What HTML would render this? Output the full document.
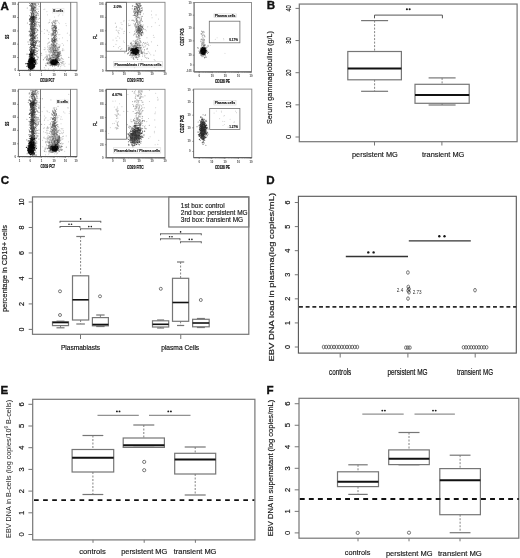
<!DOCTYPE html><html><head><meta charset="utf-8"><title>Figure</title><style>html,body{margin:0;padding:0;background:#fff;width:520px;height:558px;overflow:hidden}svg{display:block;will-change:transform}</style></head><body><svg width="520" height="558" viewBox="0 0 520 558"><defs><filter id="bl" x="0" y="0" width="1" height="1"><feGaussianBlur stdDeviation="0.35"/></filter></defs><rect width="520" height="558" fill="#fff"/><g filter="url(#bl)"><path d="M30.46 35.13h.01M33.99 49.55h.01M32.38 43.11h.01M36.9 13.94h.01M32.6 17.91h.01M36.1 48.3h.01M33.78 45.53h.01M33.04 44.24h.01M35.1 26.8h.01M34.59 18.06h.01M32.02 16.76h.01M35.8 15.51h.01M39.84 25.59h.01M33.93 28.74h.01M34.07 31.34h.01M31.88 54.76h.01M35.43 44.01h.01M31.36 34.98h.01M31.72 54.41h.01M37.93 13.41h.01M32.25 10.49h.01M37.41 34.46h.01M38.56 4.33h.01M35.27 3.89h.01M36.04 29.29h.01M39.68 26.71h.01M34.09 50.61h.01M33.06 35.35h.01M31.08 29.25h.01M34.71 28.33h.01M38.45 15.12h.01M32.15 12.2h.01M32.38 38.68h.01M33.29 12.63h.01M35.36 21.59h.01M35.16 45.99h.01M35.37 10.19h.01M33.82 16.18h.01M34.5 48.66h.01M35.14 29.02h.01M34.38 46.9h.01M35.91 35.91h.01M39.46 41.31h.01M36.14 6.85h.01M34.75 30.68h.01M30.22 28.91h.01M35.61 48.18h.01M29.54 21.15h.01M30.94 33.7h.01M36.82 5.14h.01M36.44 22.54h.01M34.21 19.12h.01M30.15 9.96h.01M33.63 45.27h.01M32.84 22.11h.01M36.26 53.87h.01M40.47 33.27h.01M35.16 34.07h.01M32.57 35.81h.01M31.56 37.85h.01M34.45 9.99h.01M34.14 25.34h.01M31.61 14.7h.01M34.9 23.33h.01M31.61 7.13h.01M37.49 53.29h.01M37.36 13.4h.01M37.42 37.6h.01M33.37 17.92h.01M35.94 48.33h.01M34.26 37.1h.01M33.59 8.98h.01M33.72 46.79h.01M31.22 52.08h.01M30.85 49.91h.01M36.67 32.2h.01M34.1 9.71h.01M35.16 12.2h.01M37.2 51.18h.01M30.09 31.27h.01M32.56 11.57h.01M35.06 48.86h.01M35.62 36h.01M33.62 32.19h.01M37.28 21.94h.01M35.15 23.78h.01M31.45 14.69h.01M32.18 4.02h.01M36.69 48.44h.01M35.81 26.79h.01M29.66 31.02h.01M38.1 19.07h.01M36.15 41.82h.01M38.09 3.34h.01M33.6 21.73h.01M33.83 3.61h.01M31.67 8.51h.01M41.2 53.26h.01M34.14 36.86h.01M38.73 24.7h.01M32.92 29.76h.01M35.03 48.26h.01M30.25 20.24h.01M33.6 33.29h.01M37.16 38.24h.01M31.35 20.84h.01M37.39 29.51h.01M35.48 42.56h.01M31.89 50.19h.01M33.3 10.01h.01M33.41 51.47h.01M33.21 41.91h.01M32.45 44.96h.01M33.81 9.25h.01M31.93 24.2h.01M31.25 45.21h.01M36.9 35.31h.01M30.62 44.03h.01M34.61 29.19h.01M32.91 40.47h.01M32.06 14h.01M36.82 12.52h.01M33.25 21.25h.01M38.5 11.51h.01M32.57 20.34h.01M35.6 52.25h.01M34.01 32.39h.01M32.64 20.02h.01M36.13 16.39h.01M34.2 52.46h.01M36.17 25.56h.01M34.48 53.96h.01M31.78 29.32h.01M34.33 29.62h.01M34.74 49.52h.01M37.09 41.37h.01M32.24 32.77h.01M34.5 24.61h.01M30.12 48.54h.01M36.29 23.82h.01M31.79 50.91h.01M29.9 5.64h.01M34.45 24.79h.01M37.47 29.53h.01M30.64 52.4h.01M31.77 15.3h.01M32.67 44.72h.01M31.66 37.85h.01M35.59 40.01h.01M32.5 35.37h.01M32.72 53.49h.01M36.12 19.63h.01M32.64 23.11h.01M35.73 12.75h.01M32.07 4.69h.01M31.45 13.28h.01M29.83 50.52h.01M39.44 46.53h.01M33.77 7.96h.01M35.23 34h.01M34.52 27.4h.01M35.02 33.52h.01M34.73 36.94h.01M39.56 18.25h.01M31.9 52.95h.01M30.55 26.69h.01M31.97 35.29h.01M31.13 35.67h.01M36.54 11.75h.01M36.73 5.28h.01M32.1 23.81h.01M30.98 42.49h.01M33.68 45.21h.01M38.22 40.69h.01M27.27 8h.01M35.97 50.41h.01M31.8 44.51h.01M37.3 48.52h.01M31.8 29.74h.01M33.86 50.53h.01M30.68 4.47h.01M32.06 3.61h.01M38.2 3.07h.01M36.73 15.4h.01M33.56 15.17h.01M32.34 11.94h.01M29.68 32.05h.01M33.58 4.07h.01M34.52 33.29h.01M34.38 10.8h.01M34.36 37.93h.01M31.68 3.12h.01M34.43 18.46h.01M34.5 51.73h.01M37.96 30.54h.01M39.45 45.01h.01M34.24 36.88h.01M32.61 34.37h.01M34.43 12.14h.01M33.02 32.44h.01M32.67 4.1h.01M34.45 44.49h.01M31.89 52.88h.01M36.18 47.26h.01M34.33 4.69h.01M35.25 19.95h.01M34.12 18.85h.01M32.71 7.97h.01M32.14 35.21h.01M33.98 44.27h.01M33.17 18.63h.01M35.21 47.73h.01M34.59 44.25h.01M31.06 8.84h.01M34.77 42.64h.01M31.11 48.78h.01M33 12.46h.01M33.83 32.4h.01M29.2 35.85h.01M34.84 34.29h.01M34.99 7.1h.01M34.19 37.04h.01M33.5 35.49h.01M33.63 45.67h.01M32.06 44.59h.01M33.9 19.34h.01M33.16 40.27h.01M34.84 47.97h.01M31.47 49.33h.01M35.21 10.56h.01M34.97 3.42h.01M34.23 36.49h.01M33.46 13.38h.01M36.04 31.88h.01M30.27 52.07h.01M35.8 22.1h.01M35.23 15.4h.01M35.34 26.2h.01M35.6 36.83h.01M32.9 7.36h.01M33.93 22.17h.01M36.26 9.09h.01M35.72 37.11h.01M35.14 46.02h.01M30.66 21.97h.01M36 21.7h.01M37.64 30.59h.01M37.23 13.4h.01M35.21 15.11h.01M30.55 19.48h.01M37.05 26.24h.01M34.22 6.32h.01M28.02 41.89h.01M35.58 32.69h.01M30.72 17.88h.01M31.23 6.11h.01M32.95 42.45h.01M37.91 8.95h.01M33.64 9.06h.01M35.3 8.93h.01M39.14 6.31h.01M38.74 50.04h.01M34.33 16.27h.01M33.97 18.24h.01M31.32 46.14h.01M32.79 34.86h.01M35.71 11.92h.01M35.63 25.05h.01M34.89 48.85h.01M37.19 21.89h.01M32.59 39.68h.01M34.45 7.13h.01M36.5 40.55h.01M36.12 43.15h.01M37.38 45.77h.01M35.63 37.73h.01M33.8 21.65h.01M35.54 5.4h.01M31.99 29.5h.01M30.34 42.15h.01M36.11 12.11h.01M34.46 16.11h.01M35.4 30.41h.01M30.19 41.66h.01M33.65 49.52h.01M33.04 8.66h.01M32.35 11.77h.01M28.74 44.38h.01M33.73 36.16h.01M36.93 40.21h.01M35.59 54.83h.01M33.04 51.78h.01M34.56 46.68h.01M36.57 43.19h.01M27.42 22.94h.01M34.28 35.99h.01M36.01 11.78h.01M36.37 42.25h.01M39.02 42.16h.01M37.55 40.23h.01M35.41 25.57h.01M35.39 22.04h.01M36.65 24.25h.01M33.2 3.77h.01M34.5 46.75h.01M36.96 30.75h.01M39.69 22.54h.01M34.19 31.05h.01M34.47 40.25h.01M35.12 22.22h.01M38.09 46.02h.01M34.52 50.73h.01M38.42 22.53h.01M32.09 9.3h.01M34.12 42.3h.01" stroke="#000" stroke-opacity="0.38" stroke-width="1.12" stroke-linecap="round"/><path d="M32.27 17.03h.01M30.88 53.55h.01M32.75 43.83h.01M35.65 23.98h.01M34.03 44.5h.01M31.21 26.87h.01M31.51 34.3h.01M32.09 49.54h.01M33.86 33.47h.01M31.57 27.23h.01M31.74 27.91h.01M33.71 19h.01M33.68 24.56h.01M32.13 26.57h.01M31.2 22.75h.01M30.66 18.46h.01M31.73 34.17h.01M29.81 24.36h.01M33.54 44.81h.01M31.81 51.98h.01M33.2 26.65h.01M34.94 38.32h.01M34.07 35.76h.01M31.16 18.93h.01M33.69 20.87h.01M34.05 50.51h.01M31.67 34.49h.01M31.41 47.38h.01M32.46 18.6h.01M30.6 39.2h.01M34.44 49.75h.01M29.59 49.82h.01M31.22 16.22h.01M32.26 36.35h.01M32.32 30.39h.01M32.81 45.64h.01M32.94 18.86h.01M32.33 26.33h.01M34.02 47.69h.01M29.93 34.31h.01M32.6 33.67h.01M31.71 53.77h.01M32.77 28.48h.01M32.88 17.63h.01M31.46 31.3h.01M31.8 21.98h.01M33.59 19.19h.01M33.04 38.15h.01M31.75 53.19h.01M35.15 38.6h.01M35.49 41.24h.01M30.77 28.62h.01M32.98 38.27h.01M35.74 45.34h.01M33.58 38.98h.01M32.88 47.31h.01M32.34 37.47h.01M31.92 23.73h.01M32.33 38.73h.01M31.91 35.15h.01M33.53 22.47h.01M32.1 40.15h.01M32.05 47.86h.01M31.1 21.27h.01M32.54 37.25h.01M31.48 44.61h.01M32.37 31.72h.01M33.9 26.53h.01M33.06 30.52h.01M33.23 37.13h.01M33.05 42.78h.01M32.67 37.81h.01M32.44 20.17h.01M32.22 47.9h.01M33.55 52.03h.01M31.24 19.95h.01M34.28 25.73h.01M32.64 22.77h.01M31.66 49.12h.01M31.99 51.5h.01M31.75 17.73h.01M32.8 28.96h.01M31.7 23.51h.01M34.03 34.31h.01M31.62 51.94h.01M29.76 18.74h.01M31.69 22.68h.01M30.09 34.99h.01M32.55 36.44h.01M33.92 45.07h.01M33.41 33.07h.01M30.93 21.5h.01M31.65 29.79h.01M34.82 54.3h.01M33 45.28h.01M32.61 20.54h.01M33.92 47.52h.01M35.67 28.13h.01M34.22 46.47h.01M32.77 16.5h.01M33.04 49.98h.01M33.37 22.33h.01M31.83 33.77h.01M31.28 41.81h.01M32.67 35.81h.01M31.42 22.45h.01M32.52 21.43h.01M32.72 27.1h.01M35.53 18.04h.01M31.54 24.45h.01M32.45 21.07h.01M32.39 34.13h.01M33.15 29.9h.01M33.91 38.89h.01M31.99 26.95h.01M31.57 17.32h.01M30.55 28.91h.01M31.44 45.45h.01M33.27 25.98h.01M32.66 31.78h.01M31.33 45.44h.01M32.13 31.86h.01M32.64 50.6h.01M33.23 51.8h.01M31.86 28.11h.01M32.29 44.7h.01M30.33 25.87h.01M31.16 21.44h.01M34.62 33.08h.01M29.86 39.5h.01M32.18 52.49h.01M32.87 21.69h.01M32.13 43.78h.01M31.59 34.54h.01M32.52 21.14h.01M32.59 53.93h.01M32.5 43.13h.01M30.25 21.03h.01M32.42 51.32h.01M31.53 20.02h.01M31.92 19.61h.01M32.88 28.93h.01M33.4 52.58h.01M33.72 17.29h.01M31.98 51.81h.01M33.76 39.85h.01M34.07 18.62h.01M34.02 38.18h.01M34.34 33.89h.01M32.42 38h.01M32.38 44.75h.01M33.63 42.47h.01M30.89 54.89h.01M32.86 22.11h.01M31.94 47.7h.01M32.14 32.03h.01M30.42 46.55h.01M31.49 50.78h.01M32.57 54.69h.01M33.71 26.38h.01M33.84 33.66h.01M32.5 52.77h.01M32.36 52.88h.01M31.56 30.54h.01M33.1 52.67h.01M32.29 31.83h.01M33.36 30.62h.01M34.79 45.51h.01M32.56 34.38h.01M30.73 33.48h.01M31.52 31.06h.01M30.78 32.88h.01M31.1 21.45h.01M34.23 18.38h.01M32.88 45.41h.01M30.7 38.02h.01M33.42 42.2h.01M34.18 47.29h.01M32.15 24.97h.01M31.76 25.12h.01M32.18 26.84h.01M32.96 27.85h.01M33.4 45.67h.01M34.08 30.59h.01M34.12 28.6h.01M34.08 40.82h.01M34.3 23.28h.01M33.43 20.15h.01M30.69 43.19h.01M32.44 45.5h.01M32.99 27.56h.01M32.12 40.81h.01M33.74 17.33h.01M32.15 31.77h.01M31.44 38.54h.01M34.41 25.88h.01M33.43 29.58h.01M32.87 39.77h.01M33.76 39.01h.01M33.93 22.01h.01M33.03 43.56h.01M29.53 19.12h.01M31.76 53.82h.01M32.03 23.89h.01M31.37 25.89h.01M32.85 23.81h.01M34.09 54.67h.01M31.99 27.18h.01M31.18 39.61h.01M35.14 54.63h.01M32.04 53.05h.01M31.06 17.65h.01M32.9 36.33h.01M33.13 39.45h.01M31.72 43.39h.01M33.59 29.1h.01M31.99 28.79h.01M31.45 16.17h.01M32.82 17.37h.01M33.56 37.45h.01M31.81 18.96h.01M33.01 23.9h.01M32.48 29h.01M36.13 18.75h.01M31.71 17.2h.01M34.33 52.15h.01M32.53 32.97h.01M32.44 23.99h.01M33.5 43.63h.01M33.72 16.37h.01M34.18 25.56h.01M33.01 53.47h.01M31.85 51.01h.01M31.93 40.8h.01M33.24 19.63h.01M33.33 28.4h.01M34.35 17.09h.01M33.12 24.55h.01M33.93 16.99h.01M34.5 20.92h.01M32.81 40.7h.01M30.74 19.92h.01M31.13 22.07h.01M30.8 51.21h.01M34.59 29.08h.01M31.54 28.99h.01M34.14 19.38h.01M33.33 47.04h.01M34.74 42.38h.01M33.85 37.34h.01M32.47 40.1h.01M32.35 19.91h.01M32.71 26.15h.01M32.82 38.76h.01M31.94 53.14h.01M32.56 47.87h.01M34.61 40.99h.01M30.47 36.23h.01M32.92 16.59h.01M31.47 50.74h.01M32.83 18.61h.01M33.65 21.03h.01M32.53 43.03h.01M33.57 47.67h.01M30.61 46.68h.01M33.98 33.64h.01M31.85 22.91h.01M33.38 17.38h.01M32.83 49.2h.01M29.37 54.13h.01M31.65 25.52h.01M32.88 49.78h.01M34.54 31.7h.01M32.96 28.14h.01M32.92 35.7h.01M30.83 16.32h.01M34.39 33.27h.01M34.86 23.78h.01M32.64 43.79h.01M32.33 35.6h.01M30.58 49.89h.01M33.7 50.97h.01M35.98 28.35h.01M33.5 26.93h.01M34.18 52.63h.01M33.28 35.66h.01M31.37 19.76h.01M34.27 17.79h.01M31.06 54.63h.01M32.34 38.59h.01M32.95 18.13h.01M33.7 35.94h.01M33.12 35.66h.01M33.08 32.98h.01M31.65 53.1h.01M30.99 53h.01M32.68 20.87h.01M31.71 21.92h.01M30.97 31.89h.01M31.02 48.53h.01M31.99 40.33h.01M30.28 44.46h.01M30.92 38.47h.01M30.56 24.19h.01M32.83 47.89h.01M33.11 16.55h.01M35.11 43.24h.01M30.73 23.58h.01M31.75 34.37h.01M33.74 54.03h.01M32.33 37.02h.01M32.19 18.22h.01M34.74 32.72h.01M32.18 41.75h.01M31.15 18.21h.01M30.95 25.85h.01M33.02 16.72h.01M32.98 37.06h.01M30.89 30.88h.01M31.37 35.64h.01M33.27 27.54h.01M33.32 41.62h.01M31.8 22.75h.01M33.38 51.36h.01M33.31 53.44h.01M30.37 35.23h.01M32.21 34.15h.01M33.12 49.53h.01M31.88 27.3h.01M29.93 47.32h.01M32.25 27.2h.01M33.54 44.08h.01M34.58 29.03h.01M29.86 39.5h.01M35.87 52.11h.01M31.19 18.12h.01M33.8 47.48h.01M34.14 37.13h.01M33.83 30.78h.01M32.79 29.66h.01M31.15 18.71h.01M33.38 26.08h.01M31.71 40.3h.01M29.45 19.81h.01M36.14 42.11h.01M33.49 53.53h.01M34.87 54.25h.01M31.46 50.68h.01M34.43 47.46h.01M34.59 22.94h.01M34.54 53.84h.01M32.57 23.91h.01M31.1 49.89h.01M32.38 50.24h.01M29.85 40.25h.01M30.47 36.33h.01M32.71 23.82h.01M31.36 36.26h.01M32.39 27.33h.01M32.46 20.91h.01M35.01 21h.01M34.22 47.25h.01M32.54 51.97h.01M34.11 21.53h.01M31.63 16.52h.01M32.18 26.28h.01M33.74 21.24h.01M31.05 23.36h.01M32.25 38.75h.01M30.95 32.47h.01M32.75 32.74h.01M34.64 24.02h.01M31.66 41.92h.01M32.88 27.29h.01M31.48 31.57h.01M31.16 34.07h.01M31.06 51.27h.01M34.42 25.61h.01M35.55 44.03h.01M33.2 28.07h.01M31.7 50.88h.01M33.48 31.37h.01M32.18 35.7h.01M33.6 50.21h.01M32.96 42.24h.01M32.95 19.68h.01M33.36 21.34h.01M31.88 54.64h.01M32.09 17.14h.01M30.45 27.73h.01M32.05 53.4h.01M30.82 16.59h.01M32.42 22.29h.01M31.4 24.32h.01M32.73 19.37h.01M33.17 34.41h.01M30.82 39.11h.01M31.58 28.41h.01M31.42 20.24h.01M33.53 47.63h.01M34.73 47.37h.01M33.66 37.92h.01M32.16 21.37h.01M34.43 37.13h.01M30.71 40.55h.01M34.47 32.7h.01M31.78 49.69h.01M29.12 31.21h.01M35.91 35.92h.01M34.57 20.45h.01M31.31 37.98h.01M32.81 45.89h.01M32.33 44.52h.01M32.73 26.02h.01M30.75 54.68h.01M31.75 44.08h.01M33.18 32.53h.01M32.88 32.18h.01M34.1 46.39h.01M32.7 22.85h.01" stroke="#000" stroke-opacity="0.67" stroke-width="1.12" stroke-linecap="round"/><path d="M35.2 10.62h.01M34.27 14.17h.01M33.23 13.63h.01M36.7 15.05h.01M34.3 3.89h.01M32.62 5.25h.01M34.4 7.56h.01M33.87 7.07h.01M31.79 15.6h.01M33.32 19.88h.01M32.93 14.3h.01M32.92 7.36h.01M32.73 16.45h.01M32.48 18.64h.01M30.49 12.71h.01M32.62 8.28h.01M33.13 8.39h.01M33.37 13.4h.01M31.33 17.56h.01M34.24 8.13h.01M31.2 5.43h.01M35.35 4.47h.01M32.06 17.32h.01M32.36 13.24h.01M34.97 19.83h.01M32.57 3.25h.01M32.71 8.59h.01M33.56 16.32h.01M34.93 13.9h.01M29.58 3.2h.01M31.84 9.23h.01M31.54 13.48h.01M31.42 14.38h.01M31.8 10.13h.01M31.82 5.39h.01M33.69 19.39h.01M31.74 10.4h.01M33.4 14.91h.01M33.86 11.63h.01M32 3.45h.01M33.41 6.26h.01M35.88 3.13h.01M33.73 5.43h.01M32.16 5.6h.01M33.09 9.47h.01M31.7 7.79h.01M33.64 8.53h.01M34.61 16.7h.01M32.86 3.86h.01M35.02 16.54h.01M32.39 11.61h.01M33.51 9.9h.01M31.53 6.81h.01M31.86 11.76h.01M32.36 5.99h.01M36.68 17.45h.01M32.55 16.83h.01M32.35 7.79h.01M32.94 17.98h.01M34.25 7.38h.01M33.5 13.82h.01M36.49 17.45h.01M33.54 16.37h.01M35.52 17.53h.01M33.64 10.8h.01M34.17 17.16h.01M30.89 10.3h.01M33 6.75h.01M33.09 10.66h.01M32.81 8.04h.01M29.76 15.81h.01M34.61 16.97h.01M32.58 4.54h.01M32.5 4.96h.01M32.79 8.91h.01M32.84 10.34h.01M33.85 19.21h.01M31.17 18.95h.01M31.71 19.41h.01M33.67 15.14h.01M33.43 14.19h.01M32.6 6.87h.01M32.28 8.71h.01M33.11 16.99h.01M35.09 6.97h.01M31.51 3.43h.01M35.64 7.68h.01M34.55 7.82h.01M32.48 15.03h.01M30.85 6.14h.01M30.43 18.14h.01M31.14 17.39h.01M32.54 13.32h.01M32.68 12.06h.01M32.38 6.01h.01M33.36 17.75h.01M29.78 15.69h.01M33.99 11.23h.01M30.93 4.9h.01M32.14 5.89h.01M32.54 8.83h.01M31.35 7.96h.01M31.01 3.1h.01M31.59 9.31h.01M33.18 10.08h.01M34.14 7.17h.01M34.1 8.92h.01M31.61 7.98h.01M31.93 8.78h.01M31.73 13.14h.01M33.92 10.95h.01M29.94 5.56h.01M35.18 16.31h.01M32.42 11.24h.01" stroke="#000" stroke-opacity="0.51" stroke-width="1.12" stroke-linecap="round"/><path d="M30.22 64.35h.01M32.95 64.36h.01M32.98 63.78h.01M33.24 66.89h.01M31.25 67.43h.01M31.65 63.64h.01M30.02 62.59h.01M32.57 59.72h.01M32.37 64.38h.01M31.82 57.22h.01M31.25 65.22h.01M30.26 63.65h.01M27.83 65.28h.01M30.41 65.84h.01M28.64 65.34h.01M31.04 65.66h.01M30.01 61.67h.01M34.76 61.08h.01M30.34 62.63h.01M29.87 66.73h.01M33.99 61.43h.01M28.81 66.68h.01M33.06 65.7h.01M33.13 60.97h.01M31.15 59.52h.01M29.27 66.15h.01M30.39 69.78h.01M31.51 61.61h.01M32.6 68.44h.01M32.13 59.99h.01M31.96 67.25h.01M30.66 61.23h.01M32.92 63.79h.01M29.75 62.34h.01M30.27 64.23h.01M31.56 66.62h.01M32.46 59.02h.01M32.01 65.91h.01M32.08 66.28h.01M30.58 60.74h.01M32.8 60.42h.01M28.16 66.27h.01M30.31 62.54h.01M29.3 59.69h.01M29.67 62.39h.01M31.95 56.97h.01M32.53 60.09h.01M29.8 65.3h.01M31.29 59.1h.01M34.17 60.99h.01M31.77 63.96h.01M33.52 62.12h.01M32.91 61.32h.01M33.08 61.26h.01M30.86 68.71h.01M31.88 63.71h.01M34.76 64.41h.01M30.18 65.46h.01M29.63 66.56h.01M33.21 61.8h.01M30.46 63.89h.01M31.42 60.66h.01M32.25 57.68h.01M30.75 62.27h.01M30.99 64.26h.01M29.56 65.05h.01M31.13 61.58h.01M29.35 60.09h.01M31.94 60.7h.01M31.5 66.37h.01M32.95 67.77h.01M30.96 60.36h.01M32.93 64.27h.01M33.09 63.43h.01M33.19 65.77h.01M32.47 64.81h.01M32 64.05h.01M31.74 66.17h.01M30.63 68.26h.01M31.24 66.16h.01M31.26 62.71h.01M34.45 62.53h.01M29.48 61.4h.01M30.92 69.43h.01M31.71 66.02h.01M29.9 64.39h.01M32.41 68.44h.01M30.36 65.09h.01M31.85 60.54h.01M31.37 62.66h.01M27.91 65.08h.01M32.21 62.17h.01M29.39 67.54h.01M31.8 66.25h.01M33.52 61.94h.01M32.62 62.72h.01M31.31 63.16h.01M31.4 66.52h.01M31.59 62.97h.01M30.99 64.36h.01M30.06 61.99h.01M31.32 61.82h.01M31.22 61.69h.01M34.41 67.12h.01M32.07 63.25h.01M34.69 64.3h.01M31.27 64.25h.01M31.86 67.35h.01M31.37 69.28h.01M30.08 65.34h.01M29.9 68.49h.01M30.9 63.24h.01M32.79 66.91h.01M29.73 62.43h.01M29.31 63.78h.01M31.25 62.42h.01M30.37 62.32h.01M30.28 64.88h.01M33.67 57.99h.01M31.23 62.23h.01M32.14 60.74h.01M31.18 60.49h.01M32.45 63.68h.01M31.16 64.44h.01M31.03 59.05h.01M32.29 64.21h.01M31.17 66.16h.01M33.23 60.34h.01M30.23 67.73h.01M33.53 61.33h.01M29.63 61.61h.01M30.65 58.96h.01M31.45 59.82h.01M29.58 65.97h.01M30.38 63.2h.01M32.34 65.68h.01M30.89 63.52h.01M30.16 68.29h.01M32.37 60.31h.01M31.41 65.4h.01M32.12 68.52h.01M33.46 61.89h.01M31.27 59.81h.01M31.77 63.82h.01M35.46 63.67h.01M28.26 61.52h.01M31.57 59.88h.01M30.1 62.38h.01M31.91 62.94h.01M30.07 65.61h.01M30.59 62h.01M29.33 61.2h.01M32.38 58.87h.01M31.29 65.41h.01M30.83 64.07h.01M29.72 67.07h.01M33.05 64.06h.01M28.77 60.47h.01M32.87 68.2h.01M31.84 66.89h.01M30.49 62.87h.01M31.4 64.58h.01M29.11 66.03h.01M33.38 60.18h.01M29.37 64.38h.01M30.42 56.76h.01M32.61 63.84h.01M30.69 69.32h.01M31.61 61.29h.01M31.55 60.49h.01M30.26 64.48h.01M30.57 62.14h.01M33.9 65.81h.01M32.6 64.88h.01M32.13 67.48h.01M31.37 68.6h.01M29.97 62.69h.01M29.33 62.44h.01M32.18 67.46h.01M30.41 63.41h.01M30.86 61.33h.01M29.62 63.57h.01M28.8 63.71h.01M31.43 61.56h.01M29.88 59.52h.01M34.21 59.64h.01M33.74 65.08h.01M30.85 60.16h.01M32.96 68.24h.01M30 62.56h.01M32.98 64.34h.01M34.4 61.8h.01M32.21 59.9h.01M34.54 61.36h.01M28.09 63.05h.01M31.19 68.76h.01M30.89 63.36h.01M32.29 67.84h.01M31.31 66.31h.01M32.18 62.57h.01M31.52 63.48h.01M30.03 66.8h.01M29.32 66.68h.01M32.83 63.14h.01M30.25 62.77h.01M32.11 65.48h.01M31.83 66.18h.01M30.56 64.06h.01M29.05 65.54h.01M31.63 62.24h.01M33.14 65.34h.01M27.18 63.51h.01M29.22 66.39h.01M35.13 61.95h.01M31.51 62.7h.01M31.93 65.2h.01M33.33 60.64h.01M33.76 60.79h.01M31.82 66.64h.01M32.47 60.77h.01M30.35 62.11h.01M31.32 66.61h.01M29.46 64.71h.01M32.31 64.96h.01M32.1 67.65h.01M32.13 65.8h.01M32.25 68.42h.01M28.55 66.99h.01M31.01 62.61h.01M29.95 58.17h.01M30.83 61.48h.01M32.14 59.28h.01M33.55 64.16h.01M31.03 61.41h.01M30.22 60.24h.01M30.58 63.42h.01M31.13 59.44h.01M31 60.9h.01M31.64 68.62h.01M32.34 62.52h.01M28.96 59.44h.01M28.87 65.43h.01M30.25 63.58h.01M30.47 63.66h.01M33.5 61.48h.01M30.89 61.14h.01M32.71 60.53h.01M29.7 59.51h.01M29.29 64.72h.01M35.25 60.61h.01M32.83 64.1h.01M29.75 62.63h.01M31.05 61.47h.01M34.3 58.06h.01M31.97 64.33h.01M30.53 63.82h.01M32.72 63.83h.01M32.03 65.34h.01M28.35 67.54h.01M34.82 66.15h.01M32.92 59.46h.01M31.22 61.13h.01M30.52 66.11h.01M30.19 63.04h.01M28.54 62.96h.01M31.54 61.43h.01M30.32 68.68h.01M29.59 60.46h.01M30.19 66.76h.01M34.55 64.33h.01M30.32 62.2h.01M33 60.85h.01M33.58 67.37h.01M31.51 65.21h.01M32.52 67.75h.01M29.82 66.71h.01M30.84 61.25h.01M31.55 62.8h.01M29.92 58.93h.01M29.99 67.47h.01M34.34 65.22h.01M33.18 61.95h.01M31.28 64.19h.01M29.78 60.63h.01M31.55 62.5h.01M29.8 64.48h.01M31.01 66.26h.01M31.39 62.56h.01M31.59 62.92h.01M30.4 62.27h.01M32.52 65.21h.01M33.33 58.66h.01M30.81 62.24h.01M31.66 62.13h.01M30.63 65.59h.01M31.67 60.13h.01M33.4 66.19h.01M30.54 65.73h.01M30.3 66.55h.01M31.07 61.15h.01M30.84 61.26h.01M31.69 63.89h.01M31.45 61.84h.01M25.91 63.66h.01M28.56 64.08h.01M33.1 64.17h.01M30.82 62.9h.01M31.2 61.86h.01M30.52 60.81h.01M33.18 63.36h.01M32.83 62.7h.01M31.51 62.92h.01M32.09 65.71h.01M31.76 61.51h.01M30.23 68.05h.01M30.98 62.58h.01M33.6 66.45h.01M32.2 62.28h.01M34.93 64.5h.01M32.22 62.92h.01M29.28 59.66h.01M32.01 64.5h.01M31.04 60.12h.01M29.24 62.48h.01M29.22 65.92h.01M32.72 61.74h.01M30.09 53.74h.01M30.51 62.9h.01M32.85 65.11h.01M32.28 64h.01M32.39 67.45h.01M29.8 62.12h.01M29.32 67.93h.01M33.35 65.51h.01M29.6 63.88h.01M31.05 63.63h.01M31.12 64.86h.01M30.81 65.79h.01M31.76 62.58h.01M31.23 62.17h.01M32.62 62.64h.01M31.84 62.3h.01M29.17 65.94h.01M29.81 65.3h.01M32.03 58.76h.01M29.98 61.96h.01M30.17 60.09h.01M32.51 62.73h.01M31.98 62.19h.01M31.86 61.3h.01M31.36 65.03h.01M31.47 62.12h.01M29.77 63.87h.01M31.92 62.68h.01M30.25 64.92h.01M35.12 62.55h.01M31.91 64.46h.01M27.55 63.75h.01M30.34 67.28h.01M31.02 61.22h.01M31.07 63.87h.01M30.56 63.25h.01M29.37 62.77h.01M32.56 68.91h.01M32.46 64.16h.01M33.18 66.25h.01M33.9 66.43h.01M31.22 64.12h.01M31.67 64.25h.01M31.7 61.21h.01M28.24 61.52h.01M28.36 63.59h.01M31.41 58.71h.01M32.43 65.83h.01M31.54 68.07h.01M34.21 60.02h.01M32.96 64.63h.01M32.03 66.02h.01M30.32 61.74h.01M30.16 61.29h.01M31.25 59.33h.01M29.83 65.02h.01M31.29 64.47h.01M28.57 61.21h.01M30.57 63.49h.01M30.52 66.01h.01M31.31 63.45h.01M31.42 65.38h.01M30.69 66.54h.01M32.09 63.83h.01M31.46 64.86h.01M32.92 66.05h.01M31.96 65.85h.01M31.58 66.91h.01M31.36 57.59h.01M33.41 63.7h.01M29.64 62.84h.01M30.07 69.28h.01M32.15 59.01h.01M32.22 62.28h.01M34.28 60.45h.01M28.03 63.58h.01M30.88 62.23h.01M28.19 64.6h.01M33.91 58.05h.01M33.16 61.81h.01M34.92 64.62h.01M31.12 66.5h.01M32.19 61.74h.01M32.47 61.97h.01M28.72 69.09h.01M30.88 61.69h.01M31.91 59.03h.01M29.37 62h.01M30.62 63.6h.01M33.08 62.07h.01M32.14 65.08h.01M29.77 64.04h.01M29.99 66.38h.01M32.08 63.45h.01M29.39 63.72h.01M30.25 65.38h.01M31.22 61.13h.01M32.79 65.42h.01M30.51 66.65h.01M30.95 62.53h.01M31.59 61.29h.01M30.74 62.95h.01M33.7 67.6h.01M31.01 67.91h.01M31.34 64.47h.01M32.73 64.22h.01M35.02 64.08h.01M29.6 67.06h.01M30.78 62.55h.01M26.91 66.2h.01M32.63 65.64h.01M32.87 68.13h.01M31.33 66.03h.01M30.28 62.41h.01M32.99 64.5h.01M29.4 64.41h.01M31.13 61.11h.01M32.05 62.27h.01M29.04 60.29h.01M34.05 59.16h.01M31.73 65.11h.01M32.36 59.97h.01M30.92 63.79h.01" stroke="#000" stroke-opacity="0.95" stroke-width="1.12" stroke-linecap="round"/><path d="M32.86 56.32h.01M30.5 60.61h.01M33.23 58.96h.01M31.17 59.06h.01M32.03 60.18h.01M30.4 58.3h.01M31.71 55.11h.01M32.16 58.09h.01M31.41 59.03h.01M30.2 57.86h.01M32.42 58.74h.01M33.19 54.88h.01M30.09 58.62h.01M32.45 63.51h.01M32.64 55.73h.01M32.87 55.8h.01M30.12 64.78h.01M32.29 59.86h.01M32.58 62.71h.01M32.24 61.17h.01M30.67 54.38h.01M33.61 61.83h.01M32.51 58.59h.01M32.1 56.21h.01M33.75 59.71h.01M32.51 58.98h.01M33.16 59.31h.01M32.79 54.96h.01M32.51 63.69h.01M31.28 57.67h.01M32.97 60.49h.01M32.65 53.79h.01M32.5 54.92h.01M30.91 59.42h.01M31.55 60.11h.01M35.68 60.02h.01M32.77 55.67h.01M31.13 55.23h.01M31.26 55.16h.01M31.11 57.46h.01M30.7 54.31h.01M30.27 59.18h.01M31.97 60.67h.01M33.15 57.11h.01M32.7 54.25h.01M34.64 61.11h.01M31.64 54.98h.01M32.36 53.14h.01M30.96 59.95h.01M31.99 56.72h.01M33.04 55.3h.01M32.24 56.71h.01M30.88 59.2h.01M30.71 62.95h.01M31.2 63.17h.01M30.59 59.58h.01M30.46 54.51h.01M32.09 59.76h.01M30.37 61.08h.01M30.94 58.34h.01M32.36 59.55h.01M29.74 62.21h.01M32.57 56.89h.01M30.67 53.6h.01M30.27 59.42h.01M31.49 55.06h.01M31.27 62.07h.01M31.5 56.48h.01M33.52 59.2h.01M31.95 56.42h.01M30.04 54.96h.01M31.32 57.43h.01M32.33 59.43h.01M32.17 58.57h.01M30.69 52.4h.01M31.27 55.52h.01M31.12 57.29h.01M30.41 55.11h.01M31.78 58.3h.01M31.11 59.3h.01M31.64 55.35h.01M31.95 62.89h.01M31.09 61.03h.01M33.55 61.9h.01M30.91 63.24h.01M32.04 57.34h.01M31.62 59.56h.01M31.96 57.54h.01M33.44 56.12h.01M30.65 60.06h.01M32.74 60.84h.01M30.61 60.81h.01M32.48 62.58h.01M30.4 58.57h.01M31.57 53.87h.01M31.04 60.93h.01M31.34 56.12h.01M32.94 60.57h.01M33.08 55.95h.01M31.83 60.68h.01M31.11 56.05h.01M32.89 62.06h.01M30.52 51.25h.01M30.16 55.37h.01M31.73 59.6h.01M31.72 56.18h.01M32.08 55.5h.01M31.84 56.33h.01M35.12 60.12h.01M30.9 55.41h.01M31.37 53.72h.01M31.02 56.08h.01M32.96 56.89h.01M30.95 54.51h.01M30.49 57.83h.01M31.64 60.95h.01M31.15 60.75h.01M32.21 57.99h.01M29.49 54.65h.01M32.79 61.63h.01M32.15 59.98h.01M31.41 57.03h.01M31.1 60.53h.01M32.31 57.39h.01M31.51 59.45h.01M32.29 55.84h.01M33.96 58.67h.01M31.91 61.84h.01M33.13 57.77h.01M32.54 55.22h.01M31.13 52.12h.01M33.36 53.06h.01M32.72 55.84h.01M30.73 57.49h.01M32.22 59.59h.01M34.03 58.93h.01M32.96 56.44h.01M32.76 58.4h.01M31.34 57.75h.01M31.83 58.5h.01M32.38 56.68h.01M31.01 59.94h.01M29.86 56.39h.01M33.76 50.96h.01M31.07 59.79h.01M29.92 64.76h.01M28.79 61.74h.01M33.77 60.38h.01M31.63 58.93h.01M30.82 60.1h.01M30.56 57.29h.01M33.1 55.1h.01M31.46 58.43h.01M30.29 61.03h.01M32.31 54.06h.01M31.84 55.98h.01M31.11 58.2h.01M31.05 60.51h.01M31.05 60.55h.01M31.85 60.22h.01" stroke="#000" stroke-opacity="0.8" stroke-width="1.12" stroke-linecap="round"/><path d="M31.05 58.83h.01M29.65 63.49h.01M35.27 62.07h.01M31.81 62.67h.01M32.24 67.29h.01M34.47 57.4h.01M30.72 66.88h.01M33.01 60h.01M35.03 59.33h.01M31.66 59.02h.01M27.79 64.72h.01M29.52 58.55h.01M30.59 64.13h.01M32.14 61.07h.01M28.44 60.62h.01M28.9 62.32h.01M33.14 60.93h.01M37 63.27h.01M33.67 61.61h.01M31.86 65.15h.01M34.83 55.41h.01M34.73 63.21h.01M34.51 63h.01M29.44 55.96h.01M36.5 62.09h.01M29.04 62.5h.01M31.47 53.07h.01M27.03 54.11h.01M32.93 60.79h.01M31.73 62.22h.01M33.68 51.96h.01M31.61 57.44h.01M29.46 58.65h.01M32.02 59.85h.01M28.95 58.92h.01M36.94 56.47h.01M28.42 62.18h.01M33.67 63h.01M29.72 65.29h.01M30.49 56.12h.01M30.9 60.53h.01M33.94 63.68h.01M32.25 65.01h.01M32.49 64.85h.01M29.07 54.23h.01M34.08 55.02h.01M31.61 60.58h.01M31.18 59.05h.01M35.5 50.12h.01M32.35 60.92h.01M33.97 68.86h.01M29.57 61.38h.01M31.87 63.41h.01M32.67 63.84h.01M31.33 61.21h.01M30.76 58.14h.01M31.97 60.39h.01M29.6 67.75h.01M31.99 55.05h.01M34.83 57.78h.01M33.47 60.93h.01M32.88 61.74h.01M30.98 61.18h.01M36.98 51.38h.01M32.45 62.87h.01M29.88 55.11h.01M37.27 59.4h.01M37.08 63.3h.01M32.48 63.05h.01M33.76 66.07h.01M33.3 61.62h.01M32.71 66.81h.01M34.18 56.69h.01M30.84 62.42h.01M30.87 59.38h.01M30.1 59.87h.01M33.27 65.28h.01M34.6 63.14h.01M31.15 48.85h.01M31.94 61.77h.01M36.72 55.07h.01M36.68 59.92h.01M33.97 50.08h.01M32.62 59.52h.01M33.87 61.39h.01M29.67 65.07h.01M33.9 63.57h.01M34.62 65.73h.01M32.25 55.16h.01M29.11 66.8h.01M33.93 61.44h.01M31.3 61.14h.01M32.36 59.55h.01M32.83 58.4h.01M29.31 57.88h.01M33.96 64.26h.01M31.8 61.22h.01M31.6 56.24h.01M35.29 62.6h.01M38 57.75h.01M31.98 64.8h.01M31.74 55.03h.01M30.12 61.43h.01M33.09 60.59h.01M34.61 65.27h.01M33.04 61.12h.01M31.72 63.37h.01M34.42 61.26h.01M33.33 59.61h.01M29.05 56.7h.01M34.06 62.92h.01M35.96 61.24h.01M34.29 66.69h.01M34.59 58.38h.01M31.88 61.56h.01M30.03 63.04h.01M34.66 58.93h.01M36.84 59.75h.01M31.83 59.98h.01M30.67 62.8h.01M32.35 68.14h.01M33.7 63.31h.01M31.79 54.92h.01M32.09 57.34h.01M34.49 60.87h.01M36.13 64.16h.01M34.22 61.99h.01M32.78 63.81h.01M34.42 57.94h.01M32.09 59.9h.01M30.71 54.77h.01M35.03 61.26h.01M32.99 68.93h.01M38.07 57.18h.01" stroke="#000" stroke-opacity="0.48" stroke-width="1.12" stroke-linecap="round"/><path d="M55.67 63.02h.01M54.82 62.88h.01M54.27 63.99h.01M55.1 62.75h.01M55.92 63.3h.01M54.9 62.73h.01M56.59 62.91h.01M54.19 61.55h.01M53.86 61.35h.01M54.44 62.66h.01M51.64 62.42h.01M55.15 62.57h.01M53.06 63.67h.01M53.4 61.17h.01M52.9 62.39h.01M55.58 63.57h.01M54.58 61.21h.01M53.45 61.5h.01M54.07 60.63h.01M54.45 63.05h.01M54.11 62.86h.01M53.08 60.95h.01M53.47 63.56h.01M55.64 61.94h.01M55.87 62.08h.01M56.27 62.88h.01M53.71 63.2h.01M53.29 61.46h.01M52.41 62.66h.01M54.23 62.32h.01M53.77 63.84h.01M53.75 61.68h.01M55.92 63.82h.01M54.74 60.66h.01M53.52 63.01h.01M54.32 63.95h.01M52.52 63.08h.01M53.48 63.72h.01M54.2 63.43h.01M53.46 60.99h.01M52.86 61.79h.01M52.97 63.6h.01M56.04 62.67h.01M52.96 62.28h.01M53.41 63.85h.01M54.71 62.89h.01M53.78 60.39h.01M53.3 61.28h.01M54.78 62.5h.01M53.26 62.01h.01M56.34 61.44h.01M53.11 62.17h.01M53.39 61.97h.01M54.99 64.13h.01M51.99 62.38h.01M54.35 62.32h.01M54.06 62.06h.01M55.61 61.93h.01M54.13 62.4h.01M54.44 62.23h.01M55.6 62.39h.01M54.53 62.35h.01M53 61.57h.01M52.93 62.59h.01M53.37 61.34h.01M54.61 62.93h.01M52.01 64.09h.01M54.34 62.29h.01M55.69 62.47h.01M53.51 64.59h.01M52.9 62.3h.01M55.4 61.33h.01M54.17 62.79h.01M57.42 61.51h.01M54.24 63.06h.01M54.41 61.2h.01M54.83 62.51h.01M54.88 63.53h.01M55.62 62.81h.01M54.7 61.3h.01M54.13 62.62h.01M53.78 62.5h.01M53.23 63.93h.01M57.1 62.01h.01M54.82 62.17h.01M55.94 62.83h.01M54.4 62.18h.01M54.46 61.4h.01M55.18 61.69h.01M55 62.53h.01M55.72 62.38h.01M55.63 61.48h.01M55.09 62.18h.01M54.55 62.47h.01M55.52 60.38h.01M54.72 60.91h.01M55.87 60.43h.01M53 60.73h.01M56.43 61.11h.01M54.45 61.86h.01M51.96 62.06h.01M55.16 62.22h.01M55.52 62.04h.01M54.31 62.02h.01M54.75 64.3h.01M54.77 62.59h.01M53.5 61.64h.01M56.2 61.29h.01M53.11 62.3h.01M53.75 64.36h.01M51.22 62.76h.01M55.23 61.28h.01M53.46 62.83h.01M56.42 61.48h.01M52.25 63.37h.01M56.28 62.06h.01M51.42 63.85h.01M54.04 63.52h.01M54.24 62.02h.01M53.71 63.87h.01M56.16 60.26h.01M53.08 64.18h.01M53.82 61.04h.01M54.31 62.29h.01M54.17 61.92h.01M53.9 61.94h.01M54.73 61.59h.01M53.92 62.26h.01M56 62.77h.01M54.16 62.94h.01M54.83 63.49h.01M54.96 64.19h.01M56.05 62.36h.01M53.76 63.28h.01M54.97 62.31h.01M52.38 60.57h.01M54.75 63.17h.01M55.34 61.11h.01M55.65 61.87h.01M54.8 62.82h.01M53.26 61.81h.01M51.61 61.48h.01M51.96 62.84h.01M54.38 63.31h.01M54.76 61.77h.01M54.75 62.01h.01M55.09 62.72h.01M53.01 62.4h.01M54.37 62.09h.01M55.46 64.11h.01M53.82 62.05h.01M51.38 62.27h.01M53.73 60.24h.01M54.68 62.99h.01M53.35 62.03h.01M53.04 63.16h.01M52.33 62.09h.01M56.84 62.45h.01M54.91 62.25h.01M52.77 62.37h.01M54.83 61.38h.01M54.74 63.64h.01M55.69 60.82h.01M53.03 60.79h.01M55.69 63.01h.01M55.21 61.52h.01M52.78 62.48h.01M54.43 61.55h.01M54.48 63.04h.01M54.6 61.36h.01M51.55 62.14h.01M54.51 62.14h.01M53.74 61.71h.01M55.23 62.35h.01M54.46 61.43h.01M53.49 62.56h.01M52.99 61.14h.01M53.87 63.6h.01M54.55 63.86h.01M54.13 62.09h.01M52.49 61.82h.01M56.17 62.73h.01M55.25 63.11h.01M54.29 62.2h.01M54.45 63.07h.01M54.9 62.89h.01M54.5 61.63h.01M53.96 61.46h.01M55.61 60.3h.01M54.02 64.79h.01M53.86 61.27h.01M54.28 63.69h.01M54.09 63.01h.01M54.43 62.03h.01M58.4 62.47h.01M53.6 61.91h.01M54.79 62.81h.01M55.3 62.54h.01M52.44 62.93h.01M53.9 62.11h.01M52.37 61.83h.01M53.36 62.36h.01M52.41 62.45h.01M54.46 61.28h.01M53.49 61.54h.01M55.48 59.87h.01M53.85 60.74h.01M53.74 63.25h.01M53.48 62.54h.01M53.2 64.34h.01M55.49 63.53h.01M52.57 61.3h.01M55.7 62.21h.01M53.96 62.73h.01M52.67 63.17h.01M54.32 62.88h.01M53.43 62.91h.01M53.38 63.35h.01M55.77 63.31h.01M54.97 63.03h.01" stroke="#000" stroke-opacity="0.95" stroke-width="1.12" stroke-linecap="round"/><path d="M57.79 62.55h.01M50.86 62.9h.01M56.7 61.04h.01M56.79 62.49h.01M57.2 63.11h.01M56.49 64.01h.01M56.93 59.87h.01M51.27 63.28h.01M56.4 60.34h.01M53.03 59.93h.01M57.14 63.1h.01M51.93 63.47h.01M52.93 63.79h.01M50.48 63.09h.01M53.96 60.26h.01M57.05 63.79h.01M57.44 61h.01M51.06 61.93h.01M52.89 63.97h.01M53.83 60.07h.01M52.76 64.96h.01M53.52 60.22h.01M51.55 63.55h.01M51.37 61.77h.01M55.85 63.91h.01M54.89 64.99h.01M56.61 60.44h.01M50.61 61.3h.01M51.7 63.15h.01M54.12 59.77h.01M56.27 61.2h.01M56.25 64.43h.01M56.97 62.28h.01M57.54 62.16h.01M51.79 61.78h.01M54.03 64.69h.01M53.96 64.32h.01M50.33 62.26h.01M52.28 61.87h.01M51.88 63.32h.01M53.53 59.88h.01M57.08 61.83h.01M55.36 64.45h.01M54 63.49h.01M51.35 60.12h.01M50.96 63.83h.01M52.87 64.22h.01M51.62 62.71h.01M52.96 60.81h.01M56.98 61.06h.01M57.29 60.8h.01M55.16 60.25h.01M52.71 63.76h.01M56.45 61.24h.01M54.06 60.51h.01M56.19 63.89h.01M57.03 61.74h.01M54.12 64.07h.01M53.66 60.2h.01M52.71 60.45h.01M57.62 61.09h.01M53.2 60.19h.01M57.06 61.67h.01M57.02 63.8h.01M56.69 63.43h.01M54.78 64.07h.01M51.82 61.53h.01M51.57 62.42h.01M57.06 62.78h.01M56.28 64.11h.01M51.56 60.68h.01M51.45 62.83h.01M54.9 59.99h.01M51.42 62.32h.01M56.2 61.32h.01M53.93 59.29h.01M51.28 61.76h.01M52.06 64.25h.01M54.53 64.64h.01M53.08 64.9h.01M52.9 63.65h.01M52.11 63.43h.01M55.63 64.61h.01M50.49 62.96h.01M55.97 63.17h.01M55.5 61.6h.01M51.28 61.66h.01M56.46 63.86h.01M51.8 64.07h.01M55.09 64.13h.01M55.93 64.25h.01M50.76 62.47h.01M55.89 64.21h.01M56.16 63.75h.01M53.43 60.22h.01M52.05 63.43h.01M52.63 59.25h.01M51.48 62.93h.01M50.69 61.25h.01M52.53 64.57h.01M50.95 62.93h.01M51.22 63h.01M52.49 63.91h.01M55.38 61.07h.01M54.75 64.26h.01M54.14 63.91h.01M52.73 63.62h.01M55.28 60.31h.01M56.12 60.78h.01M51.58 60.98h.01M52.07 64.87h.01M51.82 60.3h.01M56.11 60.27h.01M53.97 63.7h.01M52.91 60.83h.01M54.06 60.19h.01M52.28 63.07h.01M56.18 63.55h.01M51.86 61.23h.01M55.45 63.79h.01" stroke="#000" stroke-opacity="0.64" stroke-width="1.12" stroke-linecap="round"/><path d="M58.31 59.86h.01M50.51 60.59h.01M49.03 61.01h.01M54.98 60.52h.01M55.82 60.24h.01M54.01 57.54h.01M54.15 58.96h.01M52.47 60.78h.01M54.65 57.05h.01M48.68 60.28h.01M55.61 61.86h.01M57.04 64.12h.01M55.69 60.95h.01M50.49 58.73h.01M52.41 61.64h.01M54.75 61.01h.01M53.48 62.51h.01M54.71 61.71h.01M55.05 59.69h.01M50.5 62.18h.01M55.42 60.47h.01M52.59 66.47h.01M51.42 60.48h.01M54.9 58.23h.01M54.4 65.31h.01M57.18 62.52h.01M56.01 61.27h.01M57.26 60.63h.01M52.56 61.24h.01M57.08 61.79h.01M56.29 56.14h.01M58.06 66.62h.01M58.54 60.24h.01M51.12 61.67h.01M50.64 62.74h.01M52.21 63.31h.01M58.63 56.12h.01M55 59.32h.01M49.21 59.52h.01M53.26 63.48h.01M48.83 63.52h.01M60.86 62.43h.01M55.86 60.97h.01M50 62.28h.01M55.31 62.76h.01M62.73 62.75h.01M55.45 64.75h.01M49.43 58.26h.01M52.72 59.43h.01M56.36 60.24h.01M59.92 64.65h.01M56.62 60.07h.01M56.1 62.95h.01M50.37 61.84h.01M56.4 61.52h.01M59.34 63.91h.01M51.19 61.3h.01M51.16 62.39h.01M51.05 63.22h.01M55.32 63.33h.01M53.51 57.5h.01M60 60.59h.01M58.68 62.03h.01M56.29 65.39h.01M55.16 64.36h.01M48.95 63.09h.01M53.18 60.68h.01M54.03 61.83h.01M59.63 56.55h.01M54.15 59.28h.01M57.96 59.98h.01M55.55 60.05h.01M56.27 63.44h.01M52.65 61.12h.01M49.17 61.73h.01M56.91 59.67h.01M57.81 56.02h.01M47.71 57.67h.01M52.35 61.04h.01M53.73 60.84h.01M56.46 59.87h.01M49.7 58.01h.01M61.18 55.35h.01M53.4 64.5h.01M55.64 59.01h.01M54.01 63.07h.01M58.11 58.84h.01M56.59 61.61h.01M57.75 64.34h.01M52.83 57.52h.01M55.35 65.26h.01M56.33 61.55h.01M62.16 58.5h.01M57.07 59.63h.01M54.17 61.22h.01M59.15 58.75h.01M52.18 57.18h.01M55.66 59.9h.01M55.43 58.42h.01M52.78 63.49h.01M53.41 62.5h.01M55.8 60.15h.01M48.7 63.36h.01M54.58 63.36h.01M47.16 57.03h.01M46.71 58.9h.01M57.54 62.36h.01M53.88 61.31h.01M56.59 60.27h.01M55.35 61.34h.01M46.56 60.08h.01M58.62 60.05h.01M53.51 59.54h.01M52.35 63.7h.01M53.09 58.55h.01M43.42 59.63h.01M47.31 56.62h.01M56.7 62.7h.01M47.48 63.04h.01M55.56 59.12h.01M56.5 57.1h.01M49.9 57.54h.01M50.22 63.11h.01M49.47 58.24h.01M50.76 61.47h.01M52.85 63.07h.01M51.58 57.91h.01M52.29 61.08h.01M50.82 61.66h.01M60.16 59.59h.01M54.12 64.22h.01M51.76 58.94h.01M50.24 61.92h.01M55.7 60.61h.01M54.09 64.02h.01M56.89 57.59h.01M53.9 61.2h.01M56.37 60.41h.01M51.72 59.84h.01M47.87 60.87h.01M51.88 62.05h.01M50.41 59.88h.01M50.57 58.37h.01M56.27 59.8h.01M55.39 58.23h.01M54.21 56.86h.01M52.25 59.7h.01M55.85 61.34h.01M53.27 62.91h.01M54.51 62.19h.01M56.46 60.74h.01M52.86 61.68h.01M52.44 61.82h.01M57.61 62.94h.01M52.55 57.81h.01M53.66 60.59h.01M57.6 59.97h.01M53.13 62.65h.01M52.22 60.51h.01M59.66 64.46h.01M55.98 61.53h.01M50.55 62.22h.01M54.04 61.42h.01M52.08 60.86h.01M53.21 61.64h.01M58.68 61.75h.01M48.21 58.56h.01M48.46 58.99h.01M55.74 61.85h.01M51.81 61.52h.01M51.27 57.48h.01M49.07 58.83h.01M58.66 57.67h.01M58.05 64.06h.01M53.22 60.76h.01M51.75 60.82h.01M56.06 60.9h.01M57.21 63.72h.01M54.99 61.66h.01M53.62 61.71h.01" stroke="#000" stroke-opacity="0.35" stroke-width="1.12" stroke-linecap="round"/><path d="M49.61 49.4h.01M53.35 45.23h.01M58.28 47.67h.01M52.75 48.52h.01M46.99 62.77h.01M58.22 52.68h.01M56.06 61.89h.01M51.78 40.54h.01M55.69 45.37h.01M49.19 64.94h.01M51.52 40.56h.01M53.63 41.32h.01M52.23 54.54h.01M50.96 48.4h.01M53.03 45.55h.01M50.22 56.82h.01M54.04 56.83h.01M53.84 45.36h.01M56.37 55.08h.01M52.41 52.91h.01M48.18 62.51h.01M51.45 41.28h.01M53.27 46.73h.01M59.17 55.73h.01M55.37 39.84h.01M51.09 62.49h.01M58.06 65.29h.01M50.65 49.49h.01M57.9 60.83h.01M52.91 47.21h.01M57.23 64.83h.01M55.38 46.09h.01M53.5 38.46h.01M54.52 41.27h.01M50.47 53.01h.01M53.79 40.06h.01M58.73 65.56h.01M68.81 57.38h.01M56.29 55.83h.01M54.15 57.26h.01M50.77 51.94h.01M58.38 63.41h.01M47.4 59.36h.01M51.38 52.26h.01M54.82 48.23h.01M51.29 43.95h.01M58.09 49.12h.01M56.99 50.18h.01M52.82 41.73h.01M51.34 64.31h.01M50.51 47.47h.01M49.08 55.1h.01M54.74 41.19h.01M55.99 55.41h.01M55.13 57.74h.01M54.42 41.7h.01M51.24 65.45h.01M54.7 44.56h.01M50.09 47.62h.01M53.85 59.92h.01M58.01 49.72h.01M59.5 63.2h.01M52.73 46.89h.01M52.96 49.08h.01M59.09 58.86h.01M61.42 62.82h.01M47.33 63.37h.01M52.75 48.35h.01M54.64 54.87h.01M57.56 51.74h.01M50.66 58.47h.01M55.47 46.56h.01M52.54 62.33h.01M63.04 59.37h.01M54.88 44.94h.01M53.51 49.09h.01M52.93 49.71h.01M58.49 64.42h.01M56.01 52.94h.01M49.92 57.01h.01M54.76 64.44h.01M49.86 51.36h.01M50.41 64.79h.01M50.42 48.46h.01M51.81 38.85h.01M52.53 42.53h.01M50.08 58.86h.01M55.42 50.95h.01M57.16 62.2h.01M53.04 54.92h.01M49.57 58.7h.01M56.17 50.16h.01M46.68 56.29h.01M46.41 59h.01M56 50.82h.01M56 53.84h.01M57.93 62.44h.01M52.84 64.4h.01M50.28 50.1h.01M52.97 41.22h.01M56.2 62.4h.01M51.45 52.71h.01M50.61 65.31h.01M48.22 60.55h.01M50.49 50.59h.01M57.39 62.59h.01M55.41 55.3h.01M49.32 59.37h.01M49.13 63.39h.01M51.86 56.11h.01M56.26 64.81h.01M50.36 51.41h.01M53.37 50.88h.01M45.93 57.6h.01M50.07 51.59h.01M55.45 59.23h.01M56.89 54.88h.01M49.25 60.06h.01M50.58 62.02h.01M56.63 55.8h.01M52.09 64.07h.01M51.62 60.98h.01M56.02 62.75h.01M54.25 39.2h.01M55.73 39h.01M56.75 57.46h.01M52.27 49.62h.01M53.3 63.12h.01M53.69 51.23h.01M48.45 60.1h.01M51.44 47.12h.01M57.39 57.34h.01M46.88 63.75h.01M58.06 62.87h.01M54.7 50.54h.01M53.41 53.61h.01M55.68 54.99h.01M55.23 49.94h.01M57.79 53.67h.01M51.99 65.2h.01M52.83 63.27h.01M53.21 49.1h.01M61 58.66h.01M58.05 64.84h.01M51.21 50.42h.01M52.41 62.55h.01M50.93 61.36h.01M53.88 63.43h.01M54.33 41.87h.01M63.96 64.26h.01M45.47 65.57h.01M56.47 46.98h.01M55.45 57.42h.01M52.55 42.08h.01M53.32 56.67h.01M51.93 59.25h.01M54.04 60.14h.01M58.11 62.74h.01M49.84 48.5h.01M56.62 43h.01M52.29 61.82h.01M56.45 39.5h.01M54.93 46.73h.01M56.97 46.85h.01M56.13 60.84h.01M57.27 52.57h.01M54.08 62.3h.01M50.74 58.27h.01M56.68 62.42h.01M56.75 61.1h.01M62.89 63.28h.01M48.67 48h.01M53.33 50.24h.01M57.74 57.31h.01M49.46 56.18h.01M52.94 60.9h.01M62.6 61.62h.01M57.74 48.83h.01M52.1 43.17h.01M59.5 60.04h.01M58.38 58.74h.01M55.95 48.02h.01M54.63 40.83h.01M54.34 39.38h.01M51.73 47.18h.01M52.57 47.93h.01M55.67 45.95h.01M54.2 40.57h.01M58.1 44.8h.01M52.96 50.09h.01M49.22 42.16h.01M53.13 45.93h.01M54.77 52.47h.01M55.49 62.54h.01M54.16 63.08h.01M51.44 51.59h.01M57.07 43.34h.01M52.21 47.8h.01M56.57 58.44h.01M53.05 51.65h.01M49.73 55.87h.01M59.45 59.93h.01M44.55 58.05h.01M50.27 62.8h.01M54.79 41.92h.01M52.98 48.6h.01M55.24 39.88h.01M53.58 54.62h.01M52.28 56.97h.01M59.42 47.35h.01M53.56 40.77h.01M53.42 53.14h.01M51.52 44.71h.01M52.2 45.56h.01M55.84 50.95h.01M56.42 64.76h.01M53.94 50.37h.01M51.21 59.27h.01M55.93 50.71h.01M48.81 51.59h.01M53.22 43.81h.01M53.37 45.25h.01M50.52 60.73h.01M54.41 52.23h.01M52.19 48.27h.01M50.25 65.71h.01M61.67 63.24h.01M55.86 47.66h.01M57.66 52.37h.01M54.12 55.78h.01M56.13 44.66h.01M56.35 52.18h.01M57.16 48.23h.01M63.71 61.66h.01M53.53 42.24h.01M55.13 65.81h.01M53.84 46.81h.01M44.19 49.57h.01M51.34 41.55h.01M54.04 64.03h.01M56.6 62.08h.01M52.91 41.25h.01M57.79 54.8h.01M57.78 51.2h.01M52.5 56.76h.01M57.96 49.7h.01M61.84 65.02h.01M55.11 46.28h.01M49.91 61.89h.01M57.78 47.75h.01M53.38 57.82h.01M52.83 52.2h.01M54.38 54.74h.01M52.19 54.65h.01M57.89 57.25h.01M55.44 41.26h.01M56.22 40.93h.01M56.63 65.35h.01M51.99 47.33h.01M53.54 50.28h.01" stroke="#000" stroke-opacity="0.32" stroke-width="1.12" stroke-linecap="round"/><path d="M56.94 59.06h.01M55.58 59.55h.01M57.34 54.91h.01M55.75 55.88h.01M58.41 53.66h.01M60.1 51.53h.01M57.68 58.19h.01M55.68 54.75h.01M58.7 56.28h.01M57.39 54.8h.01M58.31 53.76h.01M58.03 56.43h.01M56.91 55.33h.01M59 54.23h.01M56.96 58.29h.01M57.73 56.27h.01M56.34 58.16h.01M58.38 54.79h.01M58.66 56.68h.01M58.31 55.15h.01M58.44 55.03h.01M58.72 55.02h.01M59.07 53.21h.01M56.55 58.83h.01M58 53.53h.01M57.76 55.41h.01M57.84 54.69h.01M58.62 56.79h.01M55.01 58.97h.01M60.06 52.36h.01M59.79 53.8h.01M59.76 51.98h.01M57.21 55.85h.01M59.15 53.29h.01M59.39 52.73h.01M57.98 55.69h.01M57.86 52.14h.01M58.22 53.24h.01M56.15 58.53h.01M55.78 59.05h.01M57.66 55.14h.01M57.89 54.61h.01M59.66 54.25h.01M57.67 55.35h.01M58.92 52.9h.01M60.05 53.69h.01M57.04 59.65h.01M56.42 58.32h.01M59.67 53.62h.01M57.97 54.5h.01M56.4 58.97h.01M60.03 55.27h.01M56.27 58.72h.01M58.5 56.64h.01M59.96 53.03h.01M57.45 57.96h.01M58.51 52.59h.01M57.79 57.04h.01M59.96 51.34h.01M58.79 53.89h.01" stroke="#000" stroke-opacity="0.53" stroke-width="1.12" stroke-linecap="round"/><path d="M55.94 23.07h.01M55.78 20.2h.01M52.85 53.51h.01M55 32.74h.01M53.46 48.62h.01M52.42 35.33h.01M52.48 23.34h.01M54.99 37.08h.01M55.99 26.15h.01M52.12 22.91h.01M57.1 20.68h.01M56.66 34.43h.01M53.7 29.31h.01M53.57 32.1h.01M54.19 54.62h.01M55.88 49.85h.01M53.69 45.41h.01M52.53 28.79h.01M54.85 47h.01M51 45.12h.01M54.53 39.01h.01M56.16 28.6h.01M54.79 27.48h.01M55.55 35.1h.01M55.09 29.95h.01M55.47 51.85h.01M54.53 36.77h.01M52.97 44.4h.01M53.94 52.3h.01M54.18 42.36h.01M56.31 25.79h.01M56.9 31.5h.01M54.97 53.21h.01M53.1 21.66h.01M53.13 27.98h.01M54 42.25h.01M56.52 50.75h.01M54.84 49.54h.01M54.21 46.31h.01M53.08 45.28h.01M55.71 33.45h.01M54.76 22.21h.01M54.22 42.89h.01M54.47 22.61h.01M57 48.74h.01M54.04 24.72h.01M57 20.88h.01M56.29 55.97h.01M54.38 26.02h.01M55.71 40.95h.01M54.1 22.22h.01M52.97 55.31h.01M53.87 20.6h.01M52.85 44.76h.01M55.12 50.37h.01M54.32 30.67h.01M55.21 20.28h.01M55.62 21.33h.01M49.31 22.19h.01M54.8 47.16h.01M51.42 39.03h.01M54.57 52.27h.01M52.9 42.77h.01M54.47 41.39h.01M56.48 27.27h.01M51.57 28.05h.01M54.61 55.23h.01M54.17 54.28h.01M51.27 35.76h.01M55.34 48.62h.01M54.35 45.92h.01M53.49 30h.01M53.15 27.2h.01M59.44 46.96h.01M53.67 54.66h.01M51.42 55.41h.01M52.81 32.86h.01M53.71 22.36h.01M53.68 31.49h.01M54.17 22.52h.01M52.62 55.56h.01M55.17 31.06h.01M53.53 50.51h.01M52.12 28.87h.01M53 54.56h.01M53.68 37.61h.01M55.66 50.02h.01M55.08 41.57h.01M53.76 47.58h.01M54.33 22.62h.01M54.64 23.15h.01M57.56 32.86h.01M53.31 51.59h.01M55.05 52.74h.01M55.46 45.58h.01M52.78 41.55h.01M54.6 21.77h.01M54.56 53.41h.01M53.55 43.76h.01M55.21 42.17h.01M55.95 50.31h.01M56.11 28.51h.01M53.99 42.32h.01M54.6 44.58h.01M58.06 47.22h.01M52.53 23.41h.01M54.65 46.22h.01M55.72 52.5h.01M54.54 42.62h.01M55.35 26.12h.01M54.58 53.07h.01M55.51 23.68h.01M56.35 28.29h.01M53.95 50.78h.01M54.62 41.2h.01M54.21 32.08h.01M53.65 48.92h.01M54.27 43.31h.01M52.49 24.25h.01M55.49 28.36h.01" stroke="#000" stroke-opacity="0.38" stroke-width="1.12" stroke-linecap="round"/><path d="M54.09 26.06h.01M53.85 30.42h.01M52.39 40.9h.01M54.79 40.05h.01M55.52 32.48h.01M54.19 36.23h.01M55.92 31.12h.01M54.54 38.58h.01M56.32 30.06h.01M54.9 28.3h.01M53.23 27.31h.01M53.74 35.09h.01M52.66 33.92h.01M52.42 39.44h.01M54.82 27.35h.01M55.54 37.87h.01M56.85 40.1h.01M54.43 36.95h.01M54.22 26.84h.01M53.17 27.46h.01M55.68 26.41h.01M54.97 30.34h.01M53.79 37.14h.01M55.33 27.32h.01M55.17 32.18h.01M52.26 25.71h.01M55.39 35.85h.01M54.66 26.58h.01M54.03 37.69h.01M54 34.8h.01M56.6 28.05h.01M56.34 36.17h.01M56.69 30.59h.01M53.12 33.38h.01M53.71 33.91h.01M55.59 29.35h.01M53.05 31.67h.01M53.64 37.58h.01M52.33 38.83h.01M56.72 38.58h.01M55.78 34.09h.01M55.05 38.96h.01M54.76 27.25h.01M54 40.74h.01M54.02 25.72h.01M55.24 39.39h.01M53.65 37.67h.01M55.97 31.24h.01M53.91 37.65h.01M53.45 40.32h.01M56.06 27.63h.01M54.33 35.39h.01M55.17 25.07h.01M54 35.63h.01M51.8 25.98h.01M55.16 35.68h.01M52.88 25.43h.01M55.8 31.45h.01M52.64 38.87h.01M52.26 29.9h.01M54.87 40.51h.01M55.01 32.54h.01M54.63 27.91h.01M53.04 39.98h.01M55.57 27.49h.01M52.74 34.5h.01M53.94 40.08h.01M53.55 40.05h.01M54.05 33.89h.01M55.52 28.39h.01M53.74 33.01h.01M55.18 29.67h.01M55.33 30.03h.01M52.45 30.08h.01M53.1 28.23h.01M54.04 25.62h.01M53.79 37.01h.01M54.87 25.21h.01M52.18 34.17h.01M55.36 30.87h.01" stroke="#000" stroke-opacity="0.51" stroke-width="1.12" stroke-linecap="round"/><path d="M62.75 15h.01M49.06 60.11h.01M48.33 23.06h.01M59.32 23.59h.01M53.22 40.65h.01M65.16 63.35h.01M41.78 31.21h.01M56.94 37.31h.01M51.44 33.3h.01M47.55 14.84h.01M66.24 25.58h.01M47.68 63.92h.01M63.97 65.3h.01M65.84 23.55h.01M69.07 64.13h.01M44.82 8.96h.01M45.95 51.84h.01M43.89 9.56h.01M50.63 33.99h.01M67.34 33.18h.01M59.85 34.53h.01M45.91 65.41h.01M44.51 29.49h.01M62.86 9.1h.01M59.26 14.73h.01M41.57 53.71h.01M58.24 15.84h.01M46.91 11.58h.01M49.87 19.92h.01M44.38 67.64h.01M69.75 35.12h.01M54.52 17.03h.01M59.08 48.17h.01M47.32 31.04h.01M52.19 41.72h.01M59.94 68.76h.01M62.78 50.65h.01M67.35 40.63h.01M48.56 68.9h.01M48.34 38.84h.01M52.99 35.62h.01M50.29 59.89h.01M64.86 66.44h.01M52.08 51.89h.01M52.15 30.28h.01M55.82 32.56h.01M57.57 8.54h.01M51.57 22.63h.01M41.75 55.39h.01M62.46 37.82h.01" stroke="#000" stroke-opacity="0.19" stroke-width="1.12" stroke-linecap="round"/><path d="M47.58 55.03h.01M55.86 53.97h.01M49.06 54.88h.01M47.51 63.4h.01M54.37 39.53h.01M59.45 60.39h.01M49.58 52.82h.01M58.77 29.56h.01M58.01 49.42h.01M53.73 40.31h.01M55.19 40.01h.01M49.73 45.97h.01M48.65 64.15h.01M48.22 43.21h.01M52.47 50.03h.01M57.13 57.36h.01M52.53 46.54h.01M53.95 57.4h.01M56.73 45.35h.01M45.15 69.29h.01M57.8 52.37h.01M55.23 45.31h.01M49.6 47.01h.01M52.87 44.37h.01M47.68 47.19h.01M56.22 45.55h.01M53.89 31.36h.01M52.93 48.9h.01M48.65 34.43h.01M55.53 42.71h.01M55.85 46.22h.01M56.42 46.95h.01M47.47 49.22h.01M52.42 55.92h.01M51.91 46.46h.01M57.41 60.5h.01M56.99 59.34h.01M55.71 56.93h.01M57.49 53.63h.01M54.06 51.28h.01M63.9 50.12h.01M52.81 46.72h.01M53.66 52.2h.01M49.05 32.17h.01M55.04 35.55h.01M54.89 51.27h.01M58.64 65.03h.01M55.34 45.01h.01M48.87 42.87h.01M53.97 31.38h.01M54.12 49.89h.01M56.51 46.99h.01M54.23 43.37h.01M51.85 34.04h.01M54.32 63.94h.01M54.48 53.29h.01M49.68 62.88h.01M50.58 57.22h.01M54.25 41.37h.01M58.11 50.14h.01M54.55 54.07h.01M53.71 46.59h.01M55.76 46.36h.01M54.07 43.99h.01M47.54 43.94h.01M51.72 50.13h.01M58.77 34.79h.01M54.34 30.09h.01M49.41 45.44h.01M44.34 33.28h.01M54.45 50.7h.01M53.32 42.77h.01M62.85 48.55h.01M50.18 65.11h.01M56.38 46.66h.01M58.81 51.41h.01M56.5 52.11h.01M49.48 58.74h.01M54.47 40.92h.01M50.6 58.6h.01M52.25 50.42h.01M56.55 51.15h.01M47.39 55.74h.01M57.74 57.8h.01M60.59 53.28h.01M57.06 64.3h.01M52.58 65.63h.01M61.09 57.05h.01M61.53 57.67h.01M50.1 60.24h.01M55.17 53.72h.01M54.45 62.24h.01M56.12 43.74h.01M55.84 56.56h.01M50.75 46.09h.01M52.19 44.53h.01M55.26 59.16h.01M61.75 60.75h.01M58.09 60.29h.01M59.41 46.61h.01M56.71 52.9h.01M53.26 45.91h.01M51.68 47.59h.01M48.61 54.7h.01M53.71 50.95h.01M55.22 56.52h.01M51.31 49.04h.01M47.04 30.02h.01M45.65 63.83h.01M46.13 54.25h.01M60 45.88h.01M60.65 66.63h.01M56.42 43.44h.01M56 46.03h.01M48.34 38.55h.01M63.53 45.17h.01M53.72 44.09h.01M54.41 47.93h.01M52.12 39.18h.01M47.91 43.4h.01M55.08 68.8h.01M58.28 66.53h.01M55.9 49.35h.01M48.3 50.16h.01M44.86 47.45h.01M60.71 53.12h.01M58.62 46.73h.01M48.1 45.87h.01M52.22 61.04h.01M62.19 43.53h.01M52.39 48.89h.01M52.43 39.02h.01M54.29 53.48h.01M55.52 39.37h.01M53.43 34.57h.01M57.74 41.06h.01M52.76 46.2h.01M51.46 40.72h.01M46.49 65.85h.01M54.99 52.65h.01M62.74 49.36h.01M56.25 50.46h.01M58.91 54.79h.01M55.25 47.98h.01M55.11 60.76h.01M45.21 49.12h.01M52.18 47.59h.01M45.64 56.87h.01M50.38 48.25h.01M51.82 35.26h.01M52.06 33.72h.01M49.98 47.46h.01M53.92 50.79h.01M53.36 69.54h.01M55.77 39.3h.01M51.37 44.38h.01M53.19 44.87h.01M50.35 65.14h.01M54.12 47.27h.01M52.88 48.35h.01M59.79 54.61h.01M58.66 22.24h.01M55.31 59.84h.01M62.23 50.58h.01M46.73 55.61h.01M51.43 34.19h.01M51.35 59.82h.01M59 56.81h.01M49.04 49.63h.01M47.88 62.19h.01M55.83 58.33h.01M54.34 49.73h.01M54.69 33.35h.01M58.14 58.57h.01M52.32 50.24h.01M55.23 64.49h.01M55.78 50.75h.01M51.84 36.84h.01M51.47 51.02h.01M52.92 51.07h.01M57.11 54.31h.01M55.14 56.31h.01M54.77 50.13h.01M55.96 34.86h.01M59.25 38.81h.01M57.51 50.54h.01M58.65 50.75h.01M50.04 60.1h.01M54.78 51.51h.01M54.35 59.46h.01M57.44 52.52h.01M47.5 46.82h.01M54.46 66.62h.01M55.63 49.64h.01M59.04 49.47h.01M53.91 51.89h.01M47.73 59.1h.01M55.81 47.94h.01M49.23 52.41h.01M59.91 44.72h.01M49.57 54.28h.01M47.33 30.51h.01M52.17 44.29h.01M52.87 45.54h.01M55.43 48.52h.01M51.52 46.39h.01M56.69 59.14h.01M57.84 56.79h.01M40.19 41.51h.01M52.72 52.38h.01M47.25 63.33h.01M55.32 44.94h.01M54.74 47.42h.01M50.86 55.09h.01M52.15 37.84h.01M51.39 49.51h.01M49.52 61.9h.01" stroke="#000" stroke-opacity="0.21" stroke-width="1.12" stroke-linecap="round"/><path d="M32.8 138.18h.01M37.64 98.23h.01M40.46 98.8h.01M35.43 131.64h.01M31.7 114.78h.01M36.47 100.5h.01M32.66 98.98h.01M38.4 123.28h.01M36.38 126.34h.01M30.88 106.28h.01M30.15 136.13h.01M36.67 114.51h.01M34.33 114.93h.01M32.92 108.42h.01M35.52 108.88h.01M32.97 106.53h.01M29.48 131.21h.01M36.55 110.83h.01M32.78 99.76h.01M31.86 110.57h.01M31 136.55h.01M35.1 121.36h.01M32.37 93.07h.01M36.07 109.71h.01M33.76 112.23h.01M33.45 138.46h.01M32.76 136.06h.01M29.36 92.88h.01M31.61 116.77h.01M36.32 104.06h.01M42.36 98.73h.01M31.22 102.03h.01M31.77 90.34h.01M35.33 123.98h.01M35.69 106.93h.01M32.7 124.59h.01M34.66 130.71h.01M30.3 117.85h.01M33.69 105.71h.01M36.79 94.92h.01M38.68 122.03h.01M34.02 123.26h.01M33.79 128.9h.01M35.63 94.8h.01M37.32 89.95h.01M35.72 134.09h.01M32.52 119.64h.01M35.38 92.49h.01M36.96 125.08h.01M32.61 90.48h.01M31 121h.01M35.78 116.91h.01M35.41 125.41h.01M36.96 92.48h.01M34.69 135.66h.01M32.79 137.34h.01M33.33 139.69h.01M31.8 128.1h.01M32.01 104.02h.01M33.01 139.36h.01M33.21 120.05h.01M37.35 125.58h.01M31.29 122.55h.01M34.34 98.45h.01M32.94 132.72h.01M38.31 121.78h.01M35.15 99.21h.01M33.5 107.53h.01M36.58 95.11h.01M34.64 110.44h.01M33.24 139.95h.01M38.44 107.84h.01M36.31 108.46h.01M38.94 130.06h.01M37.46 91.89h.01M36.48 93.84h.01M34.82 127.03h.01M31.67 94.41h.01M36.31 119.9h.01M34.67 130.79h.01M36.23 117.34h.01M34.46 91.75h.01M32.7 98.44h.01M31.88 116.14h.01M36.29 138.07h.01M37.82 122.15h.01M33.74 124.44h.01M35.66 119.06h.01M38.06 104.78h.01M32.33 119.71h.01M31.59 109.45h.01M37.53 130.53h.01M35.17 98.34h.01M33.3 121.86h.01M30.21 125.68h.01M34.03 95.79h.01M37.07 132.96h.01M33.73 100.42h.01M33.4 138.52h.01M36.15 105.76h.01M31.31 119.91h.01M34.63 137.78h.01M36.04 130.96h.01M32.48 113.24h.01M32.35 97.81h.01M35.14 120.09h.01M34.24 118.66h.01M33.89 90.89h.01M35.03 107.77h.01M35.07 136.3h.01M32.11 115.36h.01M32.78 97.1h.01M35.66 121.63h.01M37.4 111.56h.01M38 135.93h.01M32.32 113.47h.01M36.46 96.06h.01M34.43 96.8h.01M35.77 137.91h.01M36.65 106.54h.01M39.12 105.99h.01M31.79 139.23h.01M36.06 98.43h.01M34.15 120.47h.01M33.98 137.73h.01M37.47 135.73h.01M36.62 96h.01M31.9 112.47h.01M33.78 100.86h.01M35.1 124.6h.01M30.87 100.54h.01M36.74 96.88h.01M34.32 101.91h.01M34.93 94.43h.01M35.38 125.47h.01M39.17 102.31h.01M34.61 108.7h.01M33.6 102.09h.01M39 107.65h.01M33.23 103.68h.01M33.17 106.23h.01M30.95 125.07h.01M37.3 96.71h.01M35.22 123.89h.01M35.73 105.91h.01M34.95 92.46h.01M34.17 93.85h.01M32.5 135.23h.01M35.63 102.14h.01M34.84 133.27h.01M38.72 91.71h.01M32.57 98.68h.01M33.27 101.75h.01M31.9 131.8h.01M38.07 93.64h.01M31.35 137.61h.01M36.51 93.85h.01M38.23 117.47h.01M34.17 128.48h.01M36.39 117.11h.01M29.06 114.4h.01M33.53 110.69h.01M30.26 100.89h.01M34.97 140.11h.01M34.55 108.9h.01M32.55 121.4h.01M36.96 118.37h.01M35.44 138.48h.01M33.18 100.43h.01M33.21 95.71h.01M30.75 135.15h.01M34.05 114.48h.01M39.98 121.48h.01M32.7 120.63h.01M35.61 128.96h.01M33.12 131.9h.01M36.6 124.68h.01M33.93 131.87h.01M33.21 132.96h.01M33.91 128.54h.01M36.15 121.35h.01M29.74 127.45h.01M35.63 118.22h.01M35.36 93.92h.01M33.05 133.97h.01M33.58 118.83h.01M35.28 112.02h.01M33.01 137.6h.01M35.43 98.27h.01M34.01 96.85h.01M28.48 134.8h.01M34.17 96h.01M33 130.84h.01M32.39 98.62h.01M35.57 130.64h.01M33.28 109.13h.01M35.93 120.22h.01M37.35 119.68h.01M34.91 108.42h.01M30.56 114.98h.01M32.66 121.92h.01M36.89 94.73h.01M33.88 136.04h.01M32.47 131.14h.01M34.31 98.53h.01M35.84 99.44h.01M35.21 108.41h.01M36.2 128.4h.01M32.42 114.89h.01M33.84 104.19h.01M33.9 128.23h.01M34.49 97.87h.01M29.16 125.05h.01M33.94 127.44h.01M31.1 92.9h.01M38.12 117.71h.01M38.55 118.98h.01M38.87 138.97h.01M36.63 103.34h.01M33.3 111.88h.01M37.01 137.11h.01M34.03 94.42h.01M36.12 135.04h.01M32.23 106.87h.01M33.04 105.71h.01M35.75 140.24h.01M39.11 108.19h.01M34.49 100.61h.01M40.35 98.49h.01M41.64 124.37h.01M31.26 121.2h.01M34.48 100.17h.01M32.11 113.74h.01M34.2 102.69h.01M33.18 131.88h.01M34.38 106.46h.01M37.04 120.13h.01M36.97 135.92h.01M35.23 100.16h.01M34.56 137.97h.01M34.86 113.22h.01M34.88 121.43h.01M36.03 101.92h.01M34.57 124.31h.01M35.85 125.86h.01M31.19 118.89h.01M36.6 133.21h.01M39.05 112.5h.01M30.93 135.91h.01M38.03 117.6h.01M33.72 120.09h.01M26.88 119.22h.01M36.12 102.74h.01M35.55 92.26h.01M37.75 121.94h.01M36.16 132.8h.01M34.88 122.51h.01M29.48 130.62h.01M31.7 105.13h.01M36.31 109.21h.01M31.92 96.45h.01M32.99 103.68h.01M35.77 100.16h.01M29.65 97.07h.01M29.56 123.95h.01M33.97 119.18h.01M35.22 131.11h.01M33.33 139.66h.01M28.67 100.09h.01M34.63 137.22h.01M31.15 128.19h.01M36.25 117.33h.01M34.31 139.05h.01M35.25 114.66h.01M33.21 94.12h.01M36.7 104.08h.01M37.77 124.4h.01M35.59 117.51h.01M37.99 123.71h.01M36.93 100.64h.01M35.26 116.9h.01M32.03 122.18h.01M34.37 110.39h.01M33.2 99.06h.01M33.15 103.92h.01M34.79 127.83h.01M37.3 125.53h.01M33.75 100.61h.01M34.89 137.88h.01M34.84 99.92h.01M37.54 110.73h.01M36.66 130.13h.01M35.79 117.46h.01M33.21 123.3h.01M32.06 137.92h.01M34.33 106.95h.01M31.13 97.12h.01M31.39 109.2h.01M37 117.36h.01M32.21 94.63h.01M30.89 125.98h.01M35.68 139.9h.01M31.55 136.86h.01M35.02 107.44h.01M31.89 111.57h.01M34.68 131.43h.01M34.17 139.7h.01M33.41 106.38h.01M35.89 137.95h.01M38.46 124.53h.01M33.05 95.3h.01M36.85 111.37h.01M34.49 109.09h.01M40.22 115.22h.01M28.98 129.79h.01M32.82 105.03h.01M29.91 121.92h.01M33.76 122.65h.01M33.98 115.27h.01M44.38 120h.01M35.46 111.88h.01M39.19 119.86h.01M37.91 111.92h.01M33.44 135.83h.01M35.8 93.49h.01M38.87 133.29h.01M35.02 126.99h.01M35.86 125.6h.01M30.7 106.73h.01M32.48 114.38h.01M35.44 114.94h.01M35.97 126.47h.01M32.2 113.28h.01M33.74 121.19h.01M34.25 99.12h.01M34.18 91.25h.01M36.35 122.92h.01M34.84 139.89h.01M34.99 91.61h.01M30.92 135.77h.01M31.85 107.87h.01M35.39 122.12h.01M30.46 101.6h.01M35.26 124.14h.01M32.86 110.6h.01M32.47 129.63h.01M36.23 102.18h.01M32.82 105.14h.01M32.35 120.65h.01M32.82 93.08h.01" stroke="#000" stroke-opacity="0.38" stroke-width="1.12" stroke-linecap="round"/><path d="M32.1 130.85h.01M33.95 119.5h.01M32.55 134.57h.01M31.96 121.08h.01M31.67 112.83h.01M31.42 137.55h.01M31.82 126.91h.01M32.72 134.38h.01M34.08 110.59h.01M33.74 139.46h.01M31.85 126.27h.01M31.64 116.12h.01M33.4 111.29h.01M30.3 105.35h.01M32 102.78h.01M32.14 109.14h.01M31.17 113.58h.01M31.31 122.2h.01M32.97 117.02h.01M30.5 103.27h.01M31.41 107.13h.01M31.74 102.22h.01M32.64 103.08h.01M30.84 113.1h.01M33.88 126.4h.01M32.15 107.48h.01M32.21 135.96h.01M32.08 140.01h.01M31.7 125.49h.01M31.32 103.38h.01M33.94 108.58h.01M32.78 121.43h.01M32.39 137.96h.01M33.75 139.79h.01M31.65 130.24h.01M33.3 136.22h.01M32.55 105.29h.01M31.42 121.28h.01M33.46 120.15h.01M30.68 109.95h.01M33.32 123.5h.01M31.43 123.46h.01M33.02 139.39h.01M34.22 104.11h.01M33.21 113.17h.01M31.77 108.17h.01M32.48 110.2h.01M32.06 113.92h.01M31.07 115.89h.01M31.15 138.84h.01M32.56 114.31h.01M33.17 120.37h.01M30.33 107.97h.01M32.42 110.1h.01M33.13 109.95h.01M32.64 123.69h.01M31.27 113.23h.01M33.77 112.34h.01M31 121.92h.01M33.3 102.14h.01M34.47 135.17h.01M29.99 103.51h.01M32.81 117.54h.01M32.88 140.05h.01M32.77 108.05h.01M31.55 103.26h.01M32.11 120.45h.01M30.77 126.09h.01M32.65 116.41h.01M33.15 110.08h.01M31.67 128.45h.01M31.35 124.5h.01M31.91 115.03h.01M32.48 125.51h.01M32.56 134.26h.01M32.36 121.57h.01M32.57 116.62h.01M30.88 125.51h.01M29.13 121.19h.01M33.24 105.35h.01M34.23 136.72h.01M30.74 106.35h.01M31.67 130.46h.01M32.85 118.4h.01M33.65 132.05h.01M33.28 121.9h.01M34.05 133.5h.01M32.41 119.83h.01M32.99 111.14h.01M32.98 131.54h.01M31.95 133.77h.01M33.95 121.1h.01M33.24 137.73h.01M33.68 129.09h.01M32 137.87h.01M33.74 109.12h.01M31.19 138.3h.01M32.96 131.44h.01M29.28 138.27h.01M31.24 115.15h.01M33.38 123.18h.01M31.93 136.38h.01M32.69 127.73h.01M30.49 112.77h.01M34.37 112.78h.01M33.21 138.41h.01M32.44 127.68h.01M32.98 103.56h.01M32.88 111.59h.01M34.21 123.22h.01M32.74 108.89h.01M30.67 119.67h.01M32.16 127.54h.01M34.05 104.78h.01M33.17 111.4h.01M31.96 135.85h.01M33.22 103.09h.01M32.62 105.85h.01M33.22 133.48h.01M30.54 127.88h.01M31.38 119.89h.01M33.29 135h.01M32.2 109.63h.01M32.91 101.72h.01M34.87 133.18h.01M32.09 126.37h.01M32.77 114.64h.01M31.79 124.09h.01M31.71 104.68h.01M32.38 113.7h.01M30.7 123.67h.01M29.9 134.44h.01M34.14 113.85h.01M32.35 103.87h.01M33.85 104.94h.01M32.62 113.45h.01M32.66 125.92h.01M33.29 129h.01M33.35 128.6h.01M31.01 135.62h.01M33.95 128.09h.01M31.29 127.66h.01M32.72 124.67h.01M35.6 127.5h.01M32.57 129.99h.01M34.51 139.57h.01M32.05 108.5h.01M33.23 126.58h.01M32.54 106.35h.01M32.99 109.54h.01M31.43 137.64h.01M31.36 117.29h.01M32.89 123.62h.01M30.57 109.75h.01M31.45 121.39h.01M33.26 102.45h.01M31.73 124.15h.01M31.39 138.71h.01M31.12 128.3h.01M32.66 127.45h.01M32.03 123.14h.01M32.66 113.99h.01M32.25 131.68h.01M34.74 116.65h.01M31.94 114.63h.01M30.09 122.85h.01M32.62 139.52h.01M32.48 130.13h.01M32.67 127.81h.01M30.52 106.49h.01M33.86 133.02h.01M32.44 117.99h.01M32.43 126.01h.01M30.55 123.37h.01M33.05 132.13h.01M32.4 102.75h.01M34.12 105.31h.01M31.97 112.47h.01M30.97 109.4h.01M32.63 128.08h.01M31.36 106.05h.01M32.98 105.1h.01M31.16 122.16h.01M32.32 104.09h.01M32.2 132.47h.01M32.44 114.36h.01M31.85 113.29h.01M31.49 124.79h.01M32.41 139.57h.01M31.77 112.54h.01M32.66 110.31h.01M32.15 115.86h.01M29.75 131.89h.01M32.4 137.9h.01M34.17 107.51h.01M32.85 102.67h.01M33.2 113.43h.01M33.03 114.01h.01M31.91 130.65h.01M30.86 128.04h.01M33.46 130.64h.01M33.76 116.82h.01M33.16 118.21h.01M32.99 138.23h.01M32.96 103.39h.01M32.44 102.33h.01M32.81 102.16h.01M32.49 133.36h.01M32.87 121.69h.01M31.33 128.6h.01M31.72 126.99h.01M33.17 133.21h.01M32.07 122.17h.01M29.56 114.31h.01M32.63 105.87h.01M29.72 117.53h.01M34.79 109.11h.01M33.35 137.63h.01M33.29 131.26h.01M31.68 112.6h.01M31.12 121.45h.01M32.22 119.81h.01M32.5 125.07h.01M31.55 138.43h.01M32.67 112.25h.01M33.31 125.46h.01M33.2 121.17h.01M31.23 138.73h.01M29.88 110.01h.01M32.49 126.77h.01M31.69 105.04h.01M33.02 122.7h.01M34.46 138.93h.01M34.46 129.56h.01M32.83 102.72h.01M33.82 139.87h.01M34.46 122.55h.01M32.54 124.11h.01M32.81 138.37h.01M33.51 124.31h.01M32.45 110.11h.01M31.89 118.24h.01M31.59 130.72h.01M32.5 116.96h.01M31.75 108.07h.01M33.45 116.68h.01M32.09 105.52h.01M34.25 105.4h.01M33.94 106.24h.01M31.01 121.37h.01M33.79 114.04h.01M32.02 108.51h.01M34.14 130.31h.01M33.11 125.35h.01M32.45 133.47h.01M33.3 107.77h.01M31.84 125.69h.01M32.89 111.76h.01M32.96 120.81h.01M32.33 118.9h.01M32.97 124.25h.01M31.31 123.74h.01M33.17 137.32h.01M31.06 125.86h.01M33.25 115.21h.01M33.07 132.48h.01M33.35 107.79h.01M31.85 131.74h.01M36.13 124h.01M32.24 111.64h.01M32.7 130.84h.01M31.62 105.95h.01M34.22 102.89h.01M31.96 112.1h.01M33.7 121.19h.01M31.4 126.1h.01M32.89 113.76h.01M32.08 124.07h.01M33.63 139.74h.01M32.18 140.44h.01M31.5 129.62h.01M33.06 113.28h.01M31.11 120.09h.01M31.39 133.01h.01M33.44 136.1h.01M30.31 138.6h.01M33.43 116.62h.01M32.06 114.68h.01M31.45 114.6h.01M32.82 132.12h.01M33.28 138.83h.01M31.84 123.47h.01M32.33 118.78h.01M33.49 127.48h.01M33.43 117.94h.01M32.48 123.73h.01M31.63 108.83h.01M31.42 105.37h.01M31.84 117.32h.01M33.35 111.97h.01M33.23 107.43h.01M32.91 139.13h.01M34.19 128.66h.01M32.19 116.64h.01M32.1 140.18h.01M32.1 105.67h.01M34.81 115.1h.01M30.12 135.97h.01M32.9 139.26h.01M33.08 132.42h.01M32.63 108.76h.01M35.31 123.59h.01M33.94 104.28h.01M33.47 103.97h.01M31.5 135.16h.01M33.15 101.59h.01M32.12 105.28h.01M32.62 105.63h.01M32.8 129.25h.01M32 126.01h.01M33.31 109.92h.01M34.49 117.5h.01M33.79 138.61h.01M32.82 109.71h.01M30.29 104.14h.01M33.85 126.72h.01M33.84 105.71h.01M32.35 123.2h.01M32.01 111.44h.01M33.35 102.77h.01M31.62 127.18h.01M33.51 130.82h.01M31.31 113.75h.01M31.5 107.67h.01M32.6 139.59h.01M30.87 111.05h.01M32.58 111.11h.01M33.21 115.77h.01M31.04 110.86h.01M33.67 111.09h.01M31.92 137.55h.01M33.23 104.7h.01M32.84 134.05h.01M32.05 122.35h.01M31.97 102.88h.01M30.58 107.39h.01M31.77 127.08h.01M31.68 123.34h.01M34.52 110.94h.01M33.78 112.86h.01M30.98 137.66h.01M33.53 130.25h.01M32.85 127.32h.01M32.14 137.54h.01M33.13 110.53h.01M33.52 114.36h.01M31.92 134.19h.01M32.27 118.67h.01M32.79 118.92h.01M31.44 133.06h.01M32.81 140.48h.01M32.5 136.12h.01M31.8 131.57h.01M31.61 118.91h.01M32.95 129.04h.01M33.62 110.3h.01M32.98 111.4h.01M31.59 109.47h.01M33.47 128.09h.01M32.79 138.47h.01M33.29 130.97h.01M33.96 111.9h.01M31.54 127.25h.01M32.43 115.17h.01M31.9 133.64h.01M31.57 120.43h.01M34.94 111.24h.01M33.69 112.84h.01M30.53 104.83h.01M33.1 115.59h.01M31.95 114.73h.01M33.94 119.37h.01M32.69 127.14h.01M32.39 137.71h.01M32.76 133.38h.01M33.05 123.87h.01M32.63 115.6h.01M32.34 108.15h.01M32.44 124.55h.01M33.2 103.99h.01M31.28 103.59h.01M32.6 126.55h.01M32.46 107.91h.01M32.03 134.59h.01M33.46 127.62h.01M31.09 121.95h.01M32.17 138.01h.01M31.6 106.64h.01M33.24 113.59h.01M32.05 121.3h.01M32.66 139.15h.01M33.05 104.57h.01M30.73 124.98h.01M33.13 137.36h.01M31.73 107.15h.01M32.3 128.96h.01M32.47 128.44h.01M33.54 115.55h.01M33.46 122.39h.01M34.66 137.98h.01M32.81 119.75h.01M32.04 119.3h.01M32.01 123.51h.01M33.36 102.75h.01M34.47 133.07h.01M33 103.5h.01M31.93 139.67h.01M32.92 139.35h.01M32.9 133.42h.01M32.64 136.42h.01M31.73 125.51h.01M29.64 113.42h.01M31.97 125.05h.01M33.83 127.97h.01M32.85 107.02h.01M30.02 131.72h.01M32.61 113.35h.01M30.44 121.49h.01M34.92 111.9h.01M32.82 112.51h.01M31.2 135.68h.01M33.53 131.54h.01M31.69 103.94h.01M33.26 131.57h.01M32.63 137.57h.01M31.22 128.95h.01M33.38 128.5h.01M31.04 111.8h.01M34.16 128.76h.01M32.67 116.28h.01M31.4 137.49h.01M30.48 128.97h.01M34.49 114.09h.01M34.29 135.96h.01M31.13 131.69h.01M34.52 109.34h.01M32.8 109.88h.01M32.34 102.01h.01M32.5 131.53h.01M32.29 104.85h.01M34.27 112.24h.01M32.78 130.22h.01M30.45 113.42h.01M35.04 112.65h.01M33.63 104.09h.01M31.33 103.46h.01M32.18 123.8h.01M31.54 106.9h.01M32.65 139.09h.01M33.06 102.51h.01M32.88 113.82h.01M31.9 108.67h.01M31.67 136.57h.01M33.59 130.78h.01M32.48 105.85h.01M35.23 103.67h.01M31.66 104.74h.01M33.52 130.34h.01M32.66 130.64h.01M31.71 126.18h.01M34.19 120.58h.01M32.74 119.56h.01M31.56 124.73h.01M32.23 105.73h.01M33.79 132.49h.01M31.17 131.82h.01M34.21 128.05h.01M33.4 110.69h.01M32.27 109.87h.01M34.18 139.73h.01M34.64 138.5h.01M33.3 130.67h.01" stroke="#000" stroke-opacity="0.67" stroke-width="1.12" stroke-linecap="round"/><path d="M33.34 103.53h.01M33.35 105.22h.01M31.32 93.98h.01M31.43 96.04h.01M32.9 94.41h.01M29.2 93.87h.01M33.25 102.48h.01M33.18 92.53h.01M34.8 101.09h.01M34.86 97.08h.01M33.91 96.93h.01M32.77 94.95h.01M31.93 104.85h.01M35.24 94.3h.01M34.01 96.05h.01M32.55 99.92h.01M29.84 104.22h.01M31.85 102.95h.01M30.21 103.37h.01M35.13 90.8h.01M33.49 104.5h.01M32.04 102.33h.01M32.77 93.44h.01M37.24 102h.01M35.09 104.65h.01M31.11 100.88h.01M33 100.8h.01M31.28 102.59h.01M30.51 103.32h.01M33.47 101.56h.01M35.64 91.26h.01M32.61 95.89h.01M34.82 97.41h.01M30.91 104.14h.01M30.27 105.17h.01M33.64 99.79h.01M35.72 90.07h.01M33.57 103.02h.01M33.98 93.33h.01M34.81 99.42h.01M32.48 91.2h.01M34.61 100.46h.01M32.15 104.59h.01M30.95 95.97h.01M34.03 95.96h.01M35.41 105.44h.01M34.54 93.15h.01M31.21 103.45h.01M34.57 100.34h.01M32.47 92.86h.01M29.27 100.48h.01M34.6 102.93h.01M33.99 103.92h.01M30.46 101.17h.01M30.84 102.1h.01M34.8 98.25h.01M34.47 102.05h.01M33.98 95.92h.01M32.81 94.85h.01M33.83 100.15h.01M32.34 95.88h.01M32.7 93.09h.01M31.82 92.27h.01M33.61 95.37h.01M32.54 94.38h.01M34.71 101.07h.01M34.34 101.61h.01M31.91 101.87h.01M36.12 102.71h.01M31.41 94.02h.01M33.92 94.15h.01M34.92 102.59h.01M35.24 90.74h.01M29.68 100.13h.01M34.79 96.95h.01M35.14 99.5h.01M35.49 100.04h.01M29.65 99.54h.01M32.12 91.73h.01M32.49 104.65h.01M35.34 103.66h.01M32.12 96.59h.01M35.16 99.4h.01M30.88 95.75h.01M31.62 98.08h.01M32.45 100.1h.01M33.35 91.44h.01M32.91 104.8h.01M34.65 102.77h.01M30.68 90.71h.01M28.32 102.31h.01M32.66 102.12h.01M33.93 90.77h.01M32.62 101.98h.01M31.58 94.38h.01M33.88 93.52h.01M36.29 90.39h.01M33.03 98.15h.01M32.04 98.53h.01M31.85 96.71h.01M33.14 101.82h.01M34.18 93.2h.01" stroke="#000" stroke-opacity="0.51" stroke-width="1.12" stroke-linecap="round"/><path d="M33.23 151.92h.01M30.02 151.58h.01M32.67 150.27h.01M32.91 147.33h.01M31.29 147.43h.01M32.54 147.07h.01M31.99 145.84h.01M31.22 147.89h.01M31.23 149.27h.01M31.12 148.29h.01M28.29 151.99h.01M30.47 148.21h.01M30.16 151.7h.01M30.04 150.31h.01M33.17 153.51h.01M33.18 150.63h.01M29.6 152.51h.01M33.18 151.25h.01M32.61 149.12h.01M30.63 151.93h.01M33.31 146.01h.01M32.78 149.61h.01M32.74 149.69h.01M33.08 151.79h.01M32.74 145.08h.01M32.65 149.07h.01M29.74 150.91h.01M29.38 151.44h.01M33.95 147.54h.01M32.8 150.2h.01M32.4 145.19h.01M32.34 149.33h.01M32.53 148.98h.01M33.06 149.72h.01M32.45 152.77h.01M31.71 151.73h.01M31.78 150.42h.01M30.66 151.13h.01M33.26 148.75h.01M32.62 150.17h.01M29.8 149.96h.01M33.4 147.64h.01M28.81 149.55h.01M30.5 154.23h.01M31.39 148.98h.01M30.52 149.68h.01M30.62 146.51h.01M31.36 146.76h.01M33.4 145.78h.01M31.34 147.1h.01M29.42 153.57h.01M28.35 153h.01M29.37 149.25h.01M34.79 143.15h.01M29.43 152.6h.01M31.71 147.5h.01M31.41 146.35h.01M31.63 153.1h.01M30.89 149.38h.01M33.22 154.46h.01M30.59 149.82h.01M30.63 147.23h.01M30.86 147.26h.01M28.91 143.54h.01M30.38 149.36h.01M33.24 147.54h.01M31.21 150.81h.01M32.54 148.68h.01M31.37 154.14h.01M30.96 147.66h.01M29.06 150.19h.01M31.07 154.24h.01M30.96 151.23h.01M32.82 153.52h.01M29.53 153.29h.01M31.47 148.71h.01M31 147.92h.01M30.95 142.6h.01M32.2 149.17h.01M30.06 148.82h.01M34.83 150.04h.01M30.88 153.68h.01M30.29 148.58h.01M30.64 148.35h.01M32.52 150.59h.01M30.38 148.64h.01M31.58 147.88h.01M31.4 147.02h.01M30.37 149.11h.01M29.94 150.13h.01M31.17 146.48h.01M30.55 147.68h.01M31.21 149.3h.01M31.14 146.62h.01M33.54 151.45h.01M31.61 151.58h.01M31.92 148.28h.01M32.89 151.82h.01M30.87 150.62h.01M34.74 150.14h.01M33.01 152.4h.01M32.38 153.27h.01M31.78 150.33h.01M31.89 149.28h.01M33.46 147.66h.01M31.44 146.86h.01M31.48 147.93h.01M32.23 148.64h.01M30.57 148.18h.01M31.27 147.59h.01M32.8 150.8h.01M31.65 145.75h.01M32.19 145.51h.01M31.71 149.11h.01M30.59 146.73h.01M30.43 154.54h.01M31.06 148.42h.01M32.83 150.11h.01M32.97 145.66h.01M31.38 148.19h.01M31.67 151.65h.01M29.72 149.74h.01M31.4 150.79h.01M31.69 147.54h.01M30.19 142.4h.01M32.86 145.01h.01M30.86 153.46h.01M30.84 150.62h.01M31.13 150.86h.01M31.48 147.6h.01M33.39 148.26h.01M29.51 148.09h.01M32.22 145.97h.01M32.57 151.04h.01M34.5 147.25h.01M32.39 144.48h.01M30.84 149.25h.01M32.03 148.82h.01M31.31 147.32h.01M30.8 149.79h.01M32.24 150.69h.01M32.87 152.17h.01M28.84 147.57h.01M31.21 147.24h.01M32.95 150.98h.01M31.28 149.3h.01M33.26 148.04h.01M30.99 151.41h.01M32.11 152.78h.01M31.97 150.98h.01M30.65 146.45h.01M31.43 141.85h.01M32.03 151.58h.01M31.55 148.38h.01M33 148.86h.01M32.85 154.85h.01M32.48 151.49h.01M32.15 149.65h.01M31.84 149.15h.01M33 144.65h.01M31.06 150.73h.01M30.23 148.69h.01M30.44 150.15h.01M32.68 152.87h.01M32.16 147.05h.01M31.8 150.5h.01M33.46 143.23h.01M31.97 144.08h.01M32.47 150.17h.01M32.16 151.34h.01M31.99 147.24h.01M31.94 152.19h.01M31.27 149.05h.01M29.7 152.08h.01M30.72 146.99h.01M30.8 146.67h.01M31.08 152.39h.01M32.58 152.78h.01M33.57 146.58h.01M32.13 152.98h.01M34.73 145.19h.01M29.4 150.23h.01M30.96 146.32h.01M31.98 146.86h.01M28.19 148.91h.01M31.62 150.67h.01M32.78 149.46h.01M31.1 147.19h.01M29.08 147.79h.01M32.86 150.71h.01M34.37 148.56h.01M28.88 151.17h.01M32.92 145.84h.01M29.12 149.37h.01M32.45 145.97h.01M30.95 146.88h.01M29.74 145.44h.01M31.63 147.96h.01M30.47 141.98h.01M33.93 146.43h.01M31.23 145.91h.01M31.97 144.91h.01M31.56 148.44h.01M32.74 146.01h.01M30.49 148.31h.01M34.42 145h.01M31.84 147.19h.01M31.87 150.68h.01M31.62 149.64h.01M31.82 147.36h.01M31.11 144.5h.01M30.91 146.88h.01M31.05 150.9h.01M31.96 150.19h.01M32.99 142.55h.01M32.03 148.86h.01M31.27 145.43h.01M32.2 151.99h.01M32.88 148.69h.01M32.32 151.38h.01M34.02 152.2h.01M31.61 149.17h.01M31.65 149.52h.01M30.7 150.98h.01M30.42 146.77h.01M31.92 147.38h.01M31.06 143.36h.01M32.54 148.9h.01M31.22 150.15h.01M31.71 147.04h.01M34.28 147.71h.01M32.8 153.8h.01M30.52 149.16h.01M30.23 151.71h.01M30.93 145.97h.01M33.29 151.36h.01M30.13 152.07h.01M33.86 147.42h.01M31.02 146.56h.01M31.59 149.03h.01M32.46 149.14h.01M29.3 146.74h.01M33.43 151.99h.01M31.17 148.54h.01M31.16 148.96h.01M29 151.29h.01M30.46 149.29h.01M27.78 149.53h.01M33.32 142.93h.01M33.58 150.16h.01M30.35 144.66h.01M33.07 149.6h.01M32.25 148.17h.01M30.26 151.23h.01M30.03 151.31h.01M29.01 146.43h.01M29.32 152.4h.01M28.89 145.85h.01M32.35 149.51h.01M34.54 153.83h.01M32.28 150.75h.01M28.78 146.54h.01M30.93 148.42h.01M29.43 146.41h.01M30.18 151.74h.01M32.01 148.01h.01M31 149.68h.01M30.4 148.19h.01M28.93 150.69h.01M32.78 149.87h.01M32.08 149.88h.01M34.33 149.44h.01M29.5 146.09h.01M32.42 151.76h.01M32.51 151.15h.01M31.67 144.91h.01M30.38 144.04h.01M30.84 145.24h.01M31.54 148.44h.01M28.6 150.86h.01M32.49 145.16h.01M31.6 150.81h.01M30.98 151.19h.01M31.66 151.77h.01M31.66 148.44h.01M32.13 150.99h.01M31.75 147.67h.01M30.25 147.87h.01M30.56 149.42h.01M31.63 148.64h.01M31.38 149.33h.01M33.64 152.11h.01M30.55 150h.01M30.91 148.6h.01M31.03 147.18h.01M29.41 142.22h.01M31.67 152.05h.01M30.07 150.22h.01M30.82 149.61h.01M30.21 148.23h.01M31.21 142.43h.01M31.69 148.48h.01M27.78 150.6h.01M31.32 149.4h.01M31.89 147.72h.01M29.81 147.64h.01M30.75 154.84h.01M34.04 147.52h.01M30.77 149.71h.01M32.18 146.96h.01M29.91 154.07h.01M32.9 144.62h.01M28.8 146.59h.01M31.68 150.31h.01M30.87 144.44h.01M31.68 150.46h.01M31.36 147.48h.01M32.19 148.67h.01M29.73 149.08h.01M29.47 151.44h.01M32.04 146.11h.01M31.66 152.22h.01M28.23 148.44h.01M33.76 144.59h.01M31.11 144.93h.01M31.26 142.27h.01M28.98 147.35h.01M31.56 149.85h.01M31.98 151.95h.01M32.38 150.83h.01M29.92 148.39h.01M36.02 155.02h.01M32.57 150.84h.01M32.81 147.71h.01M34.23 147.79h.01M31.23 154.79h.01M28.3 149.81h.01M28.82 147.02h.01M31.22 147.85h.01M31.61 146.71h.01M31.2 145.55h.01M30.78 145h.01M32.32 145.25h.01M32.38 147.68h.01M30.91 152.07h.01M31.52 143.59h.01M32.09 140.81h.01M31.75 147.71h.01M29.28 149.03h.01M30.9 154.36h.01M30.71 154.19h.01M33.41 147.13h.01M30.14 152.47h.01M31.15 149.26h.01M30.98 145.46h.01M30.8 146.15h.01M29.08 148h.01M34.01 153.31h.01M31.26 149.19h.01M32.12 152.59h.01M31.83 147.49h.01M30.77 151.97h.01M35.23 147.08h.01M28.3 151.07h.01M31.24 149.2h.01M33.2 149.01h.01M29.38 143.35h.01M31.29 145.59h.01M31.79 145.27h.01M30.83 144.72h.01M30.81 147.57h.01M32.25 152.57h.01M31.08 146.41h.01M34.28 149.83h.01M32.27 150.52h.01M33.53 151.64h.01M32.37 150.96h.01M30.08 147.13h.01M31.2 149.09h.01M31.39 149.69h.01M31.4 147.63h.01M28.93 151.16h.01M32.24 146.37h.01M32.11 149.93h.01M31.47 143.69h.01M29.56 147.15h.01M33.78 146.43h.01M30.84 145.72h.01M30.62 149.79h.01M28.26 140.9h.01M32.35 148.93h.01M30.46 151.54h.01M32.81 142.97h.01M31.11 151.93h.01M30.36 147.95h.01M32.79 148.08h.01M29.57 146.91h.01M29.37 150.38h.01M28.78 151.63h.01M28.9 148.95h.01M29.16 147.94h.01M32.89 151.97h.01M33.32 148.58h.01M31.52 149.48h.01M32.28 147.71h.01M33.01 149.74h.01M33.08 150.16h.01M32.38 146.78h.01M30.74 145.21h.01M30.92 148.33h.01M32.61 145.3h.01M36.21 148.48h.01M33.25 151.74h.01M27.58 148.09h.01M33.57 142.04h.01M32.51 146.26h.01M30.66 149.45h.01M28.56 149.37h.01M30.39 146.73h.01M31.87 150.37h.01M31.28 146.8h.01M31.75 153.07h.01M31.64 151.31h.01M28.88 150.46h.01M32.17 149.56h.01M29.68 145.63h.01M31 149.09h.01M29.53 145.83h.01M32.19 151.7h.01M30.51 146.85h.01M32.08 148.62h.01M32.86 155.23h.01M33.1 144.8h.01M31.22 147.67h.01M30.83 145.39h.01M30.76 145.76h.01M31.85 148.92h.01M29.22 144.01h.01M30.62 150.62h.01M32.09 148.6h.01M26.38 147.4h.01M30.23 147.85h.01M29.51 147.57h.01" stroke="#000" stroke-opacity="0.95" stroke-width="1.12" stroke-linecap="round"/><path d="M31.05 150.47h.01M32.7 142.89h.01M31.79 143.09h.01M32.08 142.34h.01M31.83 146.07h.01M32.85 144.2h.01M33.45 143.98h.01M30.67 138.84h.01M31.01 143.23h.01M32.33 146.2h.01M31.16 141.3h.01M32.78 146.47h.01M31.28 144.28h.01M33.51 144.23h.01M31.79 137.98h.01M33.45 145.07h.01M32 142.18h.01M30.35 143.14h.01M31.72 146.26h.01M30.39 147.15h.01M31.89 146.49h.01M30.68 144.3h.01M33.32 143.69h.01M30.08 142.54h.01M32.5 139.75h.01M30.11 144.01h.01M30.71 145.17h.01M30.44 138.61h.01M30.92 147.29h.01M30.81 143.38h.01M32.15 140.92h.01M33.16 143.86h.01M32.39 139.02h.01M29.75 136.22h.01M31.63 142.8h.01M32.72 147.27h.01M31.55 142.7h.01M32.4 147.38h.01M30.86 145.03h.01M31.56 142.53h.01M32.83 141.34h.01M30.57 145.14h.01M31.83 142.72h.01M31.7 144.7h.01M31.41 145.4h.01M32.35 147.26h.01M33.38 145.64h.01M31.61 143.71h.01M31.15 150.83h.01M31.59 144.85h.01M33.49 139.86h.01M30.87 142.38h.01M30.66 140.11h.01M31.24 146.77h.01M32.73 143.5h.01M31.89 139.09h.01M32.7 144.52h.01M30.56 143.95h.01M31.63 142.07h.01M30.67 141.66h.01M30.73 144.62h.01M32.3 144.26h.01M31.64 142.36h.01M34.31 138.58h.01M33.3 144.34h.01M31.95 142.1h.01M31.6 140.34h.01M30.2 143.13h.01M29.88 145.61h.01M33.2 134.48h.01M30 144.13h.01M32.12 143.71h.01M32.37 145.37h.01M32.9 148.08h.01M31.9 145.67h.01M29.92 143.09h.01M30.4 147.05h.01M34.67 144.84h.01M30.31 143.14h.01M31.9 143.95h.01M33.18 145.91h.01M28.69 146.99h.01M31.27 141.98h.01M33.57 142.74h.01M30.23 139.99h.01M31.94 145.8h.01M33.67 142.99h.01M31.31 147.66h.01M31.32 147.23h.01M32.15 144.06h.01M31.59 144.21h.01M31.32 141.67h.01M31.71 141.75h.01M32.24 143.66h.01M31.56 142.92h.01M31.6 147.96h.01M31.86 141.9h.01M31.52 145.16h.01M31.63 143.05h.01M31.56 143.87h.01M32.34 144.59h.01M29.91 140.67h.01M28.72 145.52h.01M33.2 146.82h.01M32.04 146.42h.01M31.83 143.12h.01M30.02 141.4h.01M31.16 145.82h.01M33.86 142.22h.01M32.32 144.15h.01M30.94 138.96h.01M30.97 139.7h.01M31.49 143.07h.01M31.65 143h.01M32.45 141.01h.01M32.93 139.09h.01M31.94 144.44h.01M30.92 139.29h.01M32.63 141.68h.01M32.8 145.42h.01M31.86 143.43h.01M33.05 144.41h.01M30.75 143.86h.01M32.53 143.95h.01M32.09 143.05h.01M31.73 141h.01M30.16 146.35h.01M31.11 144h.01M30.07 143.84h.01M30.88 151.11h.01M30.65 140.93h.01M32.99 146.37h.01M29.35 144.09h.01M32.92 140.26h.01M32.68 142.06h.01M30.67 142.52h.01M31.32 139.83h.01M34.54 142.25h.01M30.98 145.63h.01M31.78 146.87h.01M31.55 144.33h.01M31.98 143.86h.01M31.62 143.16h.01M33.86 141.67h.01M31.21 142.54h.01M32.55 144.46h.01M32.98 139.97h.01M32.17 142.97h.01M31.52 143.85h.01M29.52 144.13h.01M32.04 139.74h.01M31.75 147.42h.01M31.4 144.95h.01M31.6 141.33h.01M30.77 142.4h.01M33.41 145.53h.01M31.03 146h.01M31.71 141.64h.01M32.38 141.08h.01M30 146.76h.01" stroke="#000" stroke-opacity="0.8" stroke-width="1.12" stroke-linecap="round"/><path d="M28.07 148.68h.01M28.76 146.25h.01M31.78 144.51h.01M27.26 145.92h.01M32.15 142.56h.01M32.08 150.6h.01M30.6 147.48h.01M29.62 148.01h.01M34.3 148.23h.01M35.44 142.17h.01M34.68 144.08h.01M30.84 151.04h.01M32.77 152.02h.01M28.96 147.55h.01M31.05 145.25h.01M27.92 150.38h.01M32.73 142.23h.01M29.2 142.72h.01M35.42 145.99h.01M31.5 148.5h.01M32.28 147.4h.01M33.94 147.83h.01M34.25 141.38h.01M32.41 144.93h.01M32.51 146.27h.01M30.83 144.97h.01M34.41 144.12h.01M29.46 148.96h.01M34.47 145.32h.01M32.57 142.93h.01M31.82 151.14h.01M34.09 147.1h.01M31.67 139.61h.01M33 148.41h.01M34.67 154.98h.01M33.14 150.52h.01M29.78 151.57h.01M34.25 152.23h.01M33.82 148.4h.01M35.63 143.71h.01M33.75 151.06h.01M30.54 141.67h.01M33.28 147.04h.01M33.68 149.23h.01M30.59 147.95h.01M34.85 145.04h.01M31.68 141.81h.01M34.15 154.73h.01M29.25 149.74h.01M34.35 144.2h.01M31.49 142.17h.01M30.57 147.25h.01M33.79 147.05h.01M34.25 147.42h.01M29.71 152.65h.01M34.99 143.59h.01M36.31 148.54h.01M32.64 154.62h.01M26.74 139.85h.01M33.94 145.56h.01M30.23 152.91h.01M33.44 141.25h.01M30.87 150.14h.01M36.36 138.21h.01M32.92 145.01h.01M28.44 145.91h.01M28.77 144.36h.01M35.99 148.77h.01M34.12 149.14h.01M33.16 150.7h.01M29.75 145.12h.01M34.28 143.58h.01M31.39 151.7h.01M35.82 144.1h.01M30.55 149.1h.01M32.99 143.83h.01M33.72 148.98h.01M35.44 150.08h.01M34.85 143.65h.01M33.11 146.98h.01M31.12 147.76h.01M32.96 146.44h.01M31.3 150.16h.01M28.81 150.14h.01M32.42 147.83h.01M27.06 153.74h.01M28.51 143.05h.01M33.84 144.13h.01M31.48 137.29h.01M31.42 147.58h.01M33.93 145.48h.01M32.89 148.53h.01M30.88 143.53h.01M36.81 143.11h.01M35.18 146.99h.01M35.72 144h.01M33.57 148.09h.01M31.89 148h.01M30.67 146.35h.01M31.5 149.9h.01M32.2 140.83h.01M31.57 146.28h.01M30.37 152.3h.01M33.32 150.25h.01M30.68 145.01h.01M34.68 140.66h.01M33.23 147.07h.01M31.28 147.08h.01M29.98 147.64h.01M29.66 141.31h.01M35.56 143.73h.01M27.63 150.81h.01M30.66 131.83h.01M32.27 150.61h.01M33.2 153.96h.01M32.12 149.22h.01M30.13 147.39h.01M35.87 148.83h.01M32.77 138.34h.01M31.55 141.25h.01M34.16 143.58h.01M33.22 142.46h.01M36.67 141.74h.01M32.89 143.01h.01M33.8 150.9h.01M34.38 138.37h.01M32.9 137.7h.01M36.71 147.01h.01M31.36 149.55h.01M33.51 141.68h.01M36.09 145.68h.01M28.42 152.64h.01M35.89 152.03h.01M33.66 142.92h.01M34.54 154.61h.01M34.26 153.51h.01" stroke="#000" stroke-opacity="0.48" stroke-width="1.12" stroke-linecap="round"/><path d="M53.37 149.46h.01M55.57 146.98h.01M52.27 147.74h.01M54.47 148.9h.01M54.08 148.39h.01M54.22 148.54h.01M55.12 148.94h.01M54.3 148.71h.01M53.79 149.24h.01M53.72 150.08h.01M54.34 148.72h.01M53.39 148.11h.01M54.58 148.47h.01M53.57 147.3h.01M54.42 148.61h.01M55.08 149.69h.01M53.97 146.47h.01M54.18 146.62h.01M52.71 149.48h.01M55.1 147.81h.01M53.55 148.37h.01M52.1 148.93h.01M53.92 150.28h.01M53 149.45h.01M53.49 149.47h.01M53.11 149.19h.01M53.8 147.63h.01M54.18 148.93h.01M54.9 150.03h.01M55.44 145.83h.01M53.85 146.47h.01M53.88 149.08h.01M52.64 147.28h.01M54.56 148.17h.01M56.42 148.78h.01M55.06 150.2h.01M53.72 148.46h.01M53.09 148.71h.01M55.71 149.82h.01M54.33 147.75h.01M53.38 147.07h.01M54.53 149.81h.01M51.3 146.29h.01M56.19 146.85h.01M54.81 147.2h.01M55.39 149.24h.01M54.6 149.28h.01M54.45 149.02h.01M56.75 149.56h.01M53.53 147.66h.01M54.07 148.24h.01M54.48 147.86h.01M55.23 148.5h.01M54.86 148.47h.01M55.19 147.27h.01M56.44 148.81h.01M54.97 149.08h.01M55.8 149.21h.01M54.7 148.29h.01M52.26 148.69h.01M53.99 148.16h.01M57.52 146.61h.01M54.47 149.69h.01M55.65 149.71h.01M52.75 147.51h.01M55.2 148.18h.01M56.62 148.71h.01M54.66 148.92h.01M54.05 148.6h.01M53.53 148.44h.01M53.78 148.74h.01M52.56 146.99h.01M55 148.71h.01M53.16 148.26h.01M53.05 150.52h.01M52.38 150.2h.01M53.34 148.91h.01M54.07 148.11h.01M55.63 149.3h.01M54.04 147.58h.01M57.11 149.89h.01M54.6 148.19h.01M54.8 148.57h.01M55.97 147.52h.01M54.44 147.7h.01M56.11 150.29h.01M54.3 149.03h.01M56.24 148.19h.01M53.2 149.53h.01M55.08 148.28h.01M56.32 148.73h.01M52.1 148.84h.01M54.34 150.37h.01M54.4 148.28h.01M54.99 148.74h.01M52.59 148.61h.01M53.99 149.9h.01M57.54 147.37h.01M53.16 147.65h.01M53.57 147.8h.01M54.49 149.58h.01M52.73 146.95h.01M52.03 149.6h.01M56.15 146.96h.01M52.3 148.62h.01M55.84 149.51h.01M54.67 149.18h.01M54.85 147.94h.01M56.9 148.49h.01M52.98 148.03h.01M52.42 148.51h.01M55.85 147.23h.01M55.89 150.59h.01M54.91 147.34h.01M53.31 148.16h.01M52.76 147.24h.01M54.09 148.31h.01M55.21 147.29h.01M56.86 149.56h.01M55.58 147.84h.01" stroke="#000" stroke-opacity="0.95" stroke-width="1.12" stroke-linecap="round"/><path d="M51.55 149.36h.01M57.57 147.94h.01M57.36 148.14h.01M52.48 149.82h.01M53.93 145.96h.01M57.14 147.02h.01M57.34 148.35h.01M55.27 150.46h.01M56.25 146.76h.01M51.04 148.64h.01M52.15 147.05h.01M53.65 150.27h.01M56.57 150.21h.01M51.06 146.68h.01M57.18 146.47h.01M51.8 149.03h.01M57.2 148.68h.01M54.09 146.6h.01M56.69 148.63h.01M57.1 147.35h.01M57.2 148.82h.01M54.93 150.36h.01M51.03 148.22h.01M56.54 147.47h.01M56.33 148.81h.01M52.67 149.8h.01M57.57 149.26h.01M57.15 149.45h.01M50.42 149.22h.01M51.25 147.81h.01M51.76 149.11h.01M57.52 149.22h.01M50.97 149.18h.01M50.76 149.37h.01M56.54 147.31h.01M52.41 149.88h.01M52.37 146.42h.01M51.24 147.94h.01M55.42 145.87h.01M52.24 147.93h.01M56.22 147.68h.01M52.12 147.18h.01M52.32 150.17h.01M51.18 149.5h.01M55.6 146.97h.01M50.77 148.92h.01M57.84 147.38h.01M50.94 150.01h.01M57.62 148.02h.01M55.86 150.22h.01M55.12 145.42h.01M51.59 148.86h.01M55.27 150.91h.01M51.32 146.83h.01M57.21 149.3h.01M55 150.18h.01M56.29 146.71h.01M51.7 148.03h.01M52.19 149.21h.01M56.51 149.73h.01M55.73 149.87h.01M53.9 150.13h.01M50.03 148.56h.01M56.89 149.34h.01M55.3 150.15h.01M51.52 149.48h.01M56.18 146.71h.01M56.13 147.81h.01M57.11 146.49h.01M55.08 151.5h.01M55.99 151.31h.01M56.01 146.99h.01M52.99 146.11h.01M53.73 149.84h.01M50.41 149.61h.01M56.46 147.44h.01M55.65 146.01h.01M57.11 147.37h.01M50.9 148.33h.01M55.35 149.72h.01M50.62 147.33h.01M56.63 150.24h.01M57.21 149.78h.01M57.27 149.42h.01M54.7 150.39h.01M56.01 149.9h.01M54.07 151.21h.01M52.62 146.25h.01M52.5 146.82h.01M58.13 148.42h.01M54.9 146.89h.01M55.83 145.54h.01M57.03 147.47h.01M53.77 150.6h.01M54.05 146.25h.01M50.83 147.16h.01M53.09 146.43h.01M56.31 147.71h.01M57.11 148.23h.01M56.69 146.53h.01M55.93 146.64h.01M51.47 146.65h.01M50.55 148.96h.01M51.86 148.27h.01M56.03 149.39h.01M54.56 146.1h.01M51.38 147.85h.01M50.96 147.64h.01M52.45 146.87h.01M55.98 149.17h.01" stroke="#000" stroke-opacity="0.64" stroke-width="1.12" stroke-linecap="round"/><path d="M51.79 148.93h.01M56.79 148h.01M56.07 148.28h.01M53.89 142.33h.01M45.98 141.35h.01M53.97 146.53h.01M53.65 147.66h.01M53.3 144.6h.01M48.81 142.35h.01M58.44 149.36h.01M49.33 146.4h.01M55.69 151.08h.01M51.99 147.52h.01M58.23 142.73h.01M51.52 146.99h.01M51.56 152.38h.01M57.2 147.57h.01M50.7 149.25h.01M56.36 145.79h.01M52.57 143.41h.01M53.83 149.25h.01M57.66 148.53h.01M57.03 145.6h.01M52.43 150.09h.01M55.7 145.08h.01M55.88 149.15h.01M56.61 147.34h.01M52.26 148.07h.01M60.11 147.44h.01M51.72 147.92h.01M49.72 147.64h.01M53.03 149.46h.01M54.46 149.69h.01M62.24 146.52h.01M51.13 148.21h.01M53.77 147.42h.01M51.95 148.45h.01M54.33 141.66h.01M53.24 147.89h.01M58.25 145.61h.01M51.24 149.93h.01M51.92 147.32h.01M55.75 148.9h.01M54.11 144.28h.01M57.65 145.97h.01M52.23 152.06h.01M57.18 144.41h.01M52.37 146.44h.01M51.42 142.27h.01M56.91 148.99h.01M54.93 146.05h.01M54.82 148.64h.01M50.39 146.22h.01M52.09 148.78h.01M54.99 143.81h.01M51.89 151.45h.01M50.64 147.42h.01M51.84 150.15h.01M53.84 145.96h.01M49.92 146.43h.01M56.98 148.72h.01M49.39 150.92h.01M53.19 144.42h.01M54.5 145.49h.01M52.01 145.46h.01M53.73 145.79h.01M48.03 148.33h.01M52.21 150h.01M55.93 148.56h.01M54.68 150.25h.01M52.89 144.56h.01M55.25 140.27h.01M52.74 147.56h.01M52.57 150.15h.01M56.5 147.31h.01M52.63 149.74h.01M51.65 145.99h.01M56.66 148.5h.01M61.18 146.48h.01M47.42 148.66h.01M58.45 146.61h.01M59.5 151.43h.01M51.69 145.83h.01M49.63 148.36h.01M56.55 148.52h.01M49.69 145.12h.01M49 143.02h.01M49.29 143.1h.01M53.38 148.06h.01M56.21 146.96h.01M51.66 146.98h.01M56.01 146.27h.01M54.2 146.25h.01M52.17 147.09h.01M50.09 149.61h.01M48.53 148.14h.01M49.23 150.74h.01M57.05 145h.01M52.43 144.21h.01M53.8 148.02h.01M62.95 143.62h.01M58.35 145.56h.01M54.97 149.17h.01M55.9 148.04h.01M53.31 146.98h.01M54.53 149.96h.01M48.86 145.79h.01M49.64 144.62h.01M51.21 149.71h.01M61.5 150.35h.01M49.86 147.19h.01M50.03 148.1h.01M58.44 148.45h.01M57.04 146.64h.01M47.12 142.11h.01M53.65 148.42h.01M58.44 146.14h.01M54.26 147.63h.01M57.71 146.83h.01M50.17 149.67h.01M55.44 147.94h.01M49.56 146.98h.01M47.99 142.05h.01M53.17 145.93h.01M55.98 150.55h.01M53.88 151.41h.01M51.95 148.88h.01M49.57 147.31h.01M52.89 146.48h.01M56.05 142.35h.01M54.4 145h.01M54.41 147.97h.01M52.7 146.08h.01M49.97 148.35h.01M51.65 148.09h.01M49.02 150.37h.01M50.43 149.85h.01M52.43 148.34h.01M53.5 148.67h.01M54.01 150.13h.01M56.34 148.68h.01M59.82 145.28h.01M58.54 147.18h.01M48.84 148.18h.01M53.29 151.15h.01M52.28 147.12h.01M54.82 142.31h.01M55.77 144.55h.01M58.91 151.1h.01M53.97 143.1h.01M54.63 147.43h.01M56.51 146.27h.01M49.85 146.65h.01M50.77 151.36h.01M51.53 145.39h.01M53.84 143.95h.01M52.45 146.67h.01M52.3 146.38h.01M58.33 148.07h.01M49.34 145.94h.01M56.6 145.4h.01M54.28 146.93h.01M55.84 146.56h.01M53.51 144.89h.01M55.25 144.72h.01M60.04 146.95h.01M53.22 148.94h.01M53.7 147.22h.01M53.82 145.22h.01M50.79 145.28h.01M57.94 145.46h.01M52.59 145.9h.01M56.43 151.87h.01M50.78 148.35h.01M54.42 146.26h.01M55.76 143.88h.01M56.9 147.54h.01M50.53 150.92h.01M56.96 149.86h.01M48.94 146.33h.01M52.18 148.54h.01M58.72 142.32h.01M54.07 146.69h.01M57.48 146.9h.01M49.57 146.52h.01M50.4 145.09h.01M54.15 145.82h.01M54.97 143.27h.01M62.07 150.1h.01M56.5 143.83h.01M46.5 144.88h.01M53.19 152.48h.01M58.54 145.71h.01M58.2 150h.01M54.05 149.99h.01M55.15 145.39h.01M49.92 146.7h.01M57.47 143.67h.01M48.4 148.35h.01M44.55 151.47h.01M52.47 148.8h.01M60.46 143.44h.01M50.35 152.5h.01M53.01 146.69h.01M54.79 149.59h.01M58.61 147.27h.01M52.83 146.91h.01M55.05 150.21h.01M54.47 151.47h.01M51.02 148.31h.01M60.1 150.16h.01M55.16 144.83h.01M51.52 146.62h.01M55.08 146.39h.01M48.94 145.19h.01M55.8 149.05h.01M49.14 146.11h.01M48.18 145.62h.01M66.32 147.16h.01M52.8 145.56h.01M49.79 142.44h.01M53.85 146.32h.01M59.14 142.98h.01M55.51 150.29h.01M47.2 148.61h.01M48.4 148.28h.01M59.13 146.99h.01M55 145.3h.01M55.01 149.78h.01M53.36 146.66h.01M55.36 149.02h.01M48.31 147.15h.01M51.62 148.22h.01M57.6 147.77h.01M58.49 144.57h.01M52.58 144.57h.01M54.21 147.24h.01M53.31 144.03h.01M53.74 145.93h.01M56.1 146.34h.01" stroke="#000" stroke-opacity="0.35" stroke-width="1.12" stroke-linecap="round"/><path d="M53.26 131.25h.01M54.2 125.6h.01M56.06 150.95h.01M53.32 137.17h.01M58.74 142.81h.01M55.77 128.7h.01M58.52 148.76h.01M54.36 146.28h.01M53.46 126.15h.01M53.24 131.76h.01M52.69 146.11h.01M51.04 126.83h.01M54.68 125.4h.01M55.8 129.08h.01M54.07 129.88h.01M52.13 146.81h.01M54.32 147.01h.01M54.94 141.91h.01M55.01 134.84h.01M61.58 147.04h.01M50.96 143.45h.01M54.75 127h.01M55.72 131.38h.01M54.46 144.94h.01M53.31 141.76h.01M51.02 137.3h.01M52.1 140.86h.01M55.89 133.03h.01M59.34 142.26h.01M52.66 129.75h.01M56.37 151.71h.01M56.36 147.97h.01M57.48 140.01h.01M55.31 151.5h.01M55.84 144.51h.01M57.31 142.07h.01M49.79 143.76h.01M54.33 145.1h.01M45.99 151.78h.01M46.06 147.05h.01M52.02 132.86h.01M51.23 126.91h.01M56.43 150.2h.01M58.11 145.96h.01M53.05 142.18h.01M53.67 139.81h.01M53.11 150.86h.01M53.6 126.22h.01M54.38 130.31h.01M55.07 135.17h.01M52.02 151.95h.01M51.1 144.93h.01M52.26 142.63h.01M56.38 135.89h.01M53.14 130.39h.01M56.43 125.06h.01M53.55 129.87h.01M57.21 130.91h.01M50.13 140.36h.01M52.08 136.53h.01M56.36 151.51h.01M56.33 150.22h.01M53.58 141.49h.01M58.68 130.66h.01M54.3 135.18h.01M54.55 125.54h.01M51.99 144.13h.01M59.02 137.05h.01M57.97 150.34h.01M55.23 135.15h.01M47.18 148.62h.01M55.19 137.29h.01M52.39 143.92h.01M55.23 136.23h.01M57.93 147.63h.01M52.25 132.47h.01M54.56 130.46h.01M55.64 126.62h.01M54.58 136.95h.01M52.84 145.86h.01M50.73 139.11h.01M51.31 148.43h.01M49.62 142.27h.01M57.47 140.95h.01M54.45 140.05h.01M51.94 126.14h.01M54.1 142.37h.01M51.06 131.45h.01M47.72 127.81h.01M56.49 128.51h.01M56.7 130.63h.01M48.76 143.11h.01M52.18 134.29h.01M54.64 134.54h.01M52.93 137.8h.01M50.29 151.02h.01M52.77 133.47h.01M53.44 134.71h.01M52.68 133.27h.01M54.66 135.11h.01M53.46 134.62h.01M50.94 148.14h.01M54.25 151.53h.01M49.14 137.28h.01M60.31 148.99h.01M50.55 128.65h.01M53.83 139.62h.01M55.54 147.94h.01M54.87 128.09h.01M55.34 151.97h.01M57.87 137.43h.01M50.4 140.06h.01M53.82 150.78h.01M54.77 150.19h.01M52.88 132h.01M52.22 138.94h.01M59.17 145.89h.01M51.83 139.05h.01M51.99 150.64h.01M53.41 131.73h.01M53.16 151.45h.01M54.69 143.14h.01M53.35 142.95h.01M55.52 144.65h.01M54.42 133.67h.01M55.58 138.62h.01M57.38 132.3h.01M50.64 147.56h.01M58.66 135.56h.01M53.09 129.92h.01M56.99 149.5h.01M54.52 135.92h.01M52.79 150.88h.01M47.96 138.66h.01M60.05 143.86h.01M51.03 147.09h.01M51.47 140.49h.01M58.84 150.74h.01M54.41 147.65h.01M62.32 149.55h.01M59.74 140.89h.01M55.54 129.46h.01M54.62 130.88h.01M55.7 130.01h.01M49.64 140.96h.01M54.87 150.89h.01M54.58 141.43h.01M52.63 138.25h.01M54.56 128.88h.01M49.82 136.78h.01M56.12 131.23h.01M58.12 138.95h.01M49.99 139.01h.01M54.74 150.52h.01M58.65 137.34h.01M55.89 149.36h.01M52.25 126.21h.01M51.28 135.98h.01M57.39 145.58h.01M59.78 138.7h.01M51.98 127.68h.01M54.17 136.28h.01M51.42 141.44h.01M52.82 151h.01M54.81 132.86h.01M53.96 128.06h.01M51.37 146.42h.01M61.61 142.99h.01M53.61 136.08h.01M53.53 137.22h.01M57.11 135.48h.01M54.12 144.16h.01M53.23 148.95h.01M56.58 134.68h.01M49.59 149.96h.01M56.32 137.95h.01M57.4 139.86h.01M55.72 133.43h.01M53.7 127.96h.01M54.03 131.76h.01M49.75 133.26h.01M53.66 138.46h.01M55 139.92h.01M57.7 148.46h.01M54.46 136.35h.01M52.53 146.61h.01M51.94 133.35h.01M53.92 139.52h.01M54.29 127.58h.01M59.28 149.55h.01M54.08 136.16h.01M52.25 143.61h.01M53.7 141.66h.01M52.51 139.78h.01M53.47 132.91h.01M45 147.99h.01M49.01 139.37h.01M51.54 129.53h.01M54.96 128.43h.01M53.81 140.18h.01M54.57 141.74h.01M57.05 134h.01M51.49 132.79h.01M58.79 148.13h.01M55.51 144.66h.01M52.52 129.93h.01M60.13 147.61h.01M51.47 126.85h.01M49.39 148.43h.01M53.21 148.28h.01M54.87 129.26h.01M53.21 151.8h.01M44.89 149.74h.01M53.37 131.06h.01M53.76 143.92h.01M62.05 139.17h.01M56.97 129.96h.01M54.33 131.93h.01M51.48 131.92h.01M55.33 144.37h.01M50.05 141.91h.01M54.98 151.34h.01M55.02 134.86h.01M52.78 139.58h.01M54.77 136.69h.01M53.09 136.97h.01M52.08 142.2h.01M60.22 147.09h.01M56.24 144.66h.01M53.41 128.97h.01M52.07 134h.01M54.7 143.26h.01M56.3 146.52h.01M57.66 149h.01M58.23 136.39h.01M55.49 139.01h.01M52.07 126.48h.01M60.73 140.57h.01M57.13 134.81h.01M56.81 140.75h.01M58.76 142.62h.01M50.72 130.82h.01M53.33 127.55h.01M52.11 145.37h.01M58.63 145.58h.01M48.75 151.72h.01M53 140.18h.01M56.81 127.24h.01M55.24 127.61h.01M52.35 151.34h.01M61.34 145.89h.01M51.1 130.64h.01M55.41 138.07h.01M53.51 131.59h.01M56.09 146.87h.01M52.99 145.81h.01M50.42 150.35h.01M54.83 144.02h.01M50.14 137.58h.01M56.35 150h.01M53.11 137h.01M57.62 145.91h.01M52.96 132.32h.01M52.3 134.02h.01M55.45 142.73h.01M57.28 134.51h.01M45.38 148.82h.01M54.43 140.5h.01M56.78 150.39h.01M49.05 142.64h.01M51.01 142.02h.01M56.13 140.25h.01M52.12 131.55h.01M52.25 136.1h.01M61.4 149.65h.01M50.54 144.51h.01M50.63 146.72h.01M47.11 137.87h.01M51.47 131.8h.01M49.09 147.31h.01M59.17 137.92h.01M58.88 146.92h.01M51.7 127.24h.01M59.54 136.15h.01M56.85 143.84h.01M53.26 150.44h.01M55.9 131.75h.01M55.76 151.59h.01M51.2 144.44h.01M49.94 131.72h.01M52.57 124.97h.01M54.02 150.39h.01M52.71 144.46h.01M51.2 145.59h.01M56.94 137.81h.01M51.98 128h.01M56.86 139.53h.01M52.28 143.68h.01M54.3 134.04h.01M49.07 151.09h.01" stroke="#000" stroke-opacity="0.32" stroke-width="1.12" stroke-linecap="round"/><path d="M57.78 141.12h.01M56.95 139.89h.01M57.88 141.9h.01M58.68 141.17h.01M58.72 139.17h.01M57.41 140.89h.01M57.03 141.93h.01M59.23 140.38h.01M57.6 142.41h.01M56.47 142.2h.01M59.88 139.66h.01M58.61 139.61h.01M56.5 145.07h.01M59.01 136.82h.01M57.58 143.06h.01M57.92 143.97h.01M55.18 144.21h.01M59.96 137.91h.01M59.01 139.64h.01M57.16 143.78h.01M56.11 146.34h.01M59.1 139.39h.01M55.92 144.45h.01M57.61 140.42h.01M57.12 140.72h.01M59.21 136.36h.01M56.69 140.11h.01M56.32 145.18h.01M56.83 142.07h.01M58.94 138.26h.01M56.83 144.26h.01M56.75 145.55h.01M55.65 144.83h.01M57.99 138.8h.01M58.95 138.12h.01M58.18 142.38h.01M57.68 143.31h.01M58.25 142.61h.01M57.4 144.57h.01M58.12 142.17h.01M56.66 140.8h.01M59.43 141.81h.01M56.72 144.58h.01M59.04 140.49h.01M57.3 140.75h.01M57.96 140.3h.01M57.88 138.74h.01M55.9 144.75h.01M58.7 140.16h.01M57.62 143.9h.01M58.96 139.78h.01M56.92 139.14h.01M56.64 144.51h.01M57.63 143.88h.01M57.32 142.04h.01M58.12 141.15h.01M58.5 140.15h.01M58.74 138.8h.01M58.47 142.05h.01M56.01 143.74h.01" stroke="#000" stroke-opacity="0.53" stroke-width="1.12" stroke-linecap="round"/><path d="M53.95 133.3h.01M55.9 138.09h.01M58 106.24h.01M57.05 134.77h.01M54.94 126.51h.01M57.31 141.09h.01M54.12 134.82h.01M53.46 138.52h.01M58.01 136.77h.01M52.6 136.71h.01M53.64 133.27h.01M53.88 138.62h.01M56.64 109.12h.01M53.35 134.95h.01M55.56 130.41h.01M53.65 119.07h.01M52.35 121.74h.01M54.68 110.05h.01M54.58 117.19h.01M52.46 131.72h.01M52.92 125.85h.01M53.04 139.37h.01M55.85 115.19h.01M55.05 114.25h.01M54.69 132.55h.01M55.09 140.44h.01M53.55 119.22h.01M55.07 120.17h.01M53.34 107.97h.01M52.18 114.44h.01M53.18 138.74h.01M54.65 141.17h.01M54.45 123.67h.01M56 136.75h.01M51.61 113.79h.01M53.96 129.33h.01M54.94 138.88h.01M52.77 118.59h.01M54.71 128.97h.01M53.66 132.79h.01M52.5 111.07h.01M56.1 115.33h.01M52.09 127.35h.01M55.91 115.33h.01M53.65 111.78h.01M52.81 111.8h.01M52.9 134.18h.01M53.13 122.56h.01M52.96 126h.01M54.74 128.88h.01M51.32 117.7h.01M56.29 129.67h.01M55.65 122.27h.01M56.53 109.33h.01M52.74 124.85h.01M50.6 123.97h.01M53.31 130.8h.01M54.04 140.55h.01M54.8 107.73h.01M53.48 128.19h.01M54.18 131.33h.01M54.55 123.27h.01M51.84 121.55h.01M57.2 131.61h.01M52.52 125.48h.01M54.73 120.99h.01M56.04 129.59h.01M53.06 127.84h.01M54.32 109.17h.01M56.93 118.92h.01M53.87 138.18h.01M55.99 111.73h.01M54.78 124.78h.01M54.68 128.93h.01M55.47 110.32h.01M53.95 113.21h.01M53.98 117.62h.01M55.86 127.58h.01M54.74 110.55h.01M55.11 133.61h.01M52.41 130.56h.01M54.35 134.91h.01M56.26 114.68h.01M55.76 125.5h.01M54.87 136.92h.01M53.49 121.72h.01M53.34 126.53h.01M55.02 120.77h.01M56.59 132.64h.01M54.39 128.6h.01M56.41 133.05h.01M53.84 140.9h.01M56.24 134.03h.01M52.73 126.61h.01M54.62 115.16h.01M52.62 124.47h.01M55.38 140.07h.01M55.24 141.46h.01M52.81 110.42h.01M53.13 130.21h.01" stroke="#000" stroke-opacity="0.38" stroke-width="1.12" stroke-linecap="round"/><path d="M53.48 115.78h.01M53.99 112.84h.01M53.35 123.88h.01M56.11 122.37h.01M53.97 123.92h.01M53.64 116.08h.01M55.25 119.4h.01M55.83 125.19h.01M55.1 111.33h.01M55.69 123.8h.01M54.77 123.28h.01M54.36 117.95h.01M53.98 123.39h.01M53.9 123.12h.01M53.8 113.87h.01M54.95 126.49h.01M54.38 126.04h.01M54.62 115.1h.01M55.24 126.27h.01M54.45 119.73h.01M52.87 119.16h.01M53.56 123.39h.01M53.17 125.64h.01M52.22 115.1h.01M54.63 112.95h.01M53.07 124.42h.01M52.97 118.07h.01M53.22 119.82h.01M55.56 118.67h.01M54.14 125.05h.01M55.71 120.09h.01M54.4 122.27h.01M53.99 123.29h.01M55.19 111.05h.01M55.22 119.97h.01M54.65 120.67h.01M53.26 112.66h.01M53.96 113.67h.01M53.09 112.08h.01M54.2 117.63h.01M54.62 123.41h.01M56.28 114.93h.01M56.2 124.95h.01M55.32 112.08h.01M55.65 116.52h.01M54.78 114.71h.01M57.83 126.32h.01M56.34 113.67h.01M57.68 124.63h.01M54.96 119.29h.01M55 115.32h.01M55.77 117.69h.01M54.73 113.1h.01M54.88 120.73h.01M53.32 121.67h.01M55.63 118.08h.01M54.67 123.67h.01M55.47 123.26h.01M54.24 121.8h.01M52.37 123.04h.01M55.1 117.86h.01M55.9 113.49h.01M52.97 119.45h.01M53.34 118.39h.01M54.14 113.38h.01M54.21 122.13h.01" stroke="#000" stroke-opacity="0.51" stroke-width="1.12" stroke-linecap="round"/><path d="M69.22 113.37h.01M47.83 145.64h.01M54.89 149.43h.01M45.95 142.94h.01M55.47 135.61h.01M64.88 112.94h.01M48.6 154.08h.01M61.85 128.99h.01M51.63 143.97h.01M45.05 118.31h.01M64.65 151.2h.01M51.3 131.98h.01M59.71 137.4h.01M68.64 102.71h.01M62.1 119.26h.01M50.92 99.91h.01M59.03 115.61h.01M62.85 128.64h.01M47.65 111.72h.01M68.72 94.39h.01M47.97 120.28h.01M42.56 140.26h.01M56.67 117.14h.01M55.01 141.41h.01M45.92 117.68h.01M55.27 127.53h.01M49.25 112.45h.01M64.68 99.29h.01M55.51 141.67h.01M56.45 125.31h.01M45.6 142.45h.01M68.48 141.87h.01M48.72 141.5h.01M58.13 117.22h.01M63.63 111.91h.01M56.33 107.77h.01M50.62 122.56h.01M59.83 130.8h.01M61.95 146.57h.01M45.45 154.87h.01M48.78 138.51h.01M46.72 128.62h.01M42.15 111.6h.01M59.2 129.58h.01M69.97 111.32h.01M49.27 147.09h.01M68.23 107.88h.01M52.48 118.99h.01M67.53 107.69h.01M44.18 107.29h.01" stroke="#000" stroke-opacity="0.19" stroke-width="1.12" stroke-linecap="round"/><path d="M52.24 125.23h.01M58.85 144.88h.01M51.75 132.98h.01M53.84 137.58h.01M57.24 136.37h.01M55.37 122.27h.01M52.42 119.62h.01M61.17 148.31h.01M56.69 145.75h.01M62.1 144.2h.01M47 133.88h.01M43.79 128.41h.01M48.45 135.66h.01M55.31 127.37h.01M52.48 138.23h.01M53.01 134.1h.01M43.57 131.74h.01M56.99 138.02h.01M47.43 133.24h.01M54.77 126.92h.01M56.49 128.47h.01M52.26 134.7h.01M63 132.79h.01M51.25 142.12h.01M51.67 137.41h.01M44.18 138.35h.01M53.56 124.06h.01M59.34 133.52h.01M52.82 123.84h.01M46.82 130.55h.01M47.25 140.08h.01M57.29 129.95h.01M46.88 132.11h.01M49.19 137.16h.01M54.39 131.82h.01M53.95 145.01h.01M60.79 130.95h.01M56.67 133.5h.01M49.19 147.18h.01M55.28 136.9h.01M55.12 134.17h.01M49.21 151.61h.01M57.41 138h.01M57.68 147.2h.01M52.79 140.91h.01M52.26 141.43h.01M52.13 140.27h.01M55.57 132.61h.01M57.56 134.87h.01M51.9 135.64h.01M50.47 146.39h.01M56.25 144.46h.01M47.95 138.06h.01M50.4 136.4h.01M58.98 137.94h.01M52.89 145.71h.01M57.87 152.26h.01M45.81 138.57h.01M51.88 127.76h.01M54.11 125.16h.01M44.25 127.51h.01M52.53 152.43h.01M50.6 125.11h.01M45.32 132.46h.01M52.62 136.96h.01M47.55 128.77h.01M44.1 137.14h.01M47.04 110.91h.01M58.5 140.18h.01M55.1 138.78h.01M49.28 145.29h.01M49.23 152.83h.01M54.58 119.03h.01M57.28 153.39h.01M52.56 145.23h.01M52.74 129.99h.01M42.79 146.76h.01M51.76 139.06h.01M48.87 127.46h.01M58.33 132.17h.01M51.95 124.3h.01M54.52 142.66h.01M51.7 133.96h.01M48.51 148.29h.01M51.04 134.26h.01M60.72 133.62h.01M47.12 127.32h.01M52.14 151.75h.01M54.59 133.65h.01M57.14 147.46h.01M50.46 148.64h.01M57.28 139.76h.01M43.69 137.48h.01M59.55 133.24h.01M63.42 136.39h.01M49.38 141.1h.01M54.92 143.28h.01M52.74 147.54h.01M51.33 136.94h.01M48.41 128.51h.01M54.55 129.81h.01M51.79 133.89h.01M54.76 142.72h.01M56.94 145.06h.01M54.56 130.83h.01M46.98 132.63h.01M50.33 119.29h.01M60.69 119.07h.01M55.21 140.84h.01M53.79 128.83h.01M61.18 128.52h.01M47.61 126.64h.01M50.98 136.21h.01M55.14 121.94h.01M50.67 134.6h.01M56.67 146.79h.01M50.86 127.02h.01M49.41 145.8h.01M57.54 116.05h.01M44.59 124.51h.01M47.32 139.54h.01M54.64 153.69h.01M57.09 136.91h.01M58.74 127.65h.01M47.75 136.1h.01M57.71 121.01h.01M57.52 143.65h.01M51.57 137.35h.01M52.54 136.54h.01M57.15 128.46h.01M58.14 143.76h.01M57.58 117.8h.01M45.77 142.13h.01M51.21 129.49h.01M50.45 123.53h.01M52.48 129.19h.01M50.91 140.18h.01M48.66 146.08h.01M47.9 141.13h.01M57.6 135.76h.01M56.88 134.81h.01M46.18 138.95h.01M58.59 130.75h.01M46.45 130.28h.01M55.09 138.56h.01M58.43 140.9h.01M55.87 117.46h.01M63.23 136.25h.01M57.39 132.62h.01M53.06 136.35h.01M60.45 149.71h.01M56.35 154.01h.01M52.02 140.57h.01M51.77 147.71h.01M53.88 144.81h.01M61.11 116.82h.01M63.03 138.78h.01M52.36 118.26h.01M52.44 114.73h.01M54.11 134.3h.01M61.56 132.86h.01M58.34 146.6h.01M62.6 133.6h.01M57.01 121.9h.01M48.99 133.38h.01M53.65 124.71h.01M51.98 142.36h.01M51.79 134.48h.01M49.93 148.65h.01M61.42 137.81h.01M53.27 151.28h.01M55.83 129.75h.01M47.96 130.5h.01M63.22 130.47h.01M66.21 135.92h.01M52.84 148.15h.01M52.72 139.45h.01M49.3 124.47h.01M50.6 138.01h.01M50.92 117.83h.01M55.83 134.44h.01M52.58 130.3h.01M44.08 150.64h.01M51.72 140.84h.01M59.79 146.4h.01M54.66 136.06h.01M55.11 144.35h.01M56.29 131.85h.01M55.73 139.47h.01M56.79 137.88h.01M59.7 137.84h.01M57.62 136.39h.01M51.32 127.25h.01M53.11 140.94h.01M59.26 135.16h.01M51.55 131.29h.01M59.36 136.97h.01M51.64 142.82h.01M48.1 137.07h.01M53.61 134.75h.01M48.82 145.06h.01M61.04 123.77h.01M54.31 141.95h.01M63.52 132.15h.01M49.71 135.95h.01M62.47 136.64h.01M54.94 152.38h.01M44.6 116h.01M57.71 143.15h.01M47.83 140.77h.01M53.98 138h.01M50.33 131.82h.01M50.02 136.47h.01M52.8 151.53h.01M56.5 121.47h.01M55.59 149.22h.01" stroke="#000" stroke-opacity="0.21" stroke-width="1.12" stroke-linecap="round"/><path d="M135.42 52.59h.01M134.95 52.1h.01M133.61 52.21h.01M132.95 52.86h.01M132.75 48.49h.01M135.79 50.98h.01M135.17 51.75h.01M134.96 50.07h.01M135.31 51.65h.01M135.73 53.75h.01M133.91 51.29h.01M135.83 50.63h.01M133.22 50.47h.01M136.58 50.85h.01M135.91 50.26h.01M135.66 50.33h.01M133.75 51.34h.01M135.08 53.09h.01M132.58 51.85h.01M137.4 52.95h.01M134.43 50.33h.01M134.26 51.59h.01M135.28 51.65h.01M135.89 49.83h.01M133.32 49.63h.01M133 51.07h.01M135.46 54.45h.01M135.79 51.22h.01M137.11 50.26h.01M135.5 52.45h.01M136.17 51.72h.01M134.48 49.61h.01M134.77 50.44h.01M136.02 51.03h.01M135.84 49.14h.01M136.45 50.11h.01M132.68 49.44h.01M134.07 52.64h.01M136.06 49.7h.01M135.13 51.07h.01M132.67 49.93h.01M131.97 50.09h.01M131.06 50.18h.01M133.61 50.18h.01M133.78 52.68h.01M134.48 51.51h.01M136.12 52.35h.01M136.01 50.49h.01M133.37 50.2h.01M134.3 51.21h.01M134.87 52.6h.01M134.85 53.49h.01M136.53 50.58h.01M136.28 47.52h.01M137.04 51.73h.01M135.59 49.05h.01M138.74 50.87h.01M134.79 52.64h.01M134.71 50.11h.01M135.98 49.9h.01M136.1 51.38h.01M136.67 49.65h.01M136.85 51.58h.01M137.93 50.37h.01M137.75 52.1h.01M136.17 50.27h.01M135.83 52.06h.01M133.77 49.72h.01M133.85 53.07h.01M135.23 52.4h.01M135.43 51.35h.01M135.33 50.67h.01M136.81 51.42h.01M135.33 49.43h.01M135.46 50.34h.01M134.26 52.52h.01M133.38 50.94h.01M135.93 52.67h.01M134.23 51.61h.01M135.42 49.76h.01M131.83 48.74h.01M135.89 51.33h.01M133.01 50.38h.01M134.41 50.74h.01M134.95 54.02h.01M133.84 51.38h.01M133.86 50.4h.01M133.69 50.9h.01M134.18 51.65h.01M135.31 50.06h.01M137.84 49.71h.01M135.53 53.97h.01M133.94 52.89h.01M137.1 51.63h.01M132.26 53.01h.01M135.14 50.5h.01M136.89 50.27h.01M136.58 50.5h.01M135.79 49.82h.01M134.41 50.03h.01M133.94 51.44h.01M134.75 51.44h.01M136.9 51.05h.01M132.24 50.83h.01M135.12 52.5h.01M136.53 52.41h.01M134.66 52.02h.01M132.86 52.85h.01M135.65 51.85h.01M134.44 51.27h.01M134.01 51.92h.01M133.03 52.44h.01M135.8 53.78h.01M134.94 51.08h.01M135.29 51.25h.01M134.84 49.79h.01M133.36 50.48h.01M134.57 49.68h.01M133.28 50.84h.01M136.1 50.96h.01M136 52.44h.01M136.14 50.66h.01M134.4 48.82h.01M133.99 51.8h.01M133.39 52.93h.01M137.12 50.73h.01M136.37 49.39h.01M133.45 50.72h.01M135.01 50.96h.01M133.72 53.71h.01M135.43 51.57h.01M136.01 51.42h.01M134.66 50.49h.01M132.58 53.11h.01M133.64 49.08h.01M133.8 49.16h.01M137.95 51.67h.01M137.09 53.06h.01M135.84 51.93h.01M133.93 51.09h.01M134.11 51.25h.01M133.96 52.82h.01M136.13 51.06h.01M132.53 52.07h.01M136.31 51.11h.01M133.13 51.75h.01M136.55 48.75h.01M135.84 48.88h.01M135.12 53.43h.01M135.14 51.81h.01M134.52 51.19h.01M138.48 52.9h.01M134.54 50.71h.01M135.03 54h.01M135.31 52.62h.01M134.46 49.58h.01M136.96 51.1h.01M133.84 50.32h.01M134.01 50.43h.01M132.72 52.73h.01M135.56 52.44h.01M134.49 51.64h.01M135.25 52.7h.01M136.2 51.66h.01M134.04 49.67h.01M133.82 50.39h.01M134.2 49.63h.01M137.45 51.54h.01M132.03 49.81h.01M133.02 51.5h.01M136.57 49.95h.01M135.91 50.85h.01M136.69 52.94h.01M135.46 52.11h.01M135 50.73h.01M133.29 51.62h.01M134.9 50.71h.01M134.89 50.96h.01M133.47 50.53h.01M136.68 50.9h.01M137.05 49.74h.01M133.01 51.36h.01M136.14 50.37h.01M135.92 52.38h.01M136.58 51.06h.01M134.92 49.11h.01M135.03 51.56h.01M137.08 49.59h.01M133.76 49.93h.01M136.32 48h.01M133.41 53.81h.01M135.96 49.52h.01M134.91 52.27h.01M135.81 50.92h.01M133.84 52.25h.01M134.99 52.22h.01M135.58 50.61h.01M137.11 50.57h.01M135.63 50.4h.01M134.66 50.88h.01M134.03 51.5h.01M136.92 53.55h.01M137.1 50.98h.01M137.13 51.73h.01M137.63 49.61h.01M137.17 50.44h.01M136.69 50.61h.01M136.34 50.85h.01M132.25 49.98h.01M134.65 51.23h.01M131.73 49.69h.01M133.93 50.93h.01M135.32 50.17h.01M132.78 51.58h.01M134.51 52.32h.01M134.23 52.01h.01M133.7 51.54h.01M135.13 51.77h.01M133.64 51.05h.01M133.76 51h.01M135.91 54.96h.01M135.05 52.1h.01M135.17 52.63h.01M135.68 52.52h.01M135.52 54.22h.01M137.01 49.06h.01M135.44 51.3h.01M131.79 50.12h.01M134.33 50.28h.01M135.19 48.95h.01M136.09 52.18h.01M135.52 50.79h.01M135.01 50.62h.01M136.67 51.84h.01M137.91 50.74h.01M137.12 50.48h.01M134.76 49.9h.01M135.77 51.13h.01M135.91 53.08h.01M134.93 51.68h.01M136.32 51.13h.01M134.21 51.66h.01M135.74 52.19h.01M136.22 50.37h.01M135.66 52.75h.01M134.33 51.66h.01M134.11 51.42h.01M137.54 51.43h.01M133.61 51.64h.01M135.32 52.61h.01M133.01 50.06h.01M134.9 49.26h.01M136.66 48.67h.01M133.8 49.36h.01M134.06 52.21h.01M135.89 52.37h.01M135.89 48.66h.01M135.45 48.9h.01M134.28 50.72h.01M134.22 51.83h.01M133.83 53.38h.01M135.88 52.69h.01M136.11 52.33h.01M134.95 53.67h.01M133.48 51.79h.01M135.02 50.93h.01M135.47 50.27h.01M136.27 52.19h.01M135.15 52.13h.01M133.5 48.94h.01M134.17 50.91h.01M138.63 50.92h.01M136.51 52.27h.01M138.08 51.36h.01M135.96 50.97h.01M133.76 49.95h.01M133.87 53h.01M135.43 51.02h.01M135.04 50.5h.01M134.96 51.16h.01M135.96 52.35h.01M132.64 51.5h.01M137.01 49.93h.01M134.65 51.42h.01M136.61 51.96h.01M134.7 51.84h.01M136.52 51.7h.01M137.71 51.74h.01M133.49 50.23h.01M134.82 50.95h.01M135.92 51.66h.01M137.51 52.23h.01M137.17 50.26h.01M134.4 52.07h.01M135.15 52h.01M135.38 50.44h.01M137.49 52.65h.01M132.76 50.45h.01M135.05 52.07h.01M134.92 49.52h.01M136.23 50.96h.01M136.77 51.6h.01M136.48 52.27h.01M136.31 50.59h.01M136.52 51.48h.01M133.22 50.73h.01M134.54 51.81h.01M136.02 49.83h.01M136.08 51.14h.01M133.5 52.27h.01M133.93 49.74h.01M136.13 52.35h.01M134.08 52.55h.01M136.49 50.58h.01M137.93 51.16h.01M135.36 48.25h.01M135.96 50.46h.01M135.67 49.1h.01M136.71 53.05h.01M137.77 47.55h.01M135.89 51.67h.01M130.67 50.32h.01M134.92 53.01h.01M133.84 51.5h.01M134.96 51.7h.01M134.47 52.36h.01M136.46 49.55h.01M136.67 50.31h.01M134.66 52.65h.01M135.2 51.97h.01M136.2 52h.01M134.28 50.07h.01M136.05 52.2h.01M135.58 51.02h.01M136.31 51.22h.01M133.09 51.61h.01M135.8 52.23h.01M133.78 50.33h.01M135.55 50.71h.01M134.98 52.44h.01M135.65 53.54h.01M135.5 53.4h.01M136.62 54.45h.01M135.11 51.17h.01M136.98 50.64h.01M134.43 51.59h.01M135.65 49.54h.01M135.48 50.91h.01M135.07 51.52h.01M134.84 52.63h.01M135.82 51.07h.01M135.23 52.6h.01M136.26 52.89h.01M134.93 51.48h.01M138.03 51.27h.01M137.56 52.37h.01M134.52 49.58h.01M136.06 50.45h.01M134.12 49.17h.01M136.85 51.45h.01M135.18 51.82h.01M135.5 51.45h.01M135.89 50.99h.01M131.43 52.25h.01M135.76 51.36h.01M137.44 49.6h.01M130.98 53.18h.01M135.75 49.29h.01M134.56 52.1h.01M133.4 52.02h.01M138.2 53.06h.01M135.11 51.73h.01M133.79 51.49h.01M134.67 50.1h.01M133.22 53.73h.01M135.28 50.06h.01M134.54 53.18h.01M137.48 50.57h.01M135.43 52.44h.01M134.65 49.87h.01" stroke="#000" stroke-opacity="0.95" stroke-width="1.12" stroke-linecap="round"/><path d="M132.45 51.34h.01M133.11 47.45h.01M134.87 54.08h.01M137.88 50.63h.01M141.89 48.97h.01M135.39 47.24h.01M138.19 50.93h.01M130.13 48.84h.01M141.52 53.45h.01M136 53.88h.01M130.4 48.84h.01M131.28 48.83h.01M134.37 52.87h.01M138.92 54.21h.01M144.42 49.82h.01M135.56 52.8h.01M132.91 50.43h.01M136.95 48.66h.01M137.16 54.93h.01M131.96 44.48h.01M135.88 48.18h.01M136.17 49.94h.01M136.6 54.64h.01M138.28 50.21h.01M131.77 43.87h.01M128.47 48.89h.01M135.9 49.23h.01M133.61 46.47h.01M130.14 46.08h.01M137.56 45.3h.01M137.72 48.49h.01M137.24 51.87h.01M137.93 54.68h.01M132.87 48.22h.01M133.98 48.8h.01M137.56 50.74h.01M135.39 52.3h.01M133.81 54.33h.01M129.32 51.74h.01M136.98 48.75h.01M133.06 53.72h.01M134.28 45.29h.01M130.9 54.02h.01M132.43 54.92h.01M139.81 50.41h.01M137.09 48.54h.01M133.98 48.92h.01M137.23 47.17h.01M134.87 51.15h.01M136.99 44.66h.01M129.42 48.36h.01M134.55 51.4h.01M135.91 57h.01M137.43 52.73h.01M133.67 53.31h.01M137.54 52.97h.01M134.9 52.83h.01M140.27 48.59h.01M128.18 53.41h.01M137.67 50.27h.01M133.8 59.18h.01M133.73 47.33h.01M133.69 52.45h.01M133.25 49.8h.01M136.25 49.68h.01M135.67 50.83h.01M131.77 51.17h.01M131.44 53.73h.01M132.19 50.24h.01M129.29 49.62h.01M131.15 55.39h.01M134.84 52.5h.01M129.51 47.25h.01M134.68 46.9h.01M138.97 49.74h.01M135.72 51.84h.01M134.74 53.24h.01M133.03 52.02h.01M139.14 51.56h.01M135.63 49.94h.01M135.41 52.93h.01M134.42 45.94h.01M135.76 50.48h.01M136.75 51.04h.01M140.35 47.36h.01M132.06 52.86h.01M131.87 51.89h.01M135.16 45.11h.01M137.38 54.97h.01M135.89 46.78h.01M137.77 47.84h.01M134.82 52.14h.01M132.68 45.92h.01M134.75 50.79h.01M132.43 48.61h.01M137.6 50.64h.01M133.68 49.15h.01M135.75 51.18h.01M134.64 46.82h.01M134 49.06h.01M135.41 54.3h.01M138.26 52.79h.01M135.55 49.95h.01M136.27 49.51h.01M134.09 48.44h.01M135.01 50.67h.01M141.12 52.52h.01M133.97 53.16h.01M133.67 53.85h.01M137.69 59.35h.01M131.71 50.68h.01M134.82 51.76h.01M137.47 48.05h.01M132.86 51.78h.01M138.29 47.63h.01M130.22 54.23h.01M137.88 54.06h.01M132.08 50.32h.01M135.91 52.18h.01M134.81 50.75h.01M138.42 49.64h.01M133.44 49.65h.01M133.56 51.28h.01M134.52 49.63h.01M139.71 51.77h.01M134.11 54.55h.01M133.44 50.89h.01M134.89 49.24h.01M133.97 51.14h.01M130.64 49.77h.01M135.98 51.69h.01M136.13 57.63h.01M137.29 50.48h.01M134.8 50.89h.01M136.56 50.04h.01M139.95 47.73h.01M137.18 52.34h.01M131.58 52.7h.01M136.94 49.06h.01M142.47 52.93h.01M134.15 49.53h.01M132.84 51.63h.01M135.38 46.86h.01M131.91 48.85h.01M133.91 49.86h.01M133.08 52.72h.01M138.16 51.1h.01M128.29 50.44h.01M136.94 50.66h.01M136.03 51.18h.01M130.49 43.67h.01M137.12 49.4h.01M136.48 50.02h.01M134.64 54.79h.01M131.42 50.86h.01M131.75 51.09h.01M136.67 52.74h.01M135.64 46.95h.01M135.94 53.43h.01M138.29 56.99h.01M136.94 47.98h.01M133.54 51.13h.01M138.45 47.63h.01M138.04 52.74h.01M132.45 52.62h.01M132.78 50.87h.01M134.22 51.56h.01M131.48 52.38h.01M128.37 49.73h.01M133.4 55.37h.01M136.85 49.5h.01M132.37 50.98h.01M133.2 57.25h.01M126.48 51.07h.01M127.48 53.84h.01M132.66 55.45h.01M133.47 53.97h.01M135.81 54.25h.01M135.25 42.42h.01M132.91 46.45h.01M138.14 52.42h.01M135.19 52.18h.01M135.79 49.26h.01M141.3 51.57h.01M134.57 46.71h.01M133.23 50.92h.01M134.62 49.53h.01M135.02 47.69h.01M135.2 46.48h.01M132.48 48.78h.01M137.9 52.28h.01M135.41 47.61h.01M133.92 53.17h.01M139.1 46.69h.01M133.83 51.2h.01M136.27 50.91h.01M137.28 46.77h.01M140.06 47.63h.01M135.37 52.39h.01M138.84 53.48h.01M137.93 54.55h.01M134.72 53.04h.01M140.03 48.75h.01M130.81 48.04h.01M139.64 54.46h.01M134.08 51.62h.01M136.7 53.92h.01M129.3 49.33h.01M134.4 51.84h.01M135.46 50.02h.01M136.13 43.58h.01M144.9 53.28h.01M138.01 49.05h.01M136.54 56.82h.01M140.96 51.15h.01M131.33 51.41h.01M134.29 53.38h.01M131.21 50.4h.01M136.09 49.61h.01M138.57 47.69h.01M131.35 49.94h.01M137.86 50.08h.01M133.38 53.26h.01M135.95 49.44h.01M135.63 50.26h.01M137.17 51.36h.01M132.72 49.58h.01M133.93 52.01h.01M136.43 48.56h.01M134.64 51.83h.01M138.71 51.67h.01M141.4 51.02h.01M137.56 50.01h.01M132.1 51.25h.01M136.77 51.88h.01M135.7 49.99h.01M132.65 50.08h.01M136.72 53.69h.01M124.84 52.7h.01M138.66 54.57h.01M136.45 52.87h.01M133.83 50.69h.01M136.9 47.8h.01M132.74 51.51h.01M131.02 51.1h.01M130.55 51.5h.01M135.33 49.33h.01M132.26 49.49h.01M128.16 49.8h.01M135.61 54.41h.01M133.63 50.44h.01M139.63 55.94h.01M133.7 53.96h.01M138.96 52.43h.01M132.12 48.24h.01M137.06 57.65h.01M134.67 55.45h.01M141.23 47.35h.01M133.34 55.29h.01M138.33 52.52h.01M135.2 52.76h.01M133.24 58.15h.01M131.59 45.77h.01M135.71 55.1h.01M133.68 50.79h.01M132 50.73h.01M132.02 48.06h.01M130.57 49.36h.01M141.14 50.78h.01M135.85 57.38h.01M133.23 48.07h.01M136.89 47.39h.01M136.29 54.27h.01M131.81 49.44h.01M140.62 47.89h.01M133.08 51.63h.01M134.23 48.48h.01M140.31 49.27h.01M136.29 49.76h.01M134.51 46.98h.01M138.18 49.7h.01M139.28 47.58h.01M133.7 52.32h.01M135.58 49.05h.01M134.8 47.2h.01M135.41 43.29h.01M135.78 54.86h.01M138.07 53.4h.01M133.9 52.36h.01M133.96 50.68h.01M134.92 41.22h.01M138.17 52.26h.01M137.91 48.2h.01M137.44 52.33h.01M128.14 45.85h.01M135.4 49.02h.01M135.18 49.09h.01M139.99 45.45h.01M130.91 48.12h.01M130.9 49.27h.01M135.14 47.07h.01M136.39 54.73h.01M138.71 56.74h.01M138.84 50.86h.01M140.9 52.99h.01M141.2 50.39h.01M128.57 47.58h.01M135.82 52.54h.01M134.6 53.85h.01M131.6 48.93h.01M138.4 51.12h.01M135.57 55.04h.01M138.75 48.68h.01M135.91 46.06h.01M135.24 52.11h.01M129.77 55.49h.01M141.63 52.42h.01M138.22 55.32h.01M134.74 54h.01M136.51 46.57h.01M132.43 49.36h.01M138.7 51.28h.01M138.43 49.64h.01M131.24 56.96h.01M143.96 52.11h.01M134.67 54.44h.01M131.79 50.4h.01M130.75 52.4h.01M136.09 49.84h.01M133.24 46.62h.01M132.68 54.56h.01M134.19 54.64h.01M132.55 50.77h.01M133.85 50.25h.01M137.75 45.07h.01M137.66 53.01h.01M135.32 51.23h.01M134.61 53.01h.01M135.49 48.56h.01M135.79 53.76h.01M136.48 51.09h.01M135.96 49.58h.01M133.85 45.57h.01M134.73 53.85h.01M134.07 48.4h.01M138.15 51.48h.01M135.76 52.37h.01M137.52 50.88h.01M132.67 56.02h.01M135.49 48.79h.01M135.89 54.44h.01M130.83 54.77h.01M134.88 56.74h.01M137.42 50.71h.01M139.27 54.67h.01M134.2 51.68h.01M133.68 53.65h.01M130.87 50.5h.01M128.59 52.7h.01M128.29 47.98h.01" stroke="#000" stroke-opacity="0.48" stroke-width="1.12" stroke-linecap="round"/><path d="M135.16 15.59h.01M137.72 36.72h.01M139.72 25.59h.01M141.82 32.74h.01M136.84 41.98h.01M139.34 45.42h.01M137.22 39.08h.01M140.8 21.84h.01M138.65 26.43h.01M138.66 3.07h.01M135.63 6.38h.01M137.25 21.84h.01M137.24 17.04h.01M129.27 25.49h.01M140.11 3.25h.01M138 43.8h.01M137.52 23.71h.01M137.15 10.01h.01M138.09 30.5h.01M138.61 27.81h.01M134.84 33.42h.01M138.33 45.54h.01M138.3 21.92h.01M138.09 3h.01M134.41 11.63h.01M137.68 20.54h.01M134.9 13.85h.01M138.87 23.95h.01M141.22 30.17h.01M140.14 25.53h.01M137.19 5.3h.01M136.7 4.08h.01M136.64 4.2h.01M138.87 32.45h.01M136.4 20.47h.01M136.72 26.7h.01M131.92 20.19h.01M135.95 32.7h.01M136.11 45.6h.01M136.71 29.37h.01M140.97 11.84h.01M134.72 34.22h.01M134.79 12.19h.01M139.48 32.6h.01M135.63 27.68h.01M137.62 3.5h.01M138.44 11.11h.01M138.05 12.75h.01M136.13 19.24h.01M140.25 41.02h.01M141.66 33.54h.01M135.58 23.63h.01M137.35 20.44h.01M140.3 4.29h.01M137.51 12.36h.01M135.58 40.83h.01M136.97 19.24h.01M140.04 14.79h.01M135.6 43.44h.01M138.63 12.55h.01M138.94 37.42h.01M136.43 19.4h.01M139.39 18.7h.01M139.64 17.36h.01M140.44 14.61h.01M140.28 14.33h.01M134.39 15.12h.01M140.19 22.99h.01M139.43 22.06h.01M140.39 3.83h.01M135.95 19.95h.01M140.21 38.24h.01M138.92 35.37h.01M135.2 8.44h.01M141.11 11.92h.01M136.12 30.05h.01M135.55 30.03h.01M138.98 5.16h.01M136.55 16.37h.01M138.89 24.97h.01M137.42 32.32h.01M138.7 27.19h.01M140 30.65h.01M137.94 41.12h.01M140.13 40.68h.01M140.08 11.63h.01M135.99 40.33h.01M140.1 12.09h.01M139.52 3.15h.01M138.35 36.58h.01M140.73 41.99h.01M142.04 7.46h.01M139.87 35.36h.01M134.46 6.47h.01M139.1 42.35h.01M137.71 22.94h.01M137.37 23.96h.01M138.86 42.15h.01M137.23 16.07h.01M141.98 26.25h.01M138.7 7.34h.01M138.08 10.61h.01M139.93 25.99h.01M139.97 40.26h.01M140.9 18.95h.01M139.57 3.24h.01M137.95 13h.01M138.36 24.39h.01M132.8 5.75h.01M134.48 9.17h.01M140.55 12.67h.01M137.24 39.24h.01M142.43 21.35h.01M142.4 8.97h.01M135 26.11h.01M138.79 27.73h.01M145.03 29.52h.01M136.13 34.77h.01M138.99 27.38h.01M137.48 5.24h.01M137.45 28.56h.01M137.36 29.04h.01M138 24.62h.01M139.89 9.21h.01M136.09 11.86h.01M139.26 29.96h.01M136.33 36.13h.01M139.31 6.14h.01M138.81 35.72h.01M136.16 22.39h.01M138.38 30.03h.01M136.26 36.79h.01M135.99 6.61h.01M140.87 34.36h.01M133.63 34.97h.01M139.4 23.12h.01M139.76 14.08h.01M136.61 27.7h.01M140.68 28.24h.01M140.25 20.34h.01M134.9 25.61h.01M139.31 34.68h.01M139.18 37.07h.01M136.25 43.62h.01M139.44 44.87h.01M139.86 4.01h.01M136.3 41.91h.01M133.21 40.92h.01M139.02 45.89h.01M136.24 37.06h.01M133.87 43.72h.01M137.11 45.19h.01M132.27 8.77h.01M137.22 8.18h.01M141.68 27.13h.01M131.13 42.38h.01M139.15 25.87h.01M135.8 24.8h.01M137.04 39.86h.01M135.83 28.14h.01M139.59 38.45h.01M138.02 28.96h.01M136.15 25.26h.01M134.87 24.41h.01M137.01 37.17h.01M140.84 8.29h.01M135.09 17.57h.01M139.05 7.18h.01M138.86 31.33h.01M133.18 20.41h.01M140.72 41.48h.01M137.95 17.67h.01M143.47 42.46h.01M142.27 16.4h.01M137.44 43.57h.01M137.67 41.63h.01M135.6 15.43h.01M134.7 25.87h.01M139.98 6.2h.01M137.43 29.71h.01M137.06 32.19h.01M137.63 22.8h.01M139.7 21.56h.01M140.34 24.24h.01M138.05 36.91h.01M137.57 11.59h.01M138.3 38.91h.01M143.09 33.83h.01M132.98 20.07h.01M135.22 44.88h.01M139.2 28.08h.01M138.41 24.94h.01M141.05 25.79h.01M141.25 17.73h.01M142.88 25.69h.01M136.1 7.02h.01M139.55 29.06h.01M137.47 17.62h.01M140.42 31.4h.01M138.51 28.97h.01M140.22 45.68h.01M136.24 34.74h.01M138.46 3.34h.01M136.8 8.16h.01M137.42 24.3h.01M136.94 26.22h.01M135.53 23.48h.01M140.79 34.5h.01M138.78 43.16h.01M140.73 5.67h.01M135.62 29.96h.01M133.27 15.42h.01M136.48 19.79h.01M137.69 44.05h.01M139.99 5.89h.01M140.65 11.82h.01M141.05 24.67h.01M141.83 35.16h.01M139.85 43.92h.01M138.33 44.83h.01M136.19 42.9h.01M139.74 36.44h.01M136.83 22.37h.01M136.09 15.24h.01M139.5 40.1h.01M138.6 35.15h.01M140.16 33.54h.01M136.31 36.17h.01M140.93 42.41h.01M138.94 26.49h.01M137.65 13.98h.01M136.21 3.51h.01M135.42 13.33h.01M134.72 31.22h.01M141.5 18.86h.01M134.58 11.46h.01M139.61 8.7h.01M137.46 4.49h.01M136.65 27.54h.01M136.9 31.28h.01" stroke="#000" stroke-opacity="0.38" stroke-width="1.12" stroke-linecap="round"/><path d="M137.37 14.11h.01M138.6 10.11h.01M141.03 5.66h.01M134.62 15.07h.01M134.75 13.39h.01M139.28 11.21h.01M139.34 3.97h.01M135.27 9.25h.01M137.54 9.73h.01M138.41 6.85h.01M133.57 11.9h.01M137.12 13.7h.01M141.42 10.46h.01M138.63 6.15h.01M139.24 11.6h.01M138.01 14.14h.01M135.43 12.59h.01M138.4 17.12h.01M134.17 9.7h.01M141.63 8.3h.01M136.73 17.98h.01M142.22 10.61h.01M136.21 7.47h.01M136.8 6.36h.01M136.03 10.86h.01M137.61 12.2h.01M137.59 4.75h.01M138.92 11.18h.01M136.45 8.89h.01M138.14 10.44h.01M137.3 13.47h.01M139.52 8.7h.01M137.5 5.19h.01M137.22 12.19h.01M139.15 10.83h.01M137.37 6.92h.01M137.94 5.27h.01M137.77 10.17h.01M135.85 11.53h.01M137.14 12.73h.01M136.63 12.21h.01M140.45 10.87h.01M139 7.25h.01M137.25 5.1h.01M135.93 10.44h.01M136.76 21.38h.01M139 10.78h.01M132.4 6.01h.01M138.5 11.11h.01M138.38 14.29h.01M137.71 13.82h.01M134.19 21.09h.01M136.97 7.22h.01M140.32 12.73h.01M139.34 7.34h.01M138.05 13.19h.01M135.41 9.1h.01M137.07 8.78h.01M136.22 4.51h.01M138.32 11.13h.01M139.67 9.75h.01M136.27 3.67h.01M137.68 8.68h.01M141.27 20.15h.01M140.45 6.07h.01M134.92 9.01h.01M135.86 16.3h.01M137.74 8.26h.01M137.49 15.58h.01M135.76 12.19h.01M135.06 9.13h.01M136.29 11.43h.01M137.81 15.32h.01M138.79 7.38h.01M135.06 6.45h.01M136.72 9.03h.01M136.1 14.8h.01M139.25 8.84h.01M136.59 8.99h.01M137.43 9.93h.01M134.51 8.14h.01M134.03 10.19h.01M138.77 5.35h.01M137.82 7.33h.01M136.22 18.67h.01M139.17 12.16h.01" stroke="#000" stroke-opacity="0.48" stroke-width="1.12" stroke-linecap="round"/><path d="M138.83 31.56h.01M139.21 31.67h.01M138.1 30.33h.01M138.89 26.92h.01M142.16 32.59h.01M138.27 26.78h.01M138.37 28.38h.01M138.55 26.66h.01M138.21 30.67h.01M140.15 25.47h.01M139.5 27.99h.01M137.87 29.7h.01M138.43 32.29h.01M140.61 29.73h.01M138.49 35.08h.01M142.44 31.5h.01M139.26 33.08h.01M141.78 29.17h.01M142.34 30.1h.01M141.22 29.19h.01M139.61 29.35h.01M139.55 33.11h.01M138.09 29.74h.01M140.36 29.31h.01M142.71 26.76h.01M143.5 28.82h.01M141.04 34.65h.01M140.34 26.89h.01M138.98 30.68h.01M140.4 33.03h.01M141.28 34.29h.01M138 33.06h.01M136.75 30.89h.01M137.81 25.93h.01M140.96 30.43h.01M141.07 26.43h.01M137.57 30.25h.01M138.45 30.69h.01M138.51 29.63h.01M137.69 33.81h.01M139 27.46h.01M140.58 31.75h.01M139.85 31.08h.01M138.88 30.17h.01M135.99 26.49h.01M137.55 31.24h.01M141.44 30.08h.01M139.08 33.41h.01M138.92 32.2h.01M140.19 27.08h.01M140 31.03h.01M137.68 27.83h.01M137.48 34.05h.01M142.86 32.33h.01M142 27.02h.01M141.74 35.6h.01M142.07 28.07h.01M141.23 30.21h.01M141.21 28.85h.01M139.52 29.03h.01M140.26 30.24h.01M141.28 32.64h.01M140.17 30.41h.01M139.02 30.52h.01M140.7 30.84h.01M139.97 30.41h.01M139.38 28.79h.01M136.51 31.99h.01M140.4 27.99h.01M142.55 27.48h.01" stroke="#000" stroke-opacity="0.53" stroke-width="1.12" stroke-linecap="round"/><path d="M124.16 31.43h.01M121.04 22.7h.01M123.77 33.24h.01M115.99 38h.01M115.48 23.29h.01M113.02 40h.01M120.04 27.98h.01M116.53 26.32h.01M116.3 30.14h.01M118.41 47.87h.01M119.82 46.46h.01M122.01 29.05h.01M123.63 20.94h.01M115.33 22.94h.01M118.92 33.58h.01M124.03 20.77h.01M116.82 40.64h.01M119.65 37.97h.01M118.35 32.39h.01M121.99 24.5h.01M121.74 48.67h.01M117.79 31.04h.01M116.19 27.4h.01M120.56 49.55h.01M124.21 42.52h.01M117.82 36.26h.01M119 30.52h.01M115.96 44.25h.01M123.65 41.06h.01M113.65 46.53h.01" stroke="#000" stroke-opacity="0.24" stroke-width="1.12" stroke-linecap="round"/><path d="M159.25 25.33h.01M146.14 30.8h.01M154.29 67.31h.01M157.14 62.01h.01M133.77 63.35h.01M147.72 26.83h.01M155.01 60.5h.01M153.38 35.24h.01M151.42 41.84h.01M142.16 45.85h.01M155.55 50.92h.01M143.2 24.77h.01M136.71 27.19h.01M141.66 11.11h.01M154.21 59.54h.01M129.61 32.44h.01M127.4 65.4h.01M129.09 20.19h.01M131.39 43.83h.01M134.66 67.8h.01M131.52 48.42h.01M127.6 61.21h.01M135.9 63.63h.01M146.93 37.73h.01M151.53 14.84h.01M142.61 43.89h.01M157.58 45.4h.01M128.43 23.9h.01M156.04 14.92h.01M128.59 25.63h.01M146.8 53.71h.01M133.76 23.68h.01M150.68 54.69h.01M151.66 26.57h.01M153.87 55.18h.01M136.73 42.6h.01M132.21 64.11h.01M152.09 17.71h.01M149.67 53.08h.01M142 32.16h.01M141.26 16.38h.01M143.54 13.83h.01M158.52 19.05h.01M131.18 47.15h.01M146.65 58.23h.01M155.32 22.74h.01M130.36 25.07h.01M151.52 10.95h.01M154.02 37.41h.01M135.2 10.17h.01" stroke="#000" stroke-opacity="0.21" stroke-width="1.12" stroke-linecap="round"/><path d="M143.51 47.07h.01M148.25 44.14h.01M145.14 42.79h.01M143.48 47.26h.01M147.03 44.35h.01M141.01 45.04h.01M146.91 49.27h.01M147.45 48.23h.01M144.89 46.84h.01M142.7 45.24h.01M142.79 52.99h.01M148.2 51.71h.01M146.73 49.04h.01M148.79 45.49h.01M142.53 56.12h.01M144.36 43.83h.01M147.26 48.88h.01M145.69 45.72h.01M144.87 55.06h.01M142.06 51.63h.01M148.54 58.38h.01M142.7 54h.01M146.76 53.6h.01M145.83 43.42h.01M147.26 42.21h.01M147.17 53.53h.01M144.69 56.12h.01M145.3 57.51h.01M141.63 59.8h.01M147.01 57.78h.01" stroke="#000" stroke-opacity="0.29" stroke-width="1.12" stroke-linecap="round"/><path d="M134.5 131.67h.01M138 140.09h.01M133.38 131.43h.01M137.8 134.07h.01M135.76 128.64h.01M134.19 140.05h.01M134.19 135.33h.01M139.18 139.99h.01M138.52 138.94h.01M139.46 130.47h.01M134.28 129.56h.01M140.85 137.67h.01M135.47 133.16h.01M134.55 125.28h.01M141.08 136.71h.01M136.38 130.88h.01M134.88 137.32h.01M134.67 138.18h.01M132.92 136.76h.01M137.2 138.43h.01M136.33 135.77h.01M132.39 137.52h.01M134.91 132.34h.01M138.31 130.47h.01M133.34 138.53h.01M137.96 135.05h.01M135.09 137.97h.01M135.62 133.13h.01M136.29 136.77h.01M134.81 140.07h.01M136.37 134.44h.01M134.41 143.11h.01M133.62 134.67h.01M133 136.88h.01M131.76 137.01h.01M137.74 133.5h.01M134.1 130.16h.01M136.14 131.91h.01M133.96 134.15h.01M132.97 138.68h.01M140.78 128.96h.01M133.04 136.5h.01M132.95 133.53h.01M134.9 141.13h.01M138.48 135.45h.01M135.86 134.71h.01M135.62 131.62h.01M131 133.81h.01M137.28 139.21h.01M130.64 134.4h.01M133.49 136.73h.01M131.87 138.79h.01M134.38 137.98h.01M138.82 129.32h.01M133.73 141.38h.01M134.65 139.78h.01M136.7 134.36h.01M135.31 139.94h.01M137.63 141.85h.01M131.91 138.48h.01M131.86 134.87h.01M134.34 138.17h.01M135.27 140.67h.01M133.17 138.76h.01M136.29 136.17h.01M131.85 137.5h.01M135.58 139h.01M135.36 135.04h.01M135.98 137.85h.01M135.8 143.19h.01M132.39 142.99h.01M127.1 138.1h.01M131.88 142.89h.01M132.32 139.43h.01M133.52 131.41h.01M136.77 139.52h.01M131.92 144.4h.01M133.44 141.52h.01M133.34 132.02h.01M136.19 132.35h.01M137.88 128.4h.01M136.12 134.03h.01M132.7 136.31h.01M135.02 134.25h.01M137.17 137.44h.01M135.39 140.99h.01M134.56 139h.01M133.83 138h.01M137 134.25h.01M132.28 130.64h.01M132.53 137.57h.01M135.15 134.85h.01M136.03 138.86h.01M139.24 134.48h.01M136.23 138.81h.01M132.79 136h.01M133.11 134.75h.01M137.49 130.02h.01M133.61 132.66h.01M136.02 133.36h.01M136.81 133.06h.01M133.58 137.94h.01M136 136.69h.01M134.54 139.6h.01M139.04 135.28h.01M134.14 131.89h.01M140.3 133.55h.01M131.75 136.35h.01M138.78 132.01h.01M135.92 130.74h.01M132.45 141.56h.01M135.89 135.13h.01M135.29 137.05h.01M135.82 131.65h.01M130.97 142.72h.01M132.56 139.97h.01M132.61 140.37h.01M137.21 135.55h.01M141.02 133.54h.01M135.27 132.78h.01M133.56 134.32h.01M133.08 134.37h.01M140.46 130.43h.01M132.73 131.97h.01M133.45 139.43h.01M136.81 138.06h.01M134.24 144.75h.01M133.19 131.31h.01M135.1 136.73h.01M135.25 132.84h.01M132.15 134.39h.01M133.82 133.93h.01M131.67 140.34h.01M135.23 142.9h.01M133.95 135.97h.01M134.65 135.96h.01M134.76 135.28h.01M130.47 134.1h.01M138.34 129.27h.01M134.04 137.9h.01M138.57 136.27h.01M135.3 142.55h.01M138.89 134.96h.01M133.09 139.4h.01M136.22 134.14h.01M134.5 137.03h.01M134.96 134.98h.01M135.68 130.49h.01M138.9 141.21h.01M139.23 136.21h.01M135.24 138.14h.01M138.58 129.77h.01M136.85 132.55h.01M135.55 133.57h.01M139.27 138.73h.01M134.31 141.02h.01M135.59 133.34h.01M135.07 134.59h.01M134.87 139.06h.01M135.04 135.71h.01M137.68 137.51h.01M137.62 136.92h.01M132.73 131.34h.01M130.34 139.34h.01M136.66 134.48h.01M132.55 136.84h.01M134.75 137.09h.01M133.89 131.61h.01M139.91 133.29h.01M134.36 140.81h.01M130.19 137.68h.01M135.57 135.51h.01M136.76 131.84h.01M128.42 141.79h.01M133.99 139.08h.01M137.92 137.55h.01M135.99 138.78h.01M138.97 138.5h.01M138.69 135.53h.01M134.17 136.11h.01M135.96 138.12h.01M139.68 139.93h.01M134.16 143.2h.01M135.9 137.45h.01M136.77 135.04h.01M132.45 135.98h.01M135.09 132.75h.01M135.74 135.35h.01M134.97 129.34h.01M133.73 142.26h.01M136.84 140.31h.01M134.56 139.8h.01M133.9 134.05h.01M137.55 131.11h.01M135.25 137.12h.01M140.03 134.27h.01M136.8 133.86h.01M135.69 126.05h.01M132.18 139.72h.01M136.51 136.82h.01M141.19 139.1h.01M132.31 134.71h.01M134.11 141.77h.01M132.75 137.12h.01M138.31 133.55h.01M136.85 128.82h.01M137 128.13h.01M133.21 142.03h.01M136.31 136.39h.01M134.28 143.85h.01M136.03 140.02h.01M134.49 134.26h.01M132.78 134.91h.01M132.9 139.25h.01M137.01 135.89h.01M135.83 125.36h.01M133.61 136.85h.01M139 125.22h.01M129.13 135.49h.01M132.84 134.76h.01M133.73 137.92h.01M130.98 133.12h.01M137.56 137.2h.01M132.92 137.27h.01M136.61 132.95h.01M136.61 138.77h.01M134.36 139.35h.01M131.85 138.24h.01M135.44 132.56h.01M133.04 139.95h.01M134.13 134.52h.01M134.17 132.87h.01M136.29 144.43h.01M138.36 138.46h.01M137.45 135.13h.01M134.83 131.57h.01M139.17 135.47h.01M133.92 133.4h.01M136.15 134.14h.01M135.25 136.63h.01M139.51 132.18h.01M136.52 133.66h.01M133.17 141.66h.01M137.15 134.92h.01M136.57 136.18h.01M138.44 134.79h.01M136.68 135.51h.01M135.44 135.49h.01M133.68 136.13h.01M138.19 134.31h.01M134.1 137.18h.01M132.84 138.82h.01M138.6 128.11h.01M134.37 131.85h.01M136.79 139.79h.01M132.74 133.02h.01M135.36 134.67h.01M136.49 139.89h.01M136.1 140.23h.01M137.73 136.22h.01M134.71 133.19h.01M136.8 139.62h.01M138.1 135.34h.01M134.16 136.82h.01M138.25 137.9h.01M136.43 133.19h.01M136.09 138.18h.01M131.78 141.92h.01M132.4 138.96h.01M134.7 136.54h.01M133.71 133.67h.01M137.22 135.68h.01M133.88 139.08h.01M137.01 136.98h.01M134.79 142.34h.01M134.65 137.38h.01M137.31 131.23h.01M130.37 135.63h.01M137.38 137.18h.01M134.41 133.47h.01M137.57 135.36h.01M130.83 137.76h.01M135.68 137.53h.01M137.09 141.28h.01M136.85 135.69h.01M129.8 136.15h.01M134.09 140.72h.01M138.23 138.35h.01M138.82 136.42h.01M135.77 133h.01M134.41 136.67h.01M138.47 133.91h.01M135.82 144.81h.01M132.11 134.51h.01M134.72 139.67h.01M139.53 141.39h.01M135.79 132.99h.01M135.21 135.89h.01M136.52 132.96h.01M139.64 134.16h.01M136.9 137.13h.01M132.52 135.79h.01M135.5 135.39h.01M137.67 134.72h.01M141 141.27h.01M134.64 126.69h.01M138.32 137.52h.01M136.16 132.58h.01M132.9 128.69h.01M140.75 142.98h.01M132.7 142.53h.01M130.18 137.7h.01M137.66 133.27h.01M134.85 132.07h.01M134.56 140.78h.01M137.56 137.99h.01M139.31 130.11h.01M140.46 136.78h.01M132.23 134.04h.01M133.6 136.06h.01M137.64 127.75h.01M137.37 142.84h.01M131.71 140.87h.01M137.84 140.26h.01M140.36 131.75h.01M137.82 132.7h.01M141.97 133.6h.01M131.45 139.51h.01M136.87 136.4h.01M135.25 138.3h.01M140.17 134.23h.01M134.26 133.66h.01M135.11 136.02h.01M131.83 136.51h.01M132.29 134.3h.01M134.83 135.01h.01M138 142.64h.01M137.01 142.26h.01M133.64 140.99h.01M135.02 136.81h.01M136.88 131.28h.01M133.85 135.14h.01M136.32 135.72h.01M133.89 131.4h.01M136.11 131.71h.01M132.36 135.08h.01M136.31 133.07h.01M130.56 136.22h.01M137.66 134.9h.01M135.88 127.37h.01M138.33 132.44h.01M137.53 134.19h.01M135.06 135.25h.01M128.88 145.17h.01M131.23 135.67h.01M133.38 134.76h.01M140.06 129.86h.01M134.61 137.73h.01M135.35 137.5h.01M134.47 129.68h.01M132.22 133.9h.01M137.15 136.64h.01M139.34 137.11h.01M135.66 136.82h.01M130.49 137.29h.01M132.71 134.1h.01M142.11 132.59h.01M135.41 137.12h.01M135.63 136.07h.01M132.55 142.99h.01M130.85 131.33h.01M138.73 138.69h.01M133.94 132.37h.01M132.91 145.49h.01M137.25 132.48h.01M136.32 133.83h.01M138.94 137.77h.01M138.42 137.17h.01M140.24 138.45h.01M136.69 132.42h.01M133.96 137.22h.01M132.38 144.82h.01M135.78 133.22h.01M138.18 134.53h.01M136.4 135.85h.01M132.54 140.72h.01M134.81 140h.01M135.38 130.65h.01M132.46 133.53h.01M134.79 136.12h.01M137.44 131.72h.01M136.69 131.67h.01M131.85 145.02h.01M138.8 135.27h.01M138.95 142h.01M136.6 141.76h.01M134.75 135.43h.01M132.71 137.72h.01M132.43 133.58h.01M136.81 134.38h.01M134.98 142.8h.01M131.85 140.65h.01M134.17 132.28h.01M135.2 139.85h.01M133.96 133.02h.01M134.65 133.17h.01M136.25 133.49h.01M134.41 137.17h.01M133.47 140.01h.01M134.08 132.88h.01M139.52 142.43h.01M134.93 139.06h.01M136.51 134.3h.01M136.83 137.42h.01M139.8 129.89h.01M137.25 136.98h.01M133.83 134.12h.01M135.14 131h.01M133.31 138.58h.01M131.67 133.93h.01M129.63 132.8h.01M136.33 136h.01M136.15 131.95h.01M137.36 132.98h.01M137.48 137.19h.01M133.33 141.23h.01M133.61 139.55h.01M135.57 136.05h.01M137.57 138.06h.01M135.36 135.57h.01M135.79 136.41h.01M135.15 132.08h.01M128.75 134.39h.01M133.88 140.31h.01M135.69 140.37h.01M139.81 136.42h.01M132.61 138.59h.01M133.95 134.8h.01M138.62 138.69h.01M139 131.61h.01M134.65 140.1h.01M131.89 136.13h.01M137.86 127.8h.01M139.86 134.16h.01M133.84 142.06h.01M130.42 136.87h.01M134.13 135.96h.01M132.31 140.6h.01M132.2 136.81h.01M136.75 135.93h.01M134.78 134.92h.01M137.62 138.14h.01M135.82 132h.01M135.36 138.03h.01M134.27 141.23h.01M128.77 144.2h.01M135.59 131.78h.01M130.27 138.36h.01M136.92 135.49h.01M135.07 136.61h.01M133.46 140.02h.01M136.99 135.87h.01M130.21 140.25h.01M134.77 132.03h.01M138.28 138.44h.01M131.26 129.03h.01M135.13 131.26h.01M133.18 145.48h.01M142.97 137.26h.01M136.77 139.64h.01M135.99 130.6h.01M138.18 135.89h.01M136.01 138.82h.01M132.13 141.8h.01M135.36 136.89h.01M133.74 138.42h.01M138.28 134.48h.01M137.1 134.73h.01M132.38 134.26h.01M136.51 138.34h.01M138.53 134.09h.01M134.49 136.16h.01M136.99 135.91h.01M133.91 129.95h.01M137.63 140.49h.01M132.63 141.13h.01M134.86 137.68h.01M138.88 134.89h.01M134.49 129.35h.01M135.81 137.84h.01M137.14 138.67h.01M134.83 140.3h.01M132.44 137h.01M136.73 135.86h.01M139.47 138.47h.01M138.19 139.97h.01M133.58 143.05h.01M138.17 136.65h.01M135.71 132.23h.01M135.1 135.13h.01M136.15 134.62h.01M136.85 136.03h.01M131.61 133.48h.01M133.87 130.99h.01M134.07 139.29h.01M133.79 128.22h.01M132.93 146.92h.01M133.64 136.79h.01M133.71 139.02h.01M139.14 136.17h.01M139.09 132.67h.01M136.72 131.54h.01M136.23 133.93h.01M136.7 132.1h.01M135.86 136.61h.01M134.41 132.88h.01M132.56 134.08h.01M136.46 135.79h.01M134.9 140.8h.01M134.32 137.02h.01M137.13 138.36h.01M136.28 136.57h.01M140.35 136.72h.01M133.96 138.08h.01M138.61 142.04h.01M134.88 139.16h.01M136.58 136.61h.01M136.61 138.67h.01M134.56 142.47h.01M133.45 141.02h.01M139.33 144.81h.01M136.17 135.57h.01M131.29 135.15h.01M142.66 131.52h.01M130.82 138.44h.01M138.15 129.73h.01M134.97 137.32h.01M130.82 138.91h.01M131.19 139.62h.01M136.33 133.65h.01M131.45 134.11h.01M135.19 135.59h.01M133.96 135.06h.01M138.19 133.19h.01M134.5 137.68h.01M134.72 139.25h.01M139.57 135.53h.01M137.85 125.47h.01M134.01 138.38h.01M131.58 140.43h.01M129.61 140.14h.01M134.69 132.12h.01M134.27 134.89h.01M133.65 130.57h.01M133.36 139.3h.01M135.49 141.17h.01M134.01 134.49h.01M134.38 136.44h.01M135.35 142.71h.01M137.03 137h.01M139.33 133.84h.01M131.52 137.89h.01M135.68 136.58h.01M137.94 135.28h.01M134.79 137.4h.01M136.34 139.96h.01M135.45 137.08h.01M128.31 139.4h.01M131.33 135.16h.01M142.05 136.04h.01M130.19 141.2h.01M134.01 135.19h.01M134.41 138.66h.01M137.4 135.96h.01M138.77 133.27h.01M137.47 134.09h.01M137.56 133.93h.01M133.21 141.22h.01M133.22 131.23h.01M136.97 135.32h.01M134.31 135.31h.01M141.44 133.25h.01M134.51 136.51h.01M132.93 135.46h.01M137.16 132.93h.01M138.93 132.38h.01M134.72 137.18h.01M144.62 131.13h.01M134.36 145.34h.01M133.06 139.71h.01M136.81 130.91h.01M136.91 132.96h.01M136.52 130.59h.01M138.78 127.56h.01M134.02 140.62h.01M136.86 134.98h.01M134.99 134.35h.01M142.3 137.08h.01M135.76 133.33h.01M133.68 138.01h.01" stroke="#000" stroke-opacity="0.67" stroke-width="1.12" stroke-linecap="round"/><path d="M135.35 126.75h.01M135.05 129.23h.01M137.61 129.01h.01M136.68 127.33h.01M140.53 132.83h.01M135.14 132.86h.01M138.06 123.02h.01M134.1 140.29h.01M136.9 138.19h.01M135.89 123.04h.01M132.7 138.31h.01M134.04 126.55h.01M140.46 130.9h.01M135.42 133.42h.01M137.12 129.92h.01M138.12 127.82h.01M135.64 135.01h.01M133.2 129.63h.01M131.87 134.75h.01M137.52 137h.01M138.82 137.72h.01M139.74 127.79h.01M140.61 127.21h.01M143.96 134.63h.01M139.82 125.25h.01M138.79 138.55h.01M131.88 127.43h.01M135.65 127.69h.01M138.74 144.1h.01M131.8 136.43h.01M134.13 138.71h.01M128.81 127.5h.01M141.38 128.22h.01M141.02 129.54h.01M139.65 135.41h.01M135.93 127.09h.01M134.66 137.62h.01M137.2 127.9h.01M149.29 125.22h.01M135.15 134.25h.01M133.02 130.71h.01M136.71 123.21h.01M139.26 125.64h.01M132.63 137.62h.01M132.1 133.98h.01M139.35 137.63h.01M138.31 130.52h.01M131.65 131.3h.01M138.53 129.01h.01M132.25 135.48h.01M132.48 133.13h.01M136.72 122.03h.01M141.2 135.83h.01M139.84 124.17h.01M135.74 132.85h.01M132.18 139.82h.01M128.96 133.84h.01M131.87 121.66h.01M131.56 133.59h.01M134.8 127.24h.01M135.03 122.73h.01M134.52 125.37h.01M135.77 129.01h.01M129.11 126.13h.01M140.97 129.48h.01M136.93 127.23h.01M134.17 130.27h.01M132.04 129.29h.01M130.43 131.75h.01M130.37 133.5h.01M141.48 122.95h.01M139.02 129.25h.01M140.77 128.89h.01M135.68 129.19h.01M142.61 121.34h.01M138.74 131.94h.01M134.92 129.3h.01M138.49 135.99h.01M142.63 128.58h.01M130.57 126.63h.01M136.11 128.39h.01M137.85 144h.01M139.49 121.52h.01M140.44 128.1h.01M135.49 135.43h.01M137.57 130.75h.01M136.39 135.15h.01M136.09 142.45h.01M127.14 124.62h.01M133.41 134.91h.01M136.07 135.59h.01M131.74 128.71h.01M138.47 131.01h.01M134.63 132.05h.01M144.06 120.6h.01M141.25 133.42h.01M132.69 133.82h.01M135.07 137.39h.01M132.52 135.52h.01M132.89 131.95h.01M138.67 130.88h.01M139.04 128.07h.01M140.35 128.85h.01M134.04 129.75h.01M137 126.3h.01M139.05 130.72h.01M139.91 123.21h.01M132.17 128.53h.01M133.1 129.47h.01M136.91 137.24h.01M140.3 136.08h.01M133.31 133.34h.01M133.93 133.42h.01M131.28 137.4h.01M137.95 129.6h.01M131.42 131.46h.01M134.24 131.86h.01M134.48 127.46h.01M136.72 139.26h.01M132.27 128.97h.01M137.74 130.31h.01M132.44 142.24h.01M133.08 132.25h.01M134.75 130.03h.01M127.68 134.12h.01M136.62 125.53h.01M142.12 130.51h.01M135.15 125.91h.01M139.8 131.76h.01M136.69 123.54h.01M132.89 132.14h.01M138.4 120.02h.01M133.11 131.52h.01M146.04 128.64h.01M128.03 133.51h.01M136.12 123.44h.01M138.4 130.01h.01M134.5 123.16h.01M135.77 131.27h.01M129.27 135h.01M130.51 137.58h.01M137.58 130.1h.01M138.04 127.92h.01M134.26 139.72h.01M133.48 134.91h.01M133.3 130.18h.01M140.8 125.06h.01M139.74 119.52h.01M132.91 127.86h.01M138.43 135.35h.01M133.37 129.56h.01M138.6 122.58h.01M136.21 138.46h.01M141.06 128.54h.01M135.94 125.57h.01M134.9 129.21h.01M138.46 131.79h.01M132.29 134.68h.01M139.88 128.19h.01M135.56 130.17h.01M130.65 130.51h.01M136.39 141.84h.01M137.23 129.49h.01M135.12 134.09h.01M139.87 126.81h.01M136.21 134.56h.01M128.09 136.94h.01M134.62 135.46h.01M136.4 129.56h.01M135.72 132.42h.01M139.47 130.08h.01M133.32 126.4h.01M132.2 134.36h.01M131.43 138.48h.01M136.82 130.55h.01M141.04 129.84h.01M134.46 134.95h.01M139.85 126.08h.01M143.87 135.68h.01M132.31 129.17h.01M139.15 132.78h.01M136.57 144.31h.01M137.22 142.44h.01M139.31 127.87h.01M142.12 128.26h.01M138.79 135.19h.01M134.27 126.67h.01M135.31 133.1h.01M140.7 132.39h.01M141.73 137.1h.01M134.9 127.37h.01M137.22 128.41h.01M135.23 135.3h.01M136.19 136.63h.01M135.04 126.1h.01M133.68 120.68h.01M134.83 131.31h.01M135.73 131.15h.01M144.41 126.77h.01M136.05 128.46h.01M131.91 137.96h.01M134.95 138.03h.01M130.62 140.66h.01M144.93 128.15h.01M136.54 130.62h.01M139.72 124.7h.01M137.2 135.57h.01M136.92 118.73h.01M134.61 128.76h.01M139.67 128.53h.01M131.94 133.91h.01M136.88 135.57h.01M135.45 137.09h.01M140.11 122.09h.01M136.27 135.67h.01M134.98 139.28h.01M134.18 134.84h.01M132.36 130.55h.01M135.72 125.62h.01M131.86 131.71h.01M138.58 128.26h.01M133.29 125.83h.01M140.31 125.42h.01M142.08 123.17h.01M136.66 135.18h.01M141 129.91h.01M135.47 123.22h.01M139.64 131.33h.01M135.39 128.84h.01M137.28 131.76h.01M142.75 120.61h.01M139.86 129.12h.01M136.55 129.67h.01M135.36 135.44h.01M138.79 123.8h.01M136.36 130.86h.01M137.67 131.91h.01M135.09 136.91h.01M130.47 142.46h.01M135.73 125.49h.01" stroke="#000" stroke-opacity="0.4" stroke-width="1.12" stroke-linecap="round"/><path d="M138.4 110.15h.01M140.34 93.85h.01M139.53 120.63h.01M136.35 106.24h.01M141.22 91.19h.01M138.07 117.28h.01M141.02 113.81h.01M136.42 108.07h.01M140.11 104.94h.01M142.16 116.27h.01M137.03 125.09h.01M138.06 108.02h.01M140.61 122.27h.01M140.33 109.74h.01M139.86 98.63h.01M138.53 115.71h.01M134.51 118.31h.01M138.85 94.53h.01M135.26 97.74h.01M139.1 94.19h.01M132.34 91.34h.01M142.86 102.13h.01M144.15 107.72h.01M140.09 110.87h.01M136.49 107.84h.01M138.01 119.76h.01M141.32 96.36h.01M140.68 124.42h.01M136.91 117.26h.01M142.19 91.84h.01M140.86 92.06h.01M140.34 93.93h.01M137.87 112.11h.01M138.84 110.32h.01M136.87 99.21h.01M139.37 114.29h.01M137.01 102.22h.01M142.1 118.38h.01M138.95 116.35h.01M139.43 98.43h.01M139.76 92.51h.01M139.73 112.09h.01M134.88 93.05h.01M142.39 110.47h.01M139.11 114.07h.01M137.31 95.38h.01M136.14 117.7h.01M136.94 104.45h.01M137.13 112.67h.01M138.87 108.63h.01M136.44 115.69h.01M139.14 107.75h.01M139.23 108.79h.01M136.91 106.94h.01M144.96 95.69h.01M138.5 112.69h.01M139.76 90.86h.01M139.13 105.03h.01M138.38 118.01h.01M140.69 120.82h.01M142.64 120.39h.01M138.61 116.7h.01M136.43 124.89h.01M140.32 125.6h.01M132.83 104.5h.01M139.24 114.29h.01M138.28 95.64h.01M139.7 112.68h.01M134.6 101.86h.01M137.58 121.48h.01M135.94 94.85h.01M137.28 95.84h.01M140.4 113.22h.01M138.22 110.13h.01M137.11 112.37h.01M142.04 111.39h.01M138.79 91.67h.01M133.14 111.54h.01M135.85 105.8h.01M139.87 97.07h.01M139.94 119.74h.01M139.34 116.44h.01M139.44 113.57h.01M136.22 104.91h.01M138.44 95.72h.01M135.41 90.01h.01M136.38 121.33h.01M136.16 106.91h.01M136.36 107.43h.01M137.73 100.62h.01M138.04 105.03h.01M136.44 112.53h.01M141.64 105.91h.01M137.39 119.52h.01M142.89 96.92h.01M141.4 94.42h.01M135.28 120.71h.01M141.07 97.12h.01M134.75 101.09h.01M142.61 116.59h.01M139.51 91.04h.01M135.85 108.69h.01M132.54 101.61h.01M137.48 123.76h.01M134.84 108.96h.01M141.59 108.52h.01M135.12 113.2h.01M137.92 118.81h.01M139.9 100.51h.01M138.57 90.88h.01M139.26 111.21h.01M137.85 106.09h.01M140.52 97.62h.01M135.95 115.89h.01M140.09 116.44h.01M135.2 125.27h.01M139 124.08h.01M135.37 98.46h.01M137.95 103.85h.01M140.13 116.88h.01M141.92 90.66h.01M133.53 119.62h.01M136.38 113.61h.01M135.81 101.08h.01M141.84 121.62h.01M136.1 106.78h.01M140.43 98.55h.01M137.07 119.22h.01M134.51 122.97h.01M138.79 95.25h.01M135.34 124.05h.01M140.5 96.05h.01M140.77 114.72h.01M142.16 107.69h.01M135.68 121.37h.01M142.82 125.68h.01M141.15 93.65h.01M133.52 106.39h.01M144.59 121.13h.01M143.13 104.58h.01M135.61 96.19h.01M139.38 107.41h.01M134.76 91.58h.01M138.1 96.39h.01M138.98 120.71h.01M140.18 120.06h.01M136.19 119h.01M138.39 92.16h.01M135.89 113.48h.01M139.53 106.33h.01M140.3 114.02h.01M138.67 102.25h.01M141.64 100.65h.01M140.56 123.39h.01M139.49 114.84h.01M141.68 112.75h.01M135.03 108.4h.01M138.37 100.66h.01M133.56 105.84h.01M138.42 122.07h.01M137.17 120.6h.01M140.75 93.59h.01M137.24 118.32h.01M136.7 114.11h.01M138.2 113.55h.01M138.1 101.53h.01M139.89 123.83h.01M136.05 110.35h.01M134.32 120.38h.01M134.06 92.99h.01" stroke="#000" stroke-opacity="0.32" stroke-width="1.12" stroke-linecap="round"/><path d="M115.82 109.72h.01M117.95 125.93h.01M116.88 116.75h.01M117.31 111.43h.01M116.96 116.48h.01M117.81 117.96h.01M117.21 124.25h.01M117.79 110.73h.01M116.66 118.49h.01M117.45 124.59h.01M118.27 125.72h.01M118.18 110.47h.01M117.02 115.39h.01M117.41 123.15h.01M117.01 114.79h.01M117.21 122.19h.01M117.31 113.04h.01M118.26 114.45h.01M117.76 108.72h.01M118.45 121.79h.01M118.51 113.75h.01M116.3 109h.01M117.55 113.03h.01M116.95 111.14h.01M116.03 115.6h.01M116.45 128.95h.01M116.9 128.13h.01M118.62 126.29h.01M117.37 125.41h.01M117.16 127.82h.01M117.28 110.89h.01M116.71 118.46h.01M117.44 125.07h.01M117.23 128.62h.01M116.02 121.05h.01M116.88 110.11h.01M119.95 115h.01M117.8 111.33h.01M117.23 124.62h.01M117.83 125.5h.01M116.54 116.11h.01M117.38 107.02h.01M117.99 128.23h.01M116.04 127.24h.01M116.73 128.38h.01" stroke="#000" stroke-opacity="0.27" stroke-width="1.12" stroke-linecap="round"/><path d="M115.33 101.06h.01M115.34 114.47h.01M115.28 127.74h.01M108.67 133.54h.01M114.3 123.41h.01M123.76 111.4h.01M119.56 103.74h.01M114.35 107.04h.01M121.93 106.68h.01M112.66 123.59h.01M115.07 128.02h.01M112.92 101.14h.01M114.93 114.54h.01M110.37 127.59h.01M117.74 125.01h.01" stroke="#000" stroke-opacity="0.19" stroke-width="1.12" stroke-linecap="round"/><path d="M130.58 136.16h.01M145.94 147.95h.01M157.85 100.31h.01M155.3 127.12h.01M134.82 145.8h.01M154.75 119.92h.01M159.47 148.99h.01M157.83 144.34h.01M155.66 107.75h.01M130.98 119.2h.01M141.35 109.47h.01M148.73 138.36h.01M155.66 93.29h.01M154.41 131.29h.01M140.64 90.27h.01M138.74 93.36h.01M150.1 136.69h.01M136.11 102.78h.01M140.88 124.21h.01M155.14 144.75h.01M136.26 100.62h.01M155 113.64h.01M128.9 136.66h.01M129.86 126.93h.01M139.01 127.53h.01M149.43 101.52h.01M134.36 121.5h.01M158.73 140.37h.01M146.74 121.57h.01M129.6 128.38h.01M134.76 131.91h.01M155.37 111.95h.01M130.71 120.97h.01M127.81 111.38h.01M135.16 106.57h.01M127.92 94.51h.01M133.65 143.22h.01M143.16 110.59h.01M154.39 132.71h.01M142.1 102.37h.01M145.32 125.77h.01M130.79 134.53h.01M138.4 131.85h.01M148.47 118.55h.01M142.9 149.25h.01M158 99.14h.01M140.8 134.59h.01M157.48 97.28h.01M133.93 120.11h.01M149.38 90.37h.01" stroke="#000" stroke-opacity="0.21" stroke-width="1.12" stroke-linecap="round"/><path d="M204.04 50.54h.01M204.47 50.31h.01M202.22 49.3h.01M204.54 51.85h.01M202.76 52.22h.01M203.29 50.92h.01M202.16 50.46h.01M203.53 51.26h.01M202.95 52.11h.01M204.69 50.19h.01M203.79 49.43h.01M203.8 50.02h.01M203.31 51.23h.01M203.23 52.16h.01M202.77 50.56h.01M203.73 51.02h.01M203.66 50.83h.01M202.74 51.76h.01M203.51 52.01h.01M204.6 50.68h.01M202.8 50.57h.01M202.88 48.95h.01M204.87 51.49h.01M205.47 50.46h.01M203.96 51.35h.01M203.39 52.1h.01M203.45 50.98h.01M203.59 48.69h.01M202.83 50.28h.01M204.88 51.68h.01M204.13 51.73h.01M203.28 52.81h.01M203.27 49.56h.01M204 52.31h.01M203.54 51.45h.01M204.28 52.69h.01M203.96 52.85h.01M203.7 53.29h.01M202.26 52.07h.01M203.7 51.19h.01M202.35 52.2h.01M203.29 50.02h.01M202.91 50.82h.01M203.54 50.11h.01M202.66 51.51h.01M203.39 53.15h.01M203.09 51.86h.01M204.96 50.86h.01M204.31 51.39h.01M203.5 52.77h.01M202.6 50.43h.01M201.92 50.94h.01M204.31 50.8h.01M204.17 50.27h.01M204.44 50.95h.01M203.04 52.8h.01M203.45 51.67h.01M203.56 51.81h.01M203.56 49.8h.01M203.7 51.57h.01M203.79 50.83h.01M205.02 50.3h.01M203.56 51.29h.01M202.52 49.81h.01M204.03 51.78h.01M203.57 49.37h.01M203.2 51.32h.01M203.99 52.32h.01M203.85 52.08h.01M204.89 48.6h.01M204.31 50.6h.01M203.87 51.29h.01M202.57 50.11h.01M203.83 50.87h.01M204.08 50.66h.01M205.3 50.79h.01M205.24 50.26h.01M203.93 52.25h.01M202.32 50.04h.01M203.8 52.27h.01M204.63 51.65h.01M204.35 49.83h.01M203.08 52.58h.01M202.97 50.81h.01M201.95 50.86h.01M202.08 51.44h.01M204.72 51.39h.01M203.59 50.64h.01M203.92 49.89h.01M203.05 53.33h.01M202.32 50.46h.01M202.24 52.35h.01M203.24 49.71h.01M202.36 52.22h.01M204.02 51.89h.01M203.39 52h.01M204.57 51.75h.01M202.06 48.97h.01M202.17 51.32h.01M202.14 49.9h.01M203.46 50.11h.01M202.33 52.05h.01M203.85 51.86h.01M204.22 52.55h.01M203.39 50.83h.01M201.9 50.77h.01M202.9 52.12h.01M204 52.57h.01M204.36 52.27h.01M203.87 51.16h.01M203.08 50.99h.01M202.59 51.42h.01M203.34 48.86h.01M201.07 50.24h.01M203 50.69h.01M204.52 50.34h.01M202.3 51.4h.01M204.26 52.74h.01M202.52 50.73h.01M203.03 52.59h.01M204 51.02h.01M204.02 50.62h.01M203.22 50.96h.01M202.96 50.73h.01M203.7 51.25h.01M204.67 51.9h.01M203.33 48.68h.01M202.12 50.46h.01M203.06 49.61h.01M203.06 51.1h.01M202.84 50.83h.01M203.3 50.24h.01M202.64 50.84h.01M203.61 49.88h.01M201.62 49.97h.01M203.81 49.28h.01M204.17 50.36h.01M203.49 50.16h.01M203.88 51.02h.01M203.69 48.93h.01M203.99 49.2h.01M203.09 51.51h.01M203.21 51.49h.01M203.52 51.06h.01M202.68 52.02h.01M204.33 50.4h.01M202.6 51.18h.01M202.72 51.11h.01M204.07 51.66h.01M204.63 51.45h.01M202.48 50.07h.01M203.83 52.95h.01M203.07 50.01h.01M204.56 50.83h.01M203.96 52.09h.01M202.53 50.59h.01M202.89 51.51h.01M203.92 50.44h.01M203.84 49.1h.01M203.66 51.32h.01M203.37 49.45h.01M203.28 49.85h.01M204.6 50.66h.01M203.19 50.84h.01M203.82 51.04h.01M203.82 50h.01M204.3 50.45h.01M204.01 51.2h.01M204.27 50.88h.01M202.12 49.77h.01M203.17 52.39h.01M203.01 51.02h.01M204.43 50.38h.01M203.63 51.25h.01M202.86 51.2h.01M204.25 52.04h.01M203.08 53.97h.01M203.66 50.67h.01M202.76 49.94h.01M204.06 47.98h.01M203.24 49.54h.01M203.22 50.92h.01M202.26 49.94h.01M204.44 50.39h.01M203.36 50.63h.01M204.07 52.22h.01M204.14 51.53h.01M203.84 49.73h.01M204.47 50.38h.01M202.61 50.57h.01M202.69 51.38h.01M203.98 52.28h.01M203.29 50.34h.01M203.13 49.75h.01M202.74 53.02h.01M202.71 50.48h.01M203.9 51.22h.01M204.01 50.06h.01M202.46 52.32h.01M202.79 50.86h.01M203.55 49.05h.01M203.2 50.29h.01M203.81 50.64h.01M201.46 51.77h.01M201.21 50.53h.01M202.78 50.33h.01M203.35 51.94h.01M202.63 50.32h.01M203.99 51.48h.01M203.97 51.3h.01M203.16 50.45h.01M202.96 51.89h.01M204.63 53h.01M202.49 50.71h.01M203.37 50.79h.01M202.41 53.21h.01M204.64 50.79h.01M202.98 50.95h.01M202.34 50.61h.01M204.02 52.67h.01M204.12 52.3h.01M202.47 47.6h.01M204.54 51.15h.01M203.3 52.69h.01M202.55 49.97h.01M202.74 52.64h.01M204.17 49.11h.01M204.78 50.97h.01M203.73 50.16h.01M204.97 51.42h.01M204.49 49.92h.01M203.96 51.05h.01M203.18 50.11h.01M202.77 49.74h.01M202.8 50.93h.01M203.86 49.33h.01M202.48 50.32h.01M201.97 50.66h.01M203.14 50.76h.01M203.72 51.94h.01M204.05 51.25h.01M203.87 50.13h.01M202.56 51.63h.01M203.85 53.25h.01M203.17 49.93h.01M203.62 50.49h.01M202.6 52.39h.01M205.02 51.35h.01M202.81 51.23h.01M203.32 49.51h.01M204.08 51.32h.01M204.44 50.38h.01M203.35 50.84h.01M201.89 53.59h.01M201.58 49.76h.01M203.06 49.32h.01M203.73 50.48h.01M203.44 51.21h.01M203.44 51.07h.01M203.24 51.42h.01" stroke="#000" stroke-opacity="0.95" stroke-width="1.12" stroke-linecap="round"/><path d="M204.08 49.18h.01M205.45 51.35h.01M202.79 54.38h.01M205.31 52.38h.01M204.22 53.79h.01M201.45 50.59h.01M205.5 48.54h.01M204.7 49.23h.01M205.08 52.83h.01M204.52 48.51h.01M204.63 48.7h.01M203.36 53.75h.01M203.73 54.39h.01M201.76 53.28h.01M203.18 48.26h.01M205.94 51.24h.01M201.09 50.45h.01M201.42 52.91h.01M201.7 52.47h.01M201.81 52.48h.01M203.33 54.49h.01M202.2 48.96h.01M201.37 50.13h.01M201.85 53.53h.01M202.86 48.88h.01M203.92 48.61h.01M203.98 54.38h.01M201.6 52.91h.01M201.55 48.81h.01M202.98 47.87h.01M205.48 52.3h.01M205.18 52.49h.01M203.55 48.22h.01M203.78 47.88h.01M203.33 54.36h.01M201.66 52.45h.01M202.81 49.18h.01M201.4 50.33h.01M203.79 48.15h.01M203.83 53.34h.01M201.89 52.3h.01M202.3 53.94h.01M204.71 48.95h.01M202.05 53.73h.01M202.89 47.63h.01M201.53 52.07h.01M204.09 53.59h.01M201.21 48.76h.01M203.9 53.72h.01M205.41 53.11h.01M204.35 49.49h.01M205.02 48.94h.01M201.31 53.55h.01M202.28 53.17h.01M201.25 49.4h.01M201.31 49.11h.01M201.41 49.52h.01M203.39 53.64h.01M204.11 48.61h.01M202.43 53.75h.01M204.78 49.77h.01M205.17 50.63h.01M203.34 53.85h.01M202.05 48.65h.01M202.74 48.55h.01M203.62 54.27h.01M205.4 50.52h.01M201.53 52.08h.01M200.64 51.19h.01M201.91 53.26h.01M201.66 52.61h.01M204.91 52.58h.01M205.36 50.15h.01M204.53 49.85h.01M203.81 48.47h.01M205.68 50.29h.01M205.17 48.77h.01M201.76 48.91h.01M205.92 51.44h.01M205.45 51.03h.01M204.07 47.96h.01M200.8 50.73h.01M200.92 51.45h.01M201.48 48.5h.01M202.64 48.36h.01M201.3 50.61h.01M202.34 53.51h.01M205.25 52.77h.01M201.42 52.71h.01M205.04 53.09h.01M202.13 53.57h.01M204.35 49.58h.01M203.62 48.42h.01M201.21 50.58h.01M202.04 48.32h.01M201.82 52.79h.01M200.85 50.2h.01M205.09 49.49h.01M205.26 50.94h.01M202.74 54.24h.01M202.96 48.55h.01M201.66 53.57h.01M200.19 52.21h.01M201.71 52.74h.01M204.96 54.32h.01M203.94 54.25h.01M205.42 49.4h.01M201.68 50.14h.01M204.32 53.17h.01M206 51.15h.01M203.47 48.45h.01M204 47.81h.01M200.77 50.69h.01M201.73 49.14h.01M204.36 53.47h.01M204.76 53.74h.01M201.31 49.15h.01M202.16 48.6h.01M201.06 53.31h.01M204.31 48.77h.01M203.77 54.12h.01M204.85 54.14h.01M205.06 52.21h.01M205.24 50.65h.01M200.94 50.13h.01M201.25 49.64h.01M201.73 48.74h.01M204.52 52.43h.01M205.66 49.24h.01M205.25 51.02h.01M203.93 53.38h.01M203.36 54.08h.01M204.37 49.11h.01M200.57 50.82h.01M204.05 53.97h.01M205.58 50.46h.01M204.37 48.07h.01M202.45 53.07h.01M201.61 49.26h.01M203.19 48.54h.01M201.62 52.8h.01M201.26 49.48h.01M201.44 53.13h.01M204.66 49.33h.01M203.56 53.37h.01M201.31 52.38h.01M204.88 52.38h.01M201.49 49.38h.01M205.5 52.36h.01M202.26 53.95h.01M203.43 48.4h.01M201.93 50.06h.01M201.93 53.41h.01M201.27 51.79h.01M204.54 53.5h.01M202.84 54.91h.01M205.07 50.22h.01M204.65 53.62h.01M203.54 48.51h.01M203.16 48.44h.01M202.06 48.93h.01M203.59 47.98h.01M204.78 53.11h.01M202.15 53.6h.01M201.77 53.69h.01M204.15 53.88h.01M203.11 54.85h.01M202.7 54.07h.01M206.41 50.27h.01M201.7 52.42h.01M204.07 48.63h.01M203.01 48.1h.01M203.12 48.32h.01M201.56 51.28h.01M200.95 50.99h.01M203.7 53.57h.01M204.54 49.38h.01M200.9 52.79h.01M202.85 47.74h.01M204.32 49.49h.01M200.76 49.98h.01M201.89 52.93h.01M204.33 49.74h.01M204.98 52.99h.01M203.11 48.53h.01M202.27 53.43h.01M202.23 48.31h.01M203.53 53.83h.01M205.2 49.2h.01M201.36 51.43h.01M205.26 53.5h.01M204.67 47.86h.01M202.61 52.9h.01M205.69 52.79h.01M204.7 48.54h.01M205.61 52.86h.01M203.72 53.68h.01M204.41 54.18h.01M201.66 52.62h.01M205.57 51.07h.01" stroke="#000" stroke-opacity="0.8" stroke-width="1.12" stroke-linecap="round"/><path d="M204.78 54.11h.01M203.46 49.52h.01M203.74 52.42h.01M202.18 52.41h.01M201.6 51.93h.01M202.04 56.58h.01M205.45 51.94h.01M200.69 48.21h.01M204.52 50.91h.01M203.77 47.34h.01M200.33 51.57h.01M202.79 47.95h.01M201.67 53.25h.01M202.36 52.72h.01M206.33 52.13h.01M203.43 49.8h.01M205.5 47.67h.01M201.1 51.24h.01M200.39 53.74h.01M202 52.61h.01M202.6 50.65h.01M203.21 46.37h.01M201.12 50.1h.01M207.41 53.32h.01M204.56 48.69h.01M204.88 54.4h.01M204.62 57.84h.01M200.63 48.59h.01M202.69 48.84h.01M203.28 52.58h.01M203.16 51.53h.01M203.96 53.22h.01M201.93 49.61h.01M205.45 50.43h.01M201.6 51.99h.01M202.51 51.58h.01M203.06 52.86h.01M204.92 49.2h.01M200.87 55.27h.01M201.88 47.4h.01M199.58 51.18h.01M201.95 46.69h.01M201.38 48.62h.01M205.07 51.86h.01M203.15 48.09h.01M202.83 52.92h.01M203.48 53.9h.01M203.32 52.99h.01M204.04 49.84h.01M205.71 52.17h.01M204.74 48.6h.01M201.11 50.81h.01M201.64 52.81h.01M203.95 54.33h.01M204.29 48.44h.01M204.97 49.64h.01M201.78 51.42h.01M203.15 53.85h.01M208.54 52.32h.01M205.93 50.73h.01M203.81 49.97h.01M202.37 54.62h.01M204.03 52.37h.01M201.65 55.53h.01M202.83 49.64h.01M203.13 52.94h.01M204.59 54.93h.01M201.16 50.19h.01M206.13 56.94h.01M201.98 51.02h.01M200.24 49.21h.01M201.5 51.01h.01M200.91 53.59h.01M203.07 50.63h.01M204.92 50.6h.01M200.82 51.34h.01M207.29 51.52h.01M204.17 50.78h.01M202.76 52.53h.01M198.16 48.17h.01M202.05 50.6h.01M205.93 57.39h.01M204.37 52.26h.01M204.47 55.03h.01M201.31 50.04h.01M203.47 52.01h.01M199.58 52.34h.01M200.16 53.18h.01M204.78 45.63h.01M204.13 51.76h.01M202 53.64h.01M206.97 52.5h.01M201.1 47.67h.01M200.96 48.73h.01M205.3 51.98h.01M203.12 53.44h.01M203.21 51.35h.01M201.58 49.71h.01M203.23 48.35h.01M206.32 51.57h.01M202.13 53.69h.01M201.17 53.9h.01M203.33 55.95h.01M202.13 50.27h.01M201.57 48.15h.01M203.65 48.62h.01M203.77 49.67h.01M205.17 44.9h.01M203.96 51.38h.01M203.17 49.68h.01M206.48 50.23h.01M203.97 50.6h.01M202.48 51.47h.01M204.44 48.47h.01M202.27 47.74h.01M203.92 49.13h.01M201.75 52.87h.01M203.14 52.26h.01M202.9 52.27h.01M203.33 48.47h.01M203.56 50.39h.01M202.71 51.95h.01M202.12 48.61h.01M205.4 55.83h.01M202.51 54.11h.01M203.89 49.65h.01M201.58 50.55h.01M202.35 50.42h.01M202.93 48.43h.01M204.8 48.43h.01M201.14 53.55h.01M204.6 54.88h.01M203.42 49.64h.01M205.33 51.01h.01M202.93 49.14h.01M203.92 45.35h.01M204.16 46.26h.01M204.82 47.37h.01M204.45 57.42h.01M202.63 48.34h.01M206.85 50.15h.01M201.05 54.38h.01M197.77 47.55h.01M200.66 49.51h.01M199.32 53.3h.01M205.1 51.11h.01M202.37 47.34h.01M204.05 49.5h.01M204.33 53.8h.01M203.25 45.97h.01M201.38 54.66h.01M203.68 54.8h.01M198.92 50.97h.01M202.83 47.19h.01M201.94 53.7h.01M204.19 49.91h.01M203.78 54.23h.01M201.11 51.99h.01M205.15 49.53h.01M205.64 51.03h.01" stroke="#000" stroke-opacity="0.48" stroke-width="1.12" stroke-linecap="round"/><path d="M203.01 34.26h.01M202.09 36.08h.01M202.51 43.49h.01M203.15 31.35h.01M202.55 32.16h.01M202.31 44.78h.01M201.58 31.15h.01M201.08 39.33h.01M202.75 44.44h.01M203.21 38.82h.01M203.72 42.16h.01M202 31.45h.01M202.11 42.07h.01M204.49 40.26h.01M203.48 40.5h.01M204.04 35.13h.01M202.3 40.14h.01M202.12 42.44h.01M201.6 43.67h.01M204.16 32.16h.01M201.62 44.29h.01M200.9 41.68h.01M202.08 39.18h.01M204.49 42.04h.01M203.01 42.21h.01M203.26 39.27h.01M203.12 43.89h.01M202.92 44.11h.01M202.78 43.13h.01M201.3 34.32h.01M204.97 36.8h.01M202.79 44.81h.01M204.43 39.49h.01M201.1 33.55h.01M203.62 43.1h.01M201.56 33.63h.01M201.43 45.45h.01M203.29 40.9h.01M204.21 45.22h.01M204.61 35.69h.01M204.57 44.24h.01M202.65 35.59h.01M203.92 32.14h.01M202.26 42.31h.01M202.33 44.98h.01M203.27 44.85h.01M202.83 33.01h.01M203.99 39.34h.01M200.78 41.01h.01M204.34 35.71h.01M202.28 41.96h.01M204.74 36.65h.01M204.35 43.99h.01M201.6 39.43h.01M202.92 37.44h.01" stroke="#000" stroke-opacity="0.35" stroke-width="1.12" stroke-linecap="round"/><path d="M208.35 46.18h.01M206.75 47.26h.01M206.14 48.02h.01M206.44 48.4h.01M206 47.25h.01M207.03 47.55h.01M207.04 47.32h.01M207.82 45.79h.01M206.27 47.22h.01M208.05 45.4h.01M208.27 45.69h.01M207.85 46.15h.01" stroke="#000" stroke-opacity="0.32" stroke-width="1.12" stroke-linecap="round"/><path d="M210.3 45.56h.01M215.31 39.36h.01M217.14 37.81h.01M223.56 38.44h.01M224.97 53.36h.01M223.78 39.78h.01" stroke="#000" stroke-opacity="0.16" stroke-width="1.12" stroke-linecap="round"/><path d="M200.34 126.44h.01M203.27 138.41h.01M204.13 129.94h.01M203.86 130.86h.01M202.55 132.42h.01M199.81 135.11h.01M203.8 128.92h.01M201.72 125.65h.01M203.4 131.43h.01M203.26 138.1h.01M199.72 127.72h.01M201.85 134.84h.01M202.63 126.78h.01M203.31 132.53h.01M205.4 131.89h.01M202.35 128.66h.01M201.79 132.88h.01M204.22 129.84h.01M202.8 136.68h.01M203.15 132.93h.01M201.39 128.22h.01M199.82 124.97h.01M203.55 136.12h.01M202.6 125.71h.01M203.14 135.68h.01M202.76 134.72h.01M202.91 125.55h.01M201.65 129.71h.01M206.4 133.3h.01M202.65 132.04h.01M203.32 128.92h.01M202.85 129.72h.01M204.11 137.46h.01M204.98 129.45h.01M203.83 127.72h.01M201.38 131.13h.01M203.91 130.54h.01M204.23 134.34h.01M204.13 130.15h.01M200.98 138.49h.01M202.29 133.93h.01M203.73 129.33h.01M205.72 133.69h.01M202.98 129.03h.01M201.57 125.42h.01M203.85 128.93h.01M202.33 132.96h.01M202.49 133.59h.01M202.05 128.6h.01M204.37 127.91h.01M203.91 132.96h.01M203.02 123.77h.01M201.06 126.15h.01M201.09 134.48h.01M201.71 125.53h.01M202.25 130.39h.01M200.53 133.38h.01M204.07 128.27h.01M204.2 124.2h.01M202.18 130.11h.01M203.1 135.68h.01M202.51 126.51h.01M203.32 131.46h.01M203.66 129.38h.01M203.25 128.38h.01M203.83 127.99h.01M202.08 135.74h.01M201.87 130.81h.01M203.84 129.45h.01M204.33 128.34h.01M204.51 124.2h.01M201 131.08h.01M205.11 137.62h.01M201.73 130.67h.01M202.27 121.73h.01M204.07 129.2h.01M205.02 131.97h.01M202.21 127.87h.01M202.72 132.71h.01M202.27 142.65h.01M203.3 125.98h.01M203.12 135.63h.01M203.63 129.39h.01M202.02 127.45h.01M201.25 128.61h.01M203.38 128.4h.01M205.4 132.39h.01M202.34 130.65h.01M205.16 123.58h.01M203.35 142.12h.01M204.48 126.96h.01M203.18 129.79h.01M207.1 127.95h.01M202.59 129.39h.01M200.89 116.83h.01M202.65 132.97h.01M202.36 132.88h.01M204.11 133.74h.01M200.49 137.17h.01M204.26 134.19h.01M203.01 130.78h.01M202.2 132.57h.01M204.36 128.38h.01M204.2 128.82h.01M203.87 130.18h.01M204.27 138.95h.01M203.33 128.71h.01M202.37 133.43h.01M202.27 134.94h.01M203.44 134.63h.01M202.18 126.75h.01M201.9 132.48h.01M201.84 133.74h.01M199.96 127.98h.01M202.76 123.06h.01M202.1 124.46h.01M202.9 129.78h.01M204.1 127.24h.01M200.6 128.5h.01M203.19 131.21h.01M203.25 135.98h.01M202.48 129.91h.01M201.76 128.3h.01M204.55 132.35h.01M199.14 135.93h.01M200.06 129.08h.01M204.44 131.37h.01M203.83 134.5h.01M203.45 125.5h.01M203.55 127.87h.01M199.44 129.59h.01M203.82 131.33h.01M203.02 138.19h.01M203.41 134.7h.01M203.5 137.8h.01M202.47 135.83h.01M205.7 129.26h.01M204.56 125.1h.01M203.48 133.96h.01M201.79 123.25h.01M203.09 129.46h.01M203.29 132.1h.01M204.25 137.49h.01M203.66 124.38h.01M204.02 132.52h.01M203.24 137.59h.01M203.42 129.37h.01M203.72 124.11h.01M204.45 131.15h.01M205.53 133.8h.01M203.59 131.7h.01M201.29 130.57h.01M203.48 135.09h.01M203.68 133.87h.01M204.06 128.69h.01M203.49 130.02h.01M201.2 124.54h.01M204.27 137.02h.01M205.15 127.35h.01M205.27 137.55h.01M201.93 133.02h.01M205.58 131.35h.01M204.8 128.34h.01M202.56 134.68h.01M202.81 131.51h.01M203.2 126.63h.01M205.26 130.39h.01M202.57 129.08h.01M203.15 127.02h.01M204.34 129.52h.01M204.23 127.25h.01M201.55 127.06h.01M203.39 125.36h.01M204.3 129.56h.01M204.38 129.34h.01M204.25 126.6h.01M201.43 133.46h.01M202.24 135.43h.01M202.02 133.1h.01M201.84 123.56h.01M205.16 130.05h.01M204.48 131.68h.01M200.51 132.6h.01M204.64 136.4h.01M205.47 132.58h.01M202.89 131.22h.01M201.32 134.04h.01M204.11 132.39h.01M201.9 133.64h.01M202.22 136.2h.01M202.14 128.67h.01M202.56 126.53h.01M201.71 129.7h.01M199.39 139.38h.01M203.59 132.13h.01M201.73 131.7h.01M203.02 131.3h.01M200.84 130.38h.01M200.23 130.03h.01M201.71 128.29h.01M202.54 134.44h.01M204.83 130.99h.01M201.43 137.18h.01M200.94 128.51h.01M202.7 127.72h.01M205 132.57h.01M204.62 129.59h.01M204.31 130.2h.01M202.8 132.12h.01M203.6 133.27h.01M202.7 124.45h.01M202.54 119.42h.01M202.58 127.36h.01M204.23 119.28h.01M205.98 129.36h.01M200.64 132.62h.01M203.73 132.62h.01M206.24 127.27h.01M203.44 131.45h.01M201.99 132.04h.01M204.87 127.18h.01M203.67 135.1h.01M203.97 123.99h.01M203.42 129.16h.01M204.82 130.27h.01M205.92 125.55h.01M203.75 127.07h.01M205.64 137.5h.01M201.63 134.02h.01M202.94 123.88h.01M201.45 131.23h.01M203.77 129.21h.01M203.44 132.14h.01M203.43 125.76h.01M203.21 133.07h.01M200.78 137.37h.01M205.17 131.5h.01M206.11 127.38h.01M201.6 128.15h.01M201.94 138.68h.01M203.08 130.57h.01M203.55 137.59h.01M203.25 129.2h.01M203.41 136.18h.01M202.7 136.83h.01M203.46 130.06h.01M203.74 139.24h.01M202.64 136.69h.01M203.85 131.49h.01M203.08 134.31h.01M203.92 132.4h.01M203.98 127.16h.01M202.04 126.57h.01M202.5 129.93h.01M202.46 133.09h.01M201.6 129.79h.01M204.29 137.98h.01M203.09 135.92h.01M205.04 126.5h.01M203.37 126.38h.01M202.43 132.55h.01M201.13 133.08h.01M202.8 129.79h.01M203.8 127.33h.01M200.5 130.94h.01M201.94 129.97h.01M201.38 126.84h.01M201.48 125.38h.01M201.8 127.48h.01M203.04 144.19h.01M202.09 124.07h.01M203.85 125.57h.01M201.68 129.33h.01M203.05 131.07h.01M203.35 130.27h.01M204.62 134.31h.01M202.19 129.86h.01M200.99 133.55h.01M202.68 138.79h.01M201.98 137.15h.01M201.63 123.66h.01M201.72 132.19h.01M204.48 127.06h.01M204.4 128.54h.01M202.22 129.47h.01M205.41 131.5h.01M203.43 124.37h.01M203.22 131.91h.01M205.37 127.07h.01M201.94 126.86h.01M202.02 133.55h.01M201.8 136.09h.01M203.02 126.88h.01M202.01 124.94h.01M200.84 135.55h.01M204.26 126.57h.01M202.3 137.45h.01M201.9 131.63h.01M203.71 129.85h.01M202.68 129.26h.01M203.13 124.11h.01M203.03 131.44h.01M201.01 132.57h.01M201.59 119.63h.01M200.11 131.07h.01M203.78 128.86h.01M200.81 129.97h.01M204.29 130.45h.01M200.79 132.61h.01M202.65 129.91h.01M203.03 133h.01M202.78 126.58h.01M202.78 131.19h.01M204.67 125.47h.01M202.74 126.94h.01M203.34 128.33h.01M198.42 134.64h.01M201.97 126.02h.01M200.72 126.12h.01M201.03 130.01h.01M203.15 130.29h.01M203.46 127.11h.01M203.82 130.18h.01M203.59 133.2h.01M202.4 135.84h.01M204.11 128.9h.01M205.52 137.63h.01M200.69 121.17h.01M202.03 132.59h.01M204.31 133.42h.01M202.92 134.71h.01M203.99 128.8h.01M203.22 135.12h.01M202.01 128.02h.01M201.73 136.8h.01M203.94 134.21h.01M202.41 130.55h.01M204.73 129.5h.01M204.69 130.59h.01M202.92 133h.01M204.21 138.05h.01M202.45 137.76h.01M201.85 127.09h.01M199.69 134.22h.01M205.13 125.67h.01M202.49 129.62h.01M200.69 131h.01M203.4 128.61h.01M201.48 131.27h.01M203.84 124.78h.01M202.82 133.06h.01M198.87 132.07h.01M205.48 125.33h.01M204.88 129.48h.01M203.86 130.05h.01M201.3 123.54h.01M206.46 125.11h.01M202.58 136.71h.01M203.42 131.46h.01M200.03 128.13h.01M201.03 123.2h.01M203.51 134.22h.01M201.85 128h.01M203.61 134.43h.01M201.43 135.65h.01M204.35 130.75h.01M201.35 133.12h.01M203.99 138.13h.01M202.1 137.4h.01M202.46 132.96h.01M202.81 131.09h.01M205.13 127.86h.01M204.2 129.61h.01M202.93 127.73h.01M203.27 122.34h.01M202.6 135.01h.01M204.22 123.9h.01M201.33 129h.01M205.74 128.95h.01M202.97 129.71h.01M203.43 126.91h.01M203.36 132.76h.01M204.52 127.03h.01M204.31 138.88h.01M204.15 133.66h.01M199.39 136.42h.01M205.81 135.93h.01M203.74 134.28h.01M207.42 127.76h.01M202.39 135.44h.01M203.37 121.62h.01M203.32 132.25h.01M201.61 132.39h.01M203.36 123.13h.01M203.76 139.91h.01M205.58 125.97h.01M201.03 131.03h.01M203.41 125.08h.01M201.89 136.56h.01M203.35 135.19h.01M202.94 135.15h.01M202.2 128.57h.01M201.58 122.6h.01M202.4 124.99h.01M202.29 131.38h.01M203.25 132.44h.01M202.4 130.52h.01M204.71 130.1h.01M203.03 120.31h.01M201.34 135.43h.01M201.69 126.15h.01M204.42 125.51h.01M204.46 130.32h.01M202.04 121.98h.01M204.95 122.96h.01M201.14 134.09h.01M201.12 132.89h.01M202.92 129.56h.01M201.39 127.89h.01M203.38 126.51h.01M203.91 131.74h.01M203.78 131.7h.01M203.81 132.34h.01M204.2 132.33h.01M203.45 126.79h.01M200.39 130.93h.01M204.4 126.73h.01M200.6 128.37h.01M203.5 134.36h.01M202.49 125.67h.01M202.88 133.61h.01M202.89 135.03h.01M202.22 134.43h.01M205.41 126.45h.01M201.67 133.48h.01M207.62 132.87h.01M202.93 136.31h.01M202.8 123.79h.01M201.54 136.48h.01M200.46 124.62h.01M204.19 131.34h.01M204.77 126.17h.01M201.87 129.22h.01M201.12 129.71h.01M202.71 134.41h.01M202.84 128.99h.01M203.71 135.45h.01M204.52 131.89h.01M202.4 128.68h.01M201.02 131h.01M202.93 137.76h.01M203.29 133.91h.01M204.92 122.7h.01M202 129.7h.01M203.15 125.85h.01M204.25 134.59h.01M203.72 133.63h.01M201.33 135.58h.01M202.05 122.63h.01M203.15 132.52h.01M201.95 123.61h.01M201.25 130.06h.01M199.17 135.11h.01M204.46 129.94h.01M204.55 130h.01M201.27 133.42h.01M203.81 126.73h.01M200.86 126.49h.01M204.71 129.4h.01M207.17 127.89h.01M203.87 132.08h.01M202.63 134.29h.01M201.68 130.47h.01M201.21 121.34h.01M203.07 125.79h.01M201.02 133.2h.01M202.72 132.36h.01M205.56 131.48h.01M203.65 125.6h.01M204.22 134.37h.01M201.4 133.53h.01M203.45 129.79h.01M203.1 141.11h.01M202 129.28h.01M203.12 129.94h.01M200.24 133.5h.01M204.35 138.15h.01M202.13 125.3h.01M203.95 126.31h.01M202.97 128.98h.01M203.26 128.8h.01M204.02 126.77h.01M206.54 134.07h.01M202.04 126.58h.01M202.69 128.71h.01M201.74 136.72h.01M204.43 126.07h.01M203.81 130.79h.01M204.13 127.89h.01M206.17 131.07h.01M205.97 128.7h.01M205 130.28h.01M205.48 129.96h.01M201.38 126.12h.01M202.03 133.35h.01M203.54 131.26h.01M204.58 137.79h.01M201.48 135.08h.01M206.45 128.1h.01M202.14 132.5h.01M203.33 128.45h.01M202.88 137.68h.01M204.36 127.29h.01M200.43 126.01h.01M203.26 127.39h.01M201.73 133.87h.01M202.56 129.13h.01M203.31 137.01h.01M203.45 133.74h.01M203.11 137.44h.01M201.15 125.95h.01M202.23 139.49h.01M205.31 126.06h.01M202.31 133.15h.01M203.1 134.6h.01M202.26 123.67h.01M203.92 136.16h.01M200.69 122.72h.01M202.32 122.76h.01M203.64 125.81h.01M204.11 129.32h.01M203.2 133.64h.01M202.69 126.44h.01M204.37 124.48h.01M205.11 128.18h.01M202.21 132.5h.01M203.63 132.98h.01M200.8 127.01h.01M203.51 132.4h.01M202.86 136.37h.01M202.74 134.85h.01M204.63 132.3h.01M202.71 133.99h.01M203.67 133.47h.01M201.71 132.82h.01M205.39 129.6h.01M203.21 129.79h.01M204.33 121.97h.01M205.4 133.02h.01M202.67 132h.01M204.7 132.42h.01M204.02 135.99h.01M203.27 134.02h.01M205.22 133.26h.01M202.09 134.16h.01M206.06 129.49h.01M203.7 132.69h.01M204.34 129.1h.01M202.99 139.23h.01M204.06 128.22h.01" stroke="#000" stroke-opacity="0.72" stroke-width="1.12" stroke-linecap="round"/><path d="M204.68 129.43h.01M206.24 120.28h.01M203.24 134.46h.01M200.39 125.02h.01M204.03 129.3h.01M202.41 130.77h.01M200.14 124.52h.01M206.64 125.57h.01M203.95 128.81h.01M204.83 130.89h.01M203.88 135.45h.01M203.71 119.83h.01M201.66 136.87h.01M205.25 127.84h.01M199.73 125.21h.01M207.37 135.63h.01M205.58 120.32h.01M200.22 125.89h.01M200.22 129.71h.01M200.77 131.68h.01M202.57 126.05h.01M204.39 131.53h.01M203.31 127.11h.01M202.93 118.61h.01M198.97 125.41h.01M203.32 138.66h.01M203.86 123.71h.01M202.02 122.21h.01M202.94 128.59h.01M202.95 130.55h.01M205.19 132.79h.01M200.63 133.65h.01M200.93 131.15h.01M203.23 138.2h.01M202.82 128.56h.01M202.46 133.75h.01M203.68 127.64h.01M204.76 140.51h.01M206.4 137.23h.01M201.93 128.6h.01M203.38 119.88h.01M206.6 121.32h.01M203.87 122.42h.01M203.3 133.6h.01M204.13 124.47h.01M201.7 134.15h.01M202.92 129.76h.01M204.99 115.52h.01M203.58 135.96h.01M206.74 132.84h.01M201.54 134.37h.01M206.92 125.69h.01M201.56 128.33h.01M202.2 118.11h.01M198.17 122.06h.01M201.75 131.49h.01M201.96 130.1h.01M205.88 145.32h.01M204.86 123.86h.01M205.1 129.12h.01M203.76 134.34h.01M204.65 122.04h.01M200.7 130.57h.01M204.5 140.51h.01M204.29 127.15h.01M202.04 125.27h.01M200.37 122.06h.01M201.9 129.63h.01M201.45 129.18h.01M202.46 127.87h.01M202.14 130.66h.01M203.07 114.8h.01M203.58 129.66h.01M201.78 130.01h.01M201.6 129.75h.01M201.23 132.76h.01M203.75 121.26h.01M201.59 132.87h.01M203.87 129.83h.01M200.7 125.41h.01M203.37 130.67h.01M203 124.6h.01M202.56 126.4h.01M200.64 123.15h.01M201.36 120.97h.01M203.99 133.2h.01M204.84 124.86h.01M201.47 130.39h.01M202.06 127.37h.01M202.37 120.38h.01M205.62 121.32h.01M199.78 133.36h.01M200.76 134.79h.01M203.71 130.94h.01M202.23 121.42h.01M200.57 129.57h.01M202.78 122.53h.01M200.67 124.36h.01M202.88 131.36h.01M204.85 127.01h.01M205.94 132.86h.01M206.03 124.31h.01M204.19 134.83h.01M199.38 133.95h.01M203.85 133.93h.01M203.35 135.14h.01M202.14 126.22h.01M204.47 132.87h.01M200.26 135.43h.01M205.4 134.5h.01M201.52 135.75h.01M204.06 133.96h.01M202.9 126.71h.01M201.57 125.74h.01M204.83 124.89h.01M201.75 130.76h.01M202.47 118.07h.01M201.67 127.08h.01M206.28 132.56h.01M200.97 123.14h.01M202.08 130.21h.01M201.42 131.33h.01M200.14 130.76h.01M205.42 114.84h.01M202.94 130.35h.01M203.92 129.54h.01M202.87 130.51h.01M203.22 129.48h.01M206.2 134.46h.01M204.88 125.64h.01M202.01 134.63h.01M200.87 134.43h.01M200.26 140.32h.01M205.52 126.08h.01M202.06 118.14h.01M202.9 135.33h.01M204.24 127.62h.01M207.16 131.94h.01M203.84 127.42h.01M204.18 142.93h.01M203.92 120.14h.01M203.44 139.18h.01M205.42 126.26h.01M203.71 121.16h.01M204.3 124.33h.01M201.92 125.98h.01M201.55 138.02h.01M206 127.47h.01M203.2 137.96h.01M202.42 126.63h.01M201.28 137.3h.01M203.33 129.05h.01M202.14 124.15h.01M204.94 124.88h.01M201.94 120.05h.01M200.76 126.24h.01M202 120.92h.01M201.74 128.24h.01M197.66 132.06h.01M202.42 121.81h.01M202.43 131.3h.01M202.97 129.17h.01M203 132.4h.01M200.21 125.8h.01M203.75 129.08h.01M200.82 127.42h.01M201.55 129.03h.01M199.6 120.29h.01M200.04 128.2h.01M207.99 134.13h.01M205.45 128.96h.01M206.2 130.8h.01M203.1 134.68h.01M200.49 117.25h.01M200.54 136.38h.01M204.79 129.9h.01M202.48 127.98h.01M203.75 124.3h.01M204.53 123.71h.01M205.69 127.09h.01M201.08 127.36h.01M201.07 128.17h.01M199.28 126.26h.01M203.11 130.92h.01M202.16 135.33h.01M199.51 127.71h.01M201.96 128.82h.01M202.41 136.24h.01M202.94 123.92h.01M208.02 129.07h.01M202.62 133.59h.01M201.73 127.65h.01M204.71 122.53h.01M202.02 133.89h.01M206.61 128.43h.01M202.73 134.67h.01M199.93 125.14h.01M201.32 117.86h.01M197.02 126.68h.01M204.8 132.42h.01" stroke="#000" stroke-opacity="0.45" stroke-width="1.12" stroke-linecap="round"/><path d="M233.8 122.21h.01M214.09 113.09h.01M228.08 127.14h.01M237.78 125.31h.01M219.58 118.6h.01M224.47 124.54h.01M222.79 121.39h.01M221.34 111.11h.01M224.53 115.54h.01M216.36 111.02h.01M224.64 121.56h.01M223.01 125.37h.01M236.47 112.68h.01M221.47 112.1h.01M235.57 111.15h.01M230.11 119.25h.01M235.85 127.53h.01M236.62 127.05h.01M234.54 121.91h.01M223.77 115.96h.01" stroke="#000" stroke-opacity="0.16" stroke-width="1.12" stroke-linecap="round"/></g><text x="0.5" y="9.5" font-size="11.6" font-weight="bold" fill="#111" stroke="#111" stroke-width="0.35" font-family='"Liberation Sans", sans-serif'>A</text><text x="266.8" y="9.2" font-size="11.6" font-weight="bold" fill="#111" stroke="#111" stroke-width="0.35" font-family='"Liberation Sans", sans-serif'>B</text><text x="0.7" y="184.4" font-size="11.6" font-weight="bold" fill="#111" stroke="#111" stroke-width="0.35" font-family='"Liberation Sans", sans-serif'>C</text><text x="266.2" y="183.8" font-size="11.6" font-weight="bold" fill="#111" stroke="#111" stroke-width="0.35" font-family='"Liberation Sans", sans-serif'>D</text><text x="0.6" y="393.5" font-size="11.6" font-weight="bold" fill="#111" stroke="#111" stroke-width="0.35" font-family='"Liberation Sans", sans-serif'>E</text><text x="266.4" y="393.9" font-size="11.6" font-weight="bold" fill="#111" stroke="#111" stroke-width="0.35" font-family='"Liberation Sans", sans-serif'>F</text><rect x="299.3" y="4.05" width="217.8" height="137.65" fill="none" stroke="#767676" stroke-width="1.2"/><line x1="295.5" y1="137" x2="299.3" y2="137" stroke="#767676" stroke-width="1"/><text transform="translate(288.3 137) rotate(-90)" x="0" y="0" font-size="7.6" text-anchor="middle" font-weight="normal" fill="#151515" font-family='"Liberation Sans", sans-serif' dominant-baseline="central" stroke="#151515" stroke-width="0.18">0</text><line x1="295.5" y1="104.85" x2="299.3" y2="104.85" stroke="#767676" stroke-width="1"/><text transform="translate(288.3 104.85) rotate(-90)" x="0" y="0" font-size="7.6" text-anchor="middle" font-weight="normal" fill="#151515" font-family='"Liberation Sans", sans-serif' textLength="6.4" lengthAdjust="spacingAndGlyphs" dominant-baseline="central" stroke="#151515" stroke-width="0.18">10</text><line x1="295.5" y1="72.7" x2="299.3" y2="72.7" stroke="#767676" stroke-width="1"/><text transform="translate(288.3 72.7) rotate(-90)" x="0" y="0" font-size="7.6" text-anchor="middle" font-weight="normal" fill="#151515" font-family='"Liberation Sans", sans-serif' textLength="6.4" lengthAdjust="spacingAndGlyphs" dominant-baseline="central" stroke="#151515" stroke-width="0.18">20</text><line x1="295.5" y1="40.55" x2="299.3" y2="40.55" stroke="#767676" stroke-width="1"/><text transform="translate(288.3 40.55) rotate(-90)" x="0" y="0" font-size="7.6" text-anchor="middle" font-weight="normal" fill="#151515" font-family='"Liberation Sans", sans-serif' textLength="6.4" lengthAdjust="spacingAndGlyphs" dominant-baseline="central" stroke="#151515" stroke-width="0.18">30</text><line x1="295.5" y1="8.4" x2="299.3" y2="8.4" stroke="#767676" stroke-width="1"/><text transform="translate(288.3 8.4) rotate(-90)" x="0" y="0" font-size="7.6" text-anchor="middle" font-weight="normal" fill="#151515" font-family='"Liberation Sans", sans-serif' textLength="6.4" lengthAdjust="spacingAndGlyphs" dominant-baseline="central" stroke="#151515" stroke-width="0.18">40</text><text transform="translate(269.8 77.5) rotate(-90)" x="0" y="0" font-size="7.8" text-anchor="middle" font-weight="normal" fill="#1a1a1a" font-family='"Liberation Sans", sans-serif' textLength="93" lengthAdjust="spacingAndGlyphs" dominant-baseline="central" stroke="#1a1a1a" stroke-width="0.18">Serum gammaglobulins (g/L)</text><line x1="374.6" y1="20.6" x2="374.6" y2="51.5" stroke="#767676" stroke-width="0.9" stroke-dasharray="2,1.5"/><line x1="361.1" y1="20.6" x2="388.1" y2="20.6" stroke="#767676" stroke-width="1.2"/><line x1="374.6" y1="79.8" x2="374.6" y2="91.3" stroke="#767676" stroke-width="0.9" stroke-dasharray="2,1.5"/><line x1="361.1" y1="91.3" x2="388.1" y2="91.3" stroke="#767676" stroke-width="1.2"/><rect x="347.8" y="51.5" width="53.6" height="28.3" fill="none" stroke="#767676" stroke-width="1.2"/><line x1="347.8" y1="68.6" x2="401.4" y2="68.6" stroke="#111" stroke-width="2"/><line x1="442.1" y1="77.9" x2="442.1" y2="84.3" stroke="#767676" stroke-width="0.9" stroke-dasharray="2,1.5"/><line x1="428.6" y1="77.9" x2="455.6" y2="77.9" stroke="#767676" stroke-width="1.2"/><line x1="442.1" y1="103.3" x2="442.1" y2="105" stroke="#767676" stroke-width="0.9" stroke-dasharray="2,1.5"/><line x1="428.6" y1="105" x2="455.6" y2="105" stroke="#767676" stroke-width="1.2"/><rect x="415" y="84.3" width="54.2" height="19" fill="none" stroke="#767676" stroke-width="1.2"/><line x1="415" y1="95.1" x2="469.2" y2="95.1" stroke="#111" stroke-width="2"/><line x1="374.5" y1="15.1" x2="442.4" y2="15.1" stroke="#555" stroke-width="1"/><line x1="374.5" y1="15.1" x2="374.5" y2="18.3" stroke="#555" stroke-width="1"/><line x1="442.4" y1="15.1" x2="442.4" y2="18.3" stroke="#555" stroke-width="1"/><circle cx="406.9" cy="9.3" r="1.05" fill="#1a1a1a"/><circle cx="409.65" cy="9.3" r="1.05" fill="#1a1a1a"/><line x1="374.5" y1="141.7" x2="374.5" y2="145.5" stroke="#767676" stroke-width="1"/><line x1="441.9" y1="141.7" x2="441.9" y2="145.5" stroke="#767676" stroke-width="1"/><text x="374.9" y="157.3" font-size="7.8" text-anchor="middle" font-weight="normal" fill="#1a1a1a" font-family='"Liberation Sans", sans-serif' textLength="45.8" lengthAdjust="spacingAndGlyphs" stroke="#1a1a1a" stroke-width="0.18">persistent MG</text><text x="443.2" y="157.3" font-size="7.8" text-anchor="middle" font-weight="normal" fill="#1a1a1a" font-family='"Liberation Sans", sans-serif' textLength="42.3" lengthAdjust="spacingAndGlyphs" stroke="#1a1a1a" stroke-width="0.18">transient MG</text><rect x="32.5" y="196.9" width="216.3" height="137.4" fill="none" stroke="#767676" stroke-width="1.2"/><line x1="28.7" y1="329.4" x2="32.5" y2="329.4" stroke="#767676" stroke-width="1"/><text transform="translate(21.2 329.4) rotate(-90)" x="0" y="0" font-size="7.3" text-anchor="middle" font-weight="normal" fill="#151515" font-family='"Liberation Sans", sans-serif' dominant-baseline="central" stroke="#151515" stroke-width="0.18">0</text><line x1="28.7" y1="303.92" x2="32.5" y2="303.92" stroke="#767676" stroke-width="1"/><text transform="translate(21.2 303.92) rotate(-90)" x="0" y="0" font-size="7.3" text-anchor="middle" font-weight="normal" fill="#151515" font-family='"Liberation Sans", sans-serif' dominant-baseline="central" stroke="#151515" stroke-width="0.18">2</text><line x1="28.7" y1="278.44" x2="32.5" y2="278.44" stroke="#767676" stroke-width="1"/><text transform="translate(21.2 278.44) rotate(-90)" x="0" y="0" font-size="7.3" text-anchor="middle" font-weight="normal" fill="#151515" font-family='"Liberation Sans", sans-serif' dominant-baseline="central" stroke="#151515" stroke-width="0.18">4</text><line x1="28.7" y1="252.96" x2="32.5" y2="252.96" stroke="#767676" stroke-width="1"/><text transform="translate(21.2 252.96) rotate(-90)" x="0" y="0" font-size="7.3" text-anchor="middle" font-weight="normal" fill="#151515" font-family='"Liberation Sans", sans-serif' dominant-baseline="central" stroke="#151515" stroke-width="0.18">6</text><line x1="28.7" y1="227.48" x2="32.5" y2="227.48" stroke="#767676" stroke-width="1"/><text transform="translate(21.2 227.48) rotate(-90)" x="0" y="0" font-size="7.3" text-anchor="middle" font-weight="normal" fill="#151515" font-family='"Liberation Sans", sans-serif' dominant-baseline="central" stroke="#151515" stroke-width="0.18">8</text><line x1="28.7" y1="202" x2="32.5" y2="202" stroke="#767676" stroke-width="1"/><text transform="translate(21.2 202) rotate(-90)" x="0" y="0" font-size="7.3" text-anchor="middle" font-weight="normal" fill="#151515" font-family='"Liberation Sans", sans-serif' textLength="7" lengthAdjust="spacingAndGlyphs" dominant-baseline="central" stroke="#151515" stroke-width="0.18">10</text><text transform="translate(4.5 268.6) rotate(-90)" x="0" y="0" font-size="7.3" text-anchor="middle" font-weight="normal" fill="#1a1a1a" font-family='"Liberation Sans", sans-serif' textLength="87" lengthAdjust="spacingAndGlyphs" dominant-baseline="central" stroke="#1a1a1a" stroke-width="0.18">percentage in CD19+ cells</text><rect x="168.8" y="196.9" width="80" height="30.1" fill="none" stroke="#767676" stroke-width="1.2"/><text x="180.8" y="207.6" font-size="6.7" text-anchor="start" font-weight="normal" fill="#222" font-family='"Liberation Sans", sans-serif' textLength="43.8" lengthAdjust="spacingAndGlyphs" stroke="#222" stroke-width="0.18">1st box: control</text><text x="180.8" y="214.9" font-size="6.7" text-anchor="start" font-weight="normal" fill="#222" font-family='"Liberation Sans", sans-serif' textLength="66.8" lengthAdjust="spacingAndGlyphs" stroke="#222" stroke-width="0.18">2nd box: persistent MG</text><text x="180.8" y="222.2" font-size="6.7" text-anchor="start" font-weight="normal" fill="#222" font-family='"Liberation Sans", sans-serif' textLength="62.3" lengthAdjust="spacingAndGlyphs" stroke="#222" stroke-width="0.18">3rd box: transient MG</text><line x1="60.5" y1="321.2" x2="60.5" y2="321.8" stroke="#767676" stroke-width="0.9" stroke-dasharray="2,1.5"/><line x1="56.5" y1="321.2" x2="64.5" y2="321.2" stroke="#767676" stroke-width="1.2"/><line x1="60.5" y1="325.6" x2="60.5" y2="327.8" stroke="#767676" stroke-width="0.9" stroke-dasharray="2,1.5"/><line x1="56.5" y1="327.8" x2="64.5" y2="327.8" stroke="#767676" stroke-width="1.2"/><rect x="52.5" y="321.8" width="16" height="3.8" fill="none" stroke="#767676" stroke-width="1.2"/><line x1="52.5" y1="322.5" x2="68.5" y2="322.5" stroke="#111" stroke-width="1.6"/><line x1="80.6" y1="236.5" x2="80.6" y2="275.8" stroke="#767676" stroke-width="0.9" stroke-dasharray="2,1.5"/><line x1="76.3" y1="236.5" x2="84.9" y2="236.5" stroke="#767676" stroke-width="1.2"/><line x1="80.6" y1="320" x2="80.6" y2="324" stroke="#767676" stroke-width="0.9" stroke-dasharray="2,1.5"/><line x1="76.3" y1="324" x2="84.9" y2="324" stroke="#767676" stroke-width="1.2"/><rect x="72.5" y="275.8" width="16.2" height="44.2" fill="none" stroke="#767676" stroke-width="1.2"/><line x1="72.5" y1="299.8" x2="88.7" y2="299.8" stroke="#111" stroke-width="1.6"/><line x1="100.4" y1="315" x2="100.4" y2="317.6" stroke="#767676" stroke-width="0.9" stroke-dasharray="2,1.5"/><line x1="96.2" y1="315" x2="104.6" y2="315" stroke="#767676" stroke-width="1.2"/><line x1="100.4" y1="325.8" x2="100.4" y2="326.5" stroke="#767676" stroke-width="0.9" stroke-dasharray="2,1.5"/><line x1="96.2" y1="326.5" x2="104.6" y2="326.5" stroke="#767676" stroke-width="1.2"/><rect x="92.4" y="317.6" width="16" height="8.2" fill="none" stroke="#767676" stroke-width="1.2"/><line x1="92.4" y1="324.5" x2="108.4" y2="324.5" stroke="#111" stroke-width="1.6"/><circle cx="60" cy="291.3" r="1.5" fill="none" stroke="#444" stroke-width="0.7"/><circle cx="60" cy="315" r="1.5" fill="none" stroke="#444" stroke-width="0.7"/><circle cx="100" cy="296.3" r="1.5" fill="none" stroke="#444" stroke-width="0.7"/><line x1="160.6" y1="320" x2="160.6" y2="320.8" stroke="#767676" stroke-width="0.9" stroke-dasharray="2,1.5"/><line x1="157.1" y1="320" x2="164.1" y2="320" stroke="#767676" stroke-width="1.2"/><line x1="160.6" y1="327" x2="160.6" y2="328" stroke="#767676" stroke-width="0.9" stroke-dasharray="2,1.5"/><line x1="157.1" y1="328" x2="164.1" y2="328" stroke="#767676" stroke-width="1.2"/><rect x="152.5" y="320.8" width="16.2" height="6.2" fill="none" stroke="#767676" stroke-width="1.2"/><line x1="152.5" y1="324.3" x2="168.7" y2="324.3" stroke="#111" stroke-width="1.6"/><line x1="180.6" y1="262" x2="180.6" y2="278.3" stroke="#767676" stroke-width="0.9" stroke-dasharray="2,1.5"/><line x1="177" y1="262" x2="184.2" y2="262" stroke="#767676" stroke-width="1.2"/><line x1="180.6" y1="321.3" x2="180.6" y2="325.5" stroke="#767676" stroke-width="0.9" stroke-dasharray="2,1.5"/><line x1="177" y1="325.5" x2="184.2" y2="325.5" stroke="#767676" stroke-width="1.2"/><rect x="172.5" y="278.3" width="16.2" height="43" fill="none" stroke="#767676" stroke-width="1.2"/><line x1="172.5" y1="302.5" x2="188.7" y2="302.5" stroke="#111" stroke-width="1.6"/><line x1="200.9" y1="318.5" x2="200.9" y2="319.3" stroke="#767676" stroke-width="0.9" stroke-dasharray="2,1.5"/><line x1="196.9" y1="318.5" x2="204.9" y2="318.5" stroke="#767676" stroke-width="1.2"/><line x1="200.9" y1="326.8" x2="200.9" y2="327.5" stroke="#767676" stroke-width="0.9" stroke-dasharray="2,1.5"/><line x1="196.9" y1="327.5" x2="204.9" y2="327.5" stroke="#767676" stroke-width="1.2"/><rect x="192.6" y="319.3" width="16.6" height="7.5" fill="none" stroke="#767676" stroke-width="1.2"/><line x1="192.6" y1="323" x2="209.2" y2="323" stroke="#111" stroke-width="1.6"/><circle cx="160.8" cy="288.8" r="1.5" fill="none" stroke="#444" stroke-width="0.7"/><circle cx="200.8" cy="300" r="1.5" fill="none" stroke="#444" stroke-width="0.7"/><line x1="60" y1="221.3" x2="100.8" y2="221.3" stroke="#555" stroke-width="0.9"/><line x1="60" y1="220.9" x2="60" y2="222.8" stroke="#555" stroke-width="0.9"/><line x1="100.8" y1="220.9" x2="100.8" y2="222.8" stroke="#555" stroke-width="0.9"/><line x1="60" y1="226.5" x2="80" y2="226.5" stroke="#555" stroke-width="0.9"/><line x1="60" y1="226.1" x2="60" y2="228" stroke="#555" stroke-width="0.9"/><line x1="80" y1="226.1" x2="80" y2="228" stroke="#555" stroke-width="0.9"/><line x1="80.5" y1="228.8" x2="100.8" y2="228.8" stroke="#555" stroke-width="0.9"/><line x1="80.5" y1="228.4" x2="80.5" y2="230.3" stroke="#555" stroke-width="0.9"/><line x1="100.8" y1="228.4" x2="100.8" y2="230.3" stroke="#555" stroke-width="0.9"/><line x1="160.5" y1="233.8" x2="201.3" y2="233.8" stroke="#555" stroke-width="0.9"/><line x1="160.5" y1="233.4" x2="160.5" y2="235.3" stroke="#555" stroke-width="0.9"/><line x1="201.3" y1="233.4" x2="201.3" y2="235.3" stroke="#555" stroke-width="0.9"/><line x1="160.5" y1="238.8" x2="180" y2="238.8" stroke="#555" stroke-width="0.9"/><line x1="160.5" y1="238.4" x2="160.5" y2="240.3" stroke="#555" stroke-width="0.9"/><line x1="180" y1="238.4" x2="180" y2="240.3" stroke="#555" stroke-width="0.9"/><line x1="180.5" y1="241.8" x2="201.3" y2="241.8" stroke="#555" stroke-width="0.9"/><line x1="180.5" y1="241.4" x2="180.5" y2="243.3" stroke="#555" stroke-width="0.9"/><line x1="201.3" y1="241.4" x2="201.3" y2="243.3" stroke="#555" stroke-width="0.9"/><circle cx="80.6" cy="218.9" r="0.8" fill="#1a1a1a"/><circle cx="69" cy="224.2" r="0.8" fill="#1a1a1a"/><circle cx="71.5" cy="224.2" r="0.8" fill="#1a1a1a"/><circle cx="88.8" cy="226.6" r="0.8" fill="#1a1a1a"/><circle cx="91.3" cy="226.6" r="0.8" fill="#1a1a1a"/><circle cx="180.6" cy="231.9" r="0.8" fill="#1a1a1a"/><circle cx="169.6" cy="236.8" r="0.8" fill="#1a1a1a"/><circle cx="172" cy="236.8" r="0.8" fill="#1a1a1a"/><circle cx="189.3" cy="239.4" r="0.8" fill="#1a1a1a"/><circle cx="191.9" cy="239.4" r="0.8" fill="#1a1a1a"/><line x1="80.5" y1="334.3" x2="80.5" y2="339" stroke="#767676" stroke-width="1"/><line x1="180.75" y1="334.3" x2="180.75" y2="339" stroke="#767676" stroke-width="1"/><text x="80.5" y="349.6" font-size="7" text-anchor="middle" font-weight="normal" fill="#111" font-family='"Liberation Sans", sans-serif' textLength="39.2" lengthAdjust="spacingAndGlyphs" stroke="#111" stroke-width="0.18">Plasmablasts</text><text x="180.2" y="349.6" font-size="7" text-anchor="middle" font-weight="normal" fill="#111" font-family='"Liberation Sans", sans-serif' textLength="38" lengthAdjust="spacingAndGlyphs" stroke="#111" stroke-width="0.18">plasma Cells</text><rect x="298.4" y="196.3" width="217.9" height="156.8" fill="none" stroke="#555" stroke-width="1.1"/><line x1="294.8" y1="347" x2="298.4" y2="347" stroke="#767676" stroke-width="1"/><text transform="translate(287.6 347) rotate(-90)" x="0" y="0" font-size="7.3" text-anchor="middle" font-weight="normal" fill="#151515" font-family='"Liberation Sans", sans-serif' dominant-baseline="central" stroke="#151515" stroke-width="0.18">0</text><line x1="294.8" y1="322.92" x2="298.4" y2="322.92" stroke="#767676" stroke-width="1"/><text transform="translate(287.6 322.92) rotate(-90)" x="0" y="0" font-size="7.3" text-anchor="middle" font-weight="normal" fill="#151515" font-family='"Liberation Sans", sans-serif' dominant-baseline="central" stroke="#151515" stroke-width="0.18">1</text><line x1="294.8" y1="298.84" x2="298.4" y2="298.84" stroke="#767676" stroke-width="1"/><text transform="translate(287.6 298.84) rotate(-90)" x="0" y="0" font-size="7.3" text-anchor="middle" font-weight="normal" fill="#151515" font-family='"Liberation Sans", sans-serif' dominant-baseline="central" stroke="#151515" stroke-width="0.18">2</text><line x1="294.8" y1="274.76" x2="298.4" y2="274.76" stroke="#767676" stroke-width="1"/><text transform="translate(287.6 274.76) rotate(-90)" x="0" y="0" font-size="7.3" text-anchor="middle" font-weight="normal" fill="#151515" font-family='"Liberation Sans", sans-serif' dominant-baseline="central" stroke="#151515" stroke-width="0.18">3</text><line x1="294.8" y1="250.68" x2="298.4" y2="250.68" stroke="#767676" stroke-width="1"/><text transform="translate(287.6 250.68) rotate(-90)" x="0" y="0" font-size="7.3" text-anchor="middle" font-weight="normal" fill="#151515" font-family='"Liberation Sans", sans-serif' dominant-baseline="central" stroke="#151515" stroke-width="0.18">4</text><line x1="294.8" y1="226.6" x2="298.4" y2="226.6" stroke="#767676" stroke-width="1"/><text transform="translate(287.6 226.6) rotate(-90)" x="0" y="0" font-size="7.3" text-anchor="middle" font-weight="normal" fill="#151515" font-family='"Liberation Sans", sans-serif' dominant-baseline="central" stroke="#151515" stroke-width="0.18">5</text><line x1="294.8" y1="202.52" x2="298.4" y2="202.52" stroke="#767676" stroke-width="1"/><text transform="translate(287.6 202.52) rotate(-90)" x="0" y="0" font-size="7.3" text-anchor="middle" font-weight="normal" fill="#151515" font-family='"Liberation Sans", sans-serif' dominant-baseline="central" stroke="#151515" stroke-width="0.18">6</text><text transform="translate(271.7 277.2) rotate(-90)" x="0" y="0" font-size="7.4" text-anchor="middle" font-weight="normal" fill="#1a1a1a" font-family='"Liberation Sans", sans-serif' textLength="168.5" lengthAdjust="spacingAndGlyphs" dominant-baseline="central" stroke="#1a1a1a" stroke-width="0.18">EBV DNA load in plasma(log copies/mL)</text><line x1="345.8" y1="256.5" x2="408" y2="256.5" stroke="#333" stroke-width="1.3"/><line x1="408.8" y1="240.8" x2="470.8" y2="240.8" stroke="#333" stroke-width="1.3"/><circle cx="368.3" cy="252.4" r="1.2" fill="#151515"/><circle cx="373.6" cy="252.4" r="1.2" fill="#151515"/><circle cx="439.3" cy="236.2" r="1.2" fill="#151515"/><circle cx="444.5" cy="236.2" r="1.2" fill="#151515"/><line x1="299" y1="306.8" x2="516.3" y2="306.8" stroke="#2a2a2a" stroke-width="1.7" stroke-dasharray="3.9,2.79"/><ellipse cx="323.6" cy="347" rx="1.35" ry="1.8" fill="none" stroke="#333" stroke-width="0.65"/><ellipse cx="326.2" cy="347" rx="1.35" ry="1.8" fill="none" stroke="#333" stroke-width="0.65"/><ellipse cx="328.8" cy="347" rx="1.35" ry="1.8" fill="none" stroke="#333" stroke-width="0.65"/><ellipse cx="331.4" cy="347" rx="1.35" ry="1.8" fill="none" stroke="#333" stroke-width="0.65"/><ellipse cx="334" cy="347" rx="1.35" ry="1.8" fill="none" stroke="#333" stroke-width="0.65"/><ellipse cx="336.6" cy="347" rx="1.35" ry="1.8" fill="none" stroke="#333" stroke-width="0.65"/><ellipse cx="339.2" cy="347" rx="1.35" ry="1.8" fill="none" stroke="#333" stroke-width="0.65"/><ellipse cx="341.8" cy="347" rx="1.35" ry="1.8" fill="none" stroke="#333" stroke-width="0.65"/><ellipse cx="344.4" cy="347" rx="1.35" ry="1.8" fill="none" stroke="#333" stroke-width="0.65"/><ellipse cx="347" cy="347" rx="1.35" ry="1.8" fill="none" stroke="#333" stroke-width="0.65"/><ellipse cx="349.6" cy="347" rx="1.35" ry="1.8" fill="none" stroke="#333" stroke-width="0.65"/><ellipse cx="352.2" cy="347" rx="1.35" ry="1.8" fill="none" stroke="#333" stroke-width="0.65"/><ellipse cx="354.8" cy="347" rx="1.35" ry="1.8" fill="none" stroke="#333" stroke-width="0.65"/><ellipse cx="357.4" cy="347" rx="1.35" ry="1.8" fill="none" stroke="#333" stroke-width="0.65"/><ellipse cx="405.9" cy="347.6" rx="1.35" ry="1.8" fill="none" stroke="#333" stroke-width="0.65"/><ellipse cx="407.9" cy="347.6" rx="1.35" ry="1.8" fill="none" stroke="#333" stroke-width="0.65"/><ellipse cx="409.9" cy="347.6" rx="1.35" ry="1.8" fill="none" stroke="#333" stroke-width="0.65"/><ellipse cx="463.5" cy="347.3" rx="1.35" ry="1.8" fill="none" stroke="#333" stroke-width="0.65"/><ellipse cx="466.07" cy="347.3" rx="1.35" ry="1.8" fill="none" stroke="#333" stroke-width="0.65"/><ellipse cx="468.64" cy="347.3" rx="1.35" ry="1.8" fill="none" stroke="#333" stroke-width="0.65"/><ellipse cx="471.21" cy="347.3" rx="1.35" ry="1.8" fill="none" stroke="#333" stroke-width="0.65"/><ellipse cx="473.78" cy="347.3" rx="1.35" ry="1.8" fill="none" stroke="#333" stroke-width="0.65"/><ellipse cx="476.35" cy="347.3" rx="1.35" ry="1.8" fill="none" stroke="#333" stroke-width="0.65"/><ellipse cx="478.92" cy="347.3" rx="1.35" ry="1.8" fill="none" stroke="#333" stroke-width="0.65"/><ellipse cx="481.49" cy="347.3" rx="1.35" ry="1.8" fill="none" stroke="#333" stroke-width="0.65"/><ellipse cx="484.06" cy="347.3" rx="1.35" ry="1.8" fill="none" stroke="#333" stroke-width="0.65"/><ellipse cx="486.63" cy="347.3" rx="1.35" ry="1.8" fill="none" stroke="#333" stroke-width="0.65"/><ellipse cx="407.9" cy="272.5" rx="1.35" ry="1.8" fill="none" stroke="#333" stroke-width="0.65"/><ellipse cx="408.3" cy="286.9" rx="1.35" ry="1.8" fill="none" stroke="#333" stroke-width="0.65"/><ellipse cx="409" cy="289" rx="1.35" ry="1.8" fill="none" stroke="#333" stroke-width="0.65"/><ellipse cx="408.2" cy="290.6" rx="1.35" ry="1.8" fill="none" stroke="#333" stroke-width="0.65"/><ellipse cx="409" cy="292.3" rx="1.35" ry="1.8" fill="none" stroke="#333" stroke-width="0.65"/><ellipse cx="408" cy="298.6" rx="1.35" ry="1.8" fill="none" stroke="#333" stroke-width="0.65"/><ellipse cx="475" cy="290.2" rx="1.35" ry="1.8" fill="none" stroke="#333" stroke-width="0.65"/><text x="400" y="291.9" font-size="4.6" text-anchor="middle" font-weight="normal" fill="#333" font-family='"Liberation Sans", sans-serif'>2.4</text><text x="417.2" y="294.4" font-size="4.6" text-anchor="middle" font-weight="normal" fill="#333" font-family='"Liberation Sans", sans-serif'>2.73</text><line x1="340.2" y1="353.1" x2="340.2" y2="357.5" stroke="#767676" stroke-width="1"/><line x1="407.9" y1="353.1" x2="407.9" y2="357.5" stroke="#767676" stroke-width="1"/><line x1="475.2" y1="353.1" x2="475.2" y2="357.5" stroke="#767676" stroke-width="1"/><text x="340.2" y="375" font-size="8.3" text-anchor="middle" font-weight="normal" fill="#111" font-family='"Liberation Sans", sans-serif' textLength="22.2" lengthAdjust="spacingAndGlyphs" stroke="#111" stroke-width="0.18">controls</text><text x="407.5" y="375" font-size="8.3" text-anchor="middle" font-weight="normal" fill="#111" font-family='"Liberation Sans", sans-serif' textLength="40.2" lengthAdjust="spacingAndGlyphs" stroke="#111" stroke-width="0.18">persistent MG</text><text x="475" y="375" font-size="8.3" text-anchor="middle" font-weight="normal" fill="#111" font-family='"Liberation Sans", sans-serif' textLength="36.1" lengthAdjust="spacingAndGlyphs" stroke="#111" stroke-width="0.18">transient MG</text><rect x="32.7" y="399.3" width="222.2" height="140.6" fill="none" stroke="#767676" stroke-width="1.2"/><line x1="28.4" y1="534.5" x2="32.7" y2="534.5" stroke="#767676" stroke-width="1"/><text transform="translate(21.6 534.5) rotate(-90)" x="0" y="0" font-size="7.6" text-anchor="middle" font-weight="normal" fill="#151515" font-family='"Liberation Sans", sans-serif' dominant-baseline="central" stroke="#151515" stroke-width="0.18">0</text><line x1="28.4" y1="512.8" x2="32.7" y2="512.8" stroke="#767676" stroke-width="1"/><text transform="translate(21.6 512.8) rotate(-90)" x="0" y="0" font-size="7.6" text-anchor="middle" font-weight="normal" fill="#151515" font-family='"Liberation Sans", sans-serif' dominant-baseline="central" stroke="#151515" stroke-width="0.18">1</text><line x1="28.4" y1="491.1" x2="32.7" y2="491.1" stroke="#767676" stroke-width="1"/><text transform="translate(21.6 491.1) rotate(-90)" x="0" y="0" font-size="7.6" text-anchor="middle" font-weight="normal" fill="#151515" font-family='"Liberation Sans", sans-serif' dominant-baseline="central" stroke="#151515" stroke-width="0.18">2</text><line x1="28.4" y1="469.4" x2="32.7" y2="469.4" stroke="#767676" stroke-width="1"/><text transform="translate(21.6 469.4) rotate(-90)" x="0" y="0" font-size="7.6" text-anchor="middle" font-weight="normal" fill="#151515" font-family='"Liberation Sans", sans-serif' dominant-baseline="central" stroke="#151515" stroke-width="0.18">3</text><line x1="28.4" y1="447.7" x2="32.7" y2="447.7" stroke="#767676" stroke-width="1"/><text transform="translate(21.6 447.7) rotate(-90)" x="0" y="0" font-size="7.6" text-anchor="middle" font-weight="normal" fill="#151515" font-family='"Liberation Sans", sans-serif' dominant-baseline="central" stroke="#151515" stroke-width="0.18">4</text><line x1="28.4" y1="426" x2="32.7" y2="426" stroke="#767676" stroke-width="1"/><text transform="translate(21.6 426) rotate(-90)" x="0" y="0" font-size="7.6" text-anchor="middle" font-weight="normal" fill="#151515" font-family='"Liberation Sans", sans-serif' dominant-baseline="central" stroke="#151515" stroke-width="0.18">5</text><line x1="28.4" y1="404.3" x2="32.7" y2="404.3" stroke="#767676" stroke-width="1"/><text transform="translate(21.6 404.3) rotate(-90)" x="0" y="0" font-size="7.6" text-anchor="middle" font-weight="normal" fill="#151515" font-family='"Liberation Sans", sans-serif' dominant-baseline="central" stroke="#151515" stroke-width="0.18">6</text><text transform="translate(8.3 468.9) rotate(-90)" x="0" y="0" font-size="7.4" text-anchor="middle" fill="#1a1a1a" font-family='"Liberation Sans", sans-serif' dominant-baseline="central" textLength="138" lengthAdjust="spacingAndGlyphs">EBV DNA in B-cells (log copies/10<tspan font-size="4.5" dy="-2.2">6</tspan><tspan dy="2.2"> B-cells)</tspan></text><line x1="97.5" y1="415.3" x2="138.8" y2="415.3" stroke="#666" stroke-width="0.9"/><line x1="149" y1="415.3" x2="190.5" y2="415.3" stroke="#666" stroke-width="0.9"/><circle cx="116.9" cy="411.4" r="0.95" fill="#1a1a1a"/><circle cx="119.5" cy="411.4" r="0.95" fill="#1a1a1a"/><circle cx="168.3" cy="411.4" r="0.95" fill="#1a1a1a"/><circle cx="170.9" cy="411.4" r="0.95" fill="#1a1a1a"/><line x1="34" y1="500.1" x2="254.3" y2="500.1" stroke="#111" stroke-width="1.9" stroke-dasharray="4.7,4.4"/><line x1="92.9" y1="435.5" x2="92.9" y2="449.5" stroke="#767676" stroke-width="0.9" stroke-dasharray="2,1.5"/><line x1="82.5" y1="435.5" x2="103.3" y2="435.5" stroke="#767676" stroke-width="1.2"/><line x1="92.9" y1="472" x2="92.9" y2="494.5" stroke="#767676" stroke-width="0.9" stroke-dasharray="2,1.5"/><line x1="82.5" y1="494.5" x2="103.3" y2="494.5" stroke="#767676" stroke-width="1.2"/><rect x="72.1" y="449.5" width="41.6" height="22.5" fill="none" stroke="#767676" stroke-width="1.2"/><line x1="72.1" y1="457.8" x2="113.7" y2="457.8" stroke="#111" stroke-width="2"/><line x1="143.8" y1="425" x2="143.8" y2="438" stroke="#767676" stroke-width="0.9" stroke-dasharray="2,1.5"/><line x1="133.3" y1="425" x2="154.3" y2="425" stroke="#767676" stroke-width="1.2"/><line x1="133.3" y1="447.4" x2="154.3" y2="447.4" stroke="#767676" stroke-width="1.2"/><rect x="123.2" y="438" width="41.2" height="9.4" fill="none" stroke="#767676" stroke-width="1.2"/><line x1="123.2" y1="445.2" x2="164.4" y2="445.2" stroke="#111" stroke-width="2"/><line x1="195.2" y1="447" x2="195.2" y2="453.3" stroke="#767676" stroke-width="0.9" stroke-dasharray="2,1.5"/><line x1="184.7" y1="447" x2="205.7" y2="447" stroke="#767676" stroke-width="1.2"/><line x1="195.2" y1="474" x2="195.2" y2="495" stroke="#767676" stroke-width="0.9" stroke-dasharray="2,1.5"/><line x1="184.7" y1="495" x2="205.7" y2="495" stroke="#767676" stroke-width="1.2"/><rect x="174.7" y="453.3" width="41" height="20.7" fill="none" stroke="#767676" stroke-width="1.2"/><line x1="174.7" y1="459.5" x2="215.7" y2="459.5" stroke="#111" stroke-width="2"/><circle cx="144.2" cy="461.9" r="1.6" fill="none" stroke="#444" stroke-width="0.7"/><circle cx="144.2" cy="470.2" r="1.6" fill="none" stroke="#444" stroke-width="0.7"/><line x1="93" y1="539.9" x2="93" y2="542.8" stroke="#767676" stroke-width="1"/><line x1="144.2" y1="539.9" x2="144.2" y2="542.8" stroke="#767676" stroke-width="1"/><line x1="195.4" y1="539.9" x2="195.4" y2="542.8" stroke="#767676" stroke-width="1"/><text x="92.5" y="553.5" font-size="7.8" text-anchor="middle" font-weight="normal" fill="#1a1a1a" font-family='"Liberation Sans", sans-serif' textLength="26.5" lengthAdjust="spacingAndGlyphs" stroke="#1a1a1a" stroke-width="0.18">controls</text><text x="144.2" y="554.4" font-size="7.8" text-anchor="middle" font-weight="normal" fill="#1a1a1a" font-family='"Liberation Sans", sans-serif' textLength="46" lengthAdjust="spacingAndGlyphs" stroke="#1a1a1a" stroke-width="0.18">persistent MG</text><text x="195.1" y="554.4" font-size="7.8" text-anchor="middle" font-weight="normal" fill="#1a1a1a" font-family='"Liberation Sans", sans-serif' textLength="42.6" lengthAdjust="spacingAndGlyphs" stroke="#1a1a1a" stroke-width="0.18">transient MG</text><rect x="299" y="398.3" width="219.8" height="139.9" fill="none" stroke="#767676" stroke-width="1.2"/><line x1="294.7" y1="532.9" x2="299" y2="532.9" stroke="#767676" stroke-width="1"/><text transform="translate(287.4 532.9) rotate(-90)" x="0" y="0" font-size="7.6" text-anchor="middle" font-weight="normal" fill="#151515" font-family='"Liberation Sans", sans-serif' dominant-baseline="central" stroke="#151515" stroke-width="0.18">0</text><line x1="294.7" y1="511.37" x2="299" y2="511.37" stroke="#767676" stroke-width="1"/><text transform="translate(287.4 511.37) rotate(-90)" x="0" y="0" font-size="7.6" text-anchor="middle" font-weight="normal" fill="#151515" font-family='"Liberation Sans", sans-serif' dominant-baseline="central" stroke="#151515" stroke-width="0.18">1</text><line x1="294.7" y1="489.84" x2="299" y2="489.84" stroke="#767676" stroke-width="1"/><text transform="translate(287.4 489.84) rotate(-90)" x="0" y="0" font-size="7.6" text-anchor="middle" font-weight="normal" fill="#151515" font-family='"Liberation Sans", sans-serif' dominant-baseline="central" stroke="#151515" stroke-width="0.18">2</text><line x1="294.7" y1="468.31" x2="299" y2="468.31" stroke="#767676" stroke-width="1"/><text transform="translate(287.4 468.31) rotate(-90)" x="0" y="0" font-size="7.6" text-anchor="middle" font-weight="normal" fill="#151515" font-family='"Liberation Sans", sans-serif' dominant-baseline="central" stroke="#151515" stroke-width="0.18">3</text><line x1="294.7" y1="446.78" x2="299" y2="446.78" stroke="#767676" stroke-width="1"/><text transform="translate(287.4 446.78) rotate(-90)" x="0" y="0" font-size="7.6" text-anchor="middle" font-weight="normal" fill="#151515" font-family='"Liberation Sans", sans-serif' dominant-baseline="central" stroke="#151515" stroke-width="0.18">4</text><line x1="294.7" y1="425.25" x2="299" y2="425.25" stroke="#767676" stroke-width="1"/><text transform="translate(287.4 425.25) rotate(-90)" x="0" y="0" font-size="7.6" text-anchor="middle" font-weight="normal" fill="#151515" font-family='"Liberation Sans", sans-serif' dominant-baseline="central" stroke="#151515" stroke-width="0.18">5</text><line x1="294.7" y1="403.72" x2="299" y2="403.72" stroke="#767676" stroke-width="1"/><text transform="translate(287.4 403.72) rotate(-90)" x="0" y="0" font-size="7.6" text-anchor="middle" font-weight="normal" fill="#151515" font-family='"Liberation Sans", sans-serif' dominant-baseline="central" stroke="#151515" stroke-width="0.18">6</text><text transform="translate(270.5 468) rotate(-90)" x="0" y="0" font-size="7.4" text-anchor="middle" font-weight="normal" fill="#1a1a1a" font-family='"Liberation Sans", sans-serif' textLength="136.5" lengthAdjust="spacingAndGlyphs" dominant-baseline="central" stroke="#1a1a1a" stroke-width="0.18">EBV DNA in supernatant (log copies/mL)</text><line x1="362.3" y1="414.1" x2="403.7" y2="414.1" stroke="#666" stroke-width="0.9"/><line x1="414.5" y1="414.1" x2="454.9" y2="414.1" stroke="#666" stroke-width="0.9"/><circle cx="382.3" cy="410.6" r="0.95" fill="#1a1a1a"/><circle cx="384.9" cy="410.6" r="0.95" fill="#1a1a1a"/><circle cx="433" cy="410.6" r="0.95" fill="#1a1a1a"/><circle cx="435.7" cy="410.6" r="0.95" fill="#1a1a1a"/><line x1="358" y1="464.8" x2="358" y2="471.8" stroke="#767676" stroke-width="0.9" stroke-dasharray="2,1.5"/><line x1="348.3" y1="464.8" x2="367.7" y2="464.8" stroke="#767676" stroke-width="1.2"/><line x1="358" y1="486.6" x2="358" y2="494.4" stroke="#767676" stroke-width="0.9" stroke-dasharray="2,1.5"/><line x1="348.3" y1="494.4" x2="367.7" y2="494.4" stroke="#767676" stroke-width="1.2"/><rect x="337.5" y="471.8" width="41" height="14.8" fill="none" stroke="#767676" stroke-width="1.2"/><line x1="337.5" y1="481.7" x2="378.5" y2="481.7" stroke="#111" stroke-width="2"/><line x1="409" y1="432.5" x2="409" y2="449.9" stroke="#767676" stroke-width="0.9" stroke-dasharray="2,1.5"/><line x1="398.5" y1="432.5" x2="419.5" y2="432.5" stroke="#767676" stroke-width="1.2"/><line x1="398.5" y1="464.8" x2="419.5" y2="464.8" stroke="#767676" stroke-width="1.2"/><rect x="388.7" y="449.9" width="40.6" height="14.7" fill="none" stroke="#767676" stroke-width="1.2"/><line x1="388.7" y1="458.7" x2="429.3" y2="458.7" stroke="#111" stroke-width="2"/><line x1="460.1" y1="455.2" x2="460.1" y2="468.6" stroke="#767676" stroke-width="0.9" stroke-dasharray="2,1.5"/><line x1="449.7" y1="455.2" x2="470.5" y2="455.2" stroke="#767676" stroke-width="1.2"/><line x1="460.1" y1="514.7" x2="460.1" y2="532.7" stroke="#767676" stroke-width="0.9" stroke-dasharray="2,1.5"/><line x1="449.7" y1="532.7" x2="470.5" y2="532.7" stroke="#767676" stroke-width="1.2"/><rect x="439.8" y="468.6" width="40.6" height="46.1" fill="none" stroke="#767676" stroke-width="1.2"/><line x1="439.8" y1="480.2" x2="480.4" y2="480.2" stroke="#111" stroke-width="2"/><circle cx="357.7" cy="532.9" r="1.6" fill="none" stroke="#444" stroke-width="0.7"/><circle cx="409" cy="532.7" r="1.6" fill="none" stroke="#444" stroke-width="0.7"/><line x1="299.8" y1="499" x2="518.8" y2="499" stroke="#111" stroke-width="1.9" stroke-dasharray="4.9,4.16"/><line x1="358" y1="538.2" x2="358" y2="541.3" stroke="#767676" stroke-width="1"/><line x1="409" y1="538.2" x2="409" y2="541.3" stroke="#767676" stroke-width="1"/><line x1="460" y1="538.2" x2="460" y2="541.3" stroke="#767676" stroke-width="1"/><text x="357.6" y="554.8" font-size="7.8" text-anchor="middle" font-weight="normal" fill="#1a1a1a" font-family='"Liberation Sans", sans-serif' textLength="25.6" lengthAdjust="spacingAndGlyphs" stroke="#1a1a1a" stroke-width="0.18">controls</text><text x="409.2" y="555.8" font-size="7.8" text-anchor="middle" font-weight="normal" fill="#1a1a1a" font-family='"Liberation Sans", sans-serif' textLength="46.6" lengthAdjust="spacingAndGlyphs" stroke="#1a1a1a" stroke-width="0.18">persistent MG</text><text x="459.9" y="555.8" font-size="7.8" text-anchor="middle" font-weight="normal" fill="#1a1a1a" font-family='"Liberation Sans", sans-serif' textLength="43.9" lengthAdjust="spacingAndGlyphs" stroke="#1a1a1a" stroke-width="0.18">transient MG</text><rect x="18.4" y="2.3" width="58.6" height="68.1" fill="none" stroke="#858585" stroke-width="0.9"/><line x1="18.4" y1="70.4" x2="77" y2="70.4" stroke="#4a4a4a" stroke-width="0.9"/><line x1="18.4" y1="2.3" x2="18.4" y2="70.4" stroke="#777" stroke-width="0.9"/><line x1="17.1" y1="4.3" x2="18.4" y2="4.3" stroke="#555" stroke-width="0.6"/><text x="16" y="5.25" font-size="2.7" text-anchor="end" font-weight="bold" fill="#333" font-family='"Liberation Sans", sans-serif' textLength="4.32" lengthAdjust="spacingAndGlyphs">1000</text><line x1="17.1" y1="17.5" x2="18.4" y2="17.5" stroke="#555" stroke-width="0.6"/><text x="16" y="18.45" font-size="2.7" text-anchor="end" font-weight="bold" fill="#333" font-family='"Liberation Sans", sans-serif' textLength="3.24" lengthAdjust="spacingAndGlyphs">800</text><line x1="17.1" y1="31" x2="18.4" y2="31" stroke="#555" stroke-width="0.6"/><text x="16" y="31.95" font-size="2.7" text-anchor="end" font-weight="bold" fill="#333" font-family='"Liberation Sans", sans-serif' textLength="3.24" lengthAdjust="spacingAndGlyphs">600</text><line x1="17.1" y1="44.2" x2="18.4" y2="44.2" stroke="#555" stroke-width="0.6"/><text x="16" y="45.15" font-size="2.7" text-anchor="end" font-weight="bold" fill="#333" font-family='"Liberation Sans", sans-serif' textLength="3.24" lengthAdjust="spacingAndGlyphs">400</text><line x1="17.1" y1="57.5" x2="18.4" y2="57.5" stroke="#555" stroke-width="0.6"/><text x="16" y="58.45" font-size="2.7" text-anchor="end" font-weight="bold" fill="#333" font-family='"Liberation Sans", sans-serif' textLength="3.24" lengthAdjust="spacingAndGlyphs">200</text><line x1="17.1" y1="70.4" x2="18.4" y2="70.4" stroke="#555" stroke-width="0.6"/><text x="16" y="71.35" font-size="2.7" text-anchor="end" font-weight="bold" fill="#333" font-family='"Liberation Sans", sans-serif'>0</text><line x1="19.4" y1="70.4" x2="19.4" y2="71.7" stroke="#555" stroke-width="0.6"/><text x="19.4" y="75.5" font-size="2.7" text-anchor="middle" font-weight="bold" fill="#333" font-family='"Liberation Sans", sans-serif'>1</text><line x1="22.68" y1="70.4" x2="22.68" y2="71.2" stroke="#666" stroke-width="0.4"/><line x1="24.6" y1="70.4" x2="24.6" y2="71.2" stroke="#666" stroke-width="0.4"/><line x1="25.96" y1="70.4" x2="25.96" y2="71.2" stroke="#666" stroke-width="0.4"/><line x1="27.02" y1="70.4" x2="27.02" y2="71.2" stroke="#666" stroke-width="0.4"/><line x1="27.88" y1="70.4" x2="27.88" y2="71.2" stroke="#666" stroke-width="0.4"/><line x1="28.61" y1="70.4" x2="28.61" y2="71.2" stroke="#666" stroke-width="0.4"/><line x1="29.24" y1="70.4" x2="29.24" y2="71.2" stroke="#666" stroke-width="0.4"/><line x1="29.8" y1="70.4" x2="29.8" y2="71.2" stroke="#666" stroke-width="0.4"/><line x1="30.3" y1="70.4" x2="30.3" y2="71.7" stroke="#555" stroke-width="0.6"/><text x="30.3" y="75.5" font-size="2.7" text-anchor="middle" font-weight="bold" fill="#333" font-family='"Liberation Sans", sans-serif'>0</text><line x1="33.64" y1="70.4" x2="33.64" y2="71.2" stroke="#666" stroke-width="0.4"/><line x1="35.6" y1="70.4" x2="35.6" y2="71.2" stroke="#666" stroke-width="0.4"/><line x1="36.98" y1="70.4" x2="36.98" y2="71.2" stroke="#666" stroke-width="0.4"/><line x1="38.06" y1="70.4" x2="38.06" y2="71.2" stroke="#666" stroke-width="0.4"/><line x1="38.94" y1="70.4" x2="38.94" y2="71.2" stroke="#666" stroke-width="0.4"/><line x1="39.68" y1="70.4" x2="39.68" y2="71.2" stroke="#666" stroke-width="0.4"/><line x1="40.32" y1="70.4" x2="40.32" y2="71.2" stroke="#666" stroke-width="0.4"/><line x1="40.89" y1="70.4" x2="40.89" y2="71.2" stroke="#666" stroke-width="0.4"/><line x1="41.4" y1="70.4" x2="41.4" y2="71.7" stroke="#555" stroke-width="0.6"/><text x="41.4" y="75.5" font-size="2.7" text-anchor="middle" font-weight="bold" fill="#333" font-family='"Liberation Sans", sans-serif'>1</text><line x1="45.22" y1="70.4" x2="45.22" y2="71.2" stroke="#666" stroke-width="0.4"/><line x1="47.46" y1="70.4" x2="47.46" y2="71.2" stroke="#666" stroke-width="0.4"/><line x1="49.05" y1="70.4" x2="49.05" y2="71.2" stroke="#666" stroke-width="0.4"/><line x1="50.28" y1="70.4" x2="50.28" y2="71.2" stroke="#666" stroke-width="0.4"/><line x1="51.28" y1="70.4" x2="51.28" y2="71.2" stroke="#666" stroke-width="0.4"/><line x1="52.13" y1="70.4" x2="52.13" y2="71.2" stroke="#666" stroke-width="0.4"/><line x1="52.87" y1="70.4" x2="52.87" y2="71.2" stroke="#666" stroke-width="0.4"/><line x1="53.52" y1="70.4" x2="53.52" y2="71.2" stroke="#666" stroke-width="0.4"/><line x1="54.1" y1="70.4" x2="54.1" y2="71.7" stroke="#555" stroke-width="0.6"/><text x="54.1" y="75.5" font-size="2.7" text-anchor="middle" font-weight="bold" fill="#333" font-family='"Liberation Sans", sans-serif'>10</text><line x1="57.5" y1="70.4" x2="57.5" y2="71.2" stroke="#666" stroke-width="0.4"/><line x1="59.49" y1="70.4" x2="59.49" y2="71.2" stroke="#666" stroke-width="0.4"/><line x1="60.9" y1="70.4" x2="60.9" y2="71.2" stroke="#666" stroke-width="0.4"/><line x1="62" y1="70.4" x2="62" y2="71.2" stroke="#666" stroke-width="0.4"/><line x1="62.89" y1="70.4" x2="62.89" y2="71.2" stroke="#666" stroke-width="0.4"/><line x1="63.65" y1="70.4" x2="63.65" y2="71.2" stroke="#666" stroke-width="0.4"/><line x1="64.3" y1="70.4" x2="64.3" y2="71.2" stroke="#666" stroke-width="0.4"/><line x1="64.88" y1="70.4" x2="64.88" y2="71.2" stroke="#666" stroke-width="0.4"/><line x1="65.4" y1="70.4" x2="65.4" y2="71.7" stroke="#555" stroke-width="0.6"/><text x="65.4" y="75.5" font-size="2.7" text-anchor="middle" font-weight="bold" fill="#333" font-family='"Liberation Sans", sans-serif'>10</text><line x1="68.59" y1="70.4" x2="68.59" y2="71.2" stroke="#666" stroke-width="0.4"/><line x1="70.46" y1="70.4" x2="70.46" y2="71.2" stroke="#666" stroke-width="0.4"/><line x1="71.78" y1="70.4" x2="71.78" y2="71.2" stroke="#666" stroke-width="0.4"/><line x1="72.81" y1="70.4" x2="72.81" y2="71.2" stroke="#666" stroke-width="0.4"/><line x1="73.65" y1="70.4" x2="73.65" y2="71.2" stroke="#666" stroke-width="0.4"/><line x1="74.36" y1="70.4" x2="74.36" y2="71.2" stroke="#666" stroke-width="0.4"/><line x1="74.97" y1="70.4" x2="74.97" y2="71.2" stroke="#666" stroke-width="0.4"/><line x1="75.51" y1="70.4" x2="75.51" y2="71.2" stroke="#666" stroke-width="0.4"/><line x1="76" y1="70.4" x2="76" y2="71.7" stroke="#555" stroke-width="0.6"/><text x="76" y="75.5" font-size="2.7" text-anchor="middle" font-weight="bold" fill="#333" font-family='"Liberation Sans", sans-serif'>10</text><text x="47.2" y="82.1" font-size="4.7" text-anchor="middle" font-weight="bold" fill="#111" stroke="#111" stroke-width="0.22" font-family='"Liberation Sans", sans-serif' textLength="14.5" lengthAdjust="spacingAndGlyphs">CD19 PC7</text><text transform="translate(9.4 36.8) rotate(-90)" x="0" y="0" font-size="4.6" text-anchor="middle" font-weight="bold" fill="#111" font-family='"Liberation Sans", sans-serif' textLength="4.3" lengthAdjust="spacingAndGlyphs" stroke="#111" stroke-width="0.2">SS</text><line x1="40.5" y1="2.3" x2="40.5" y2="70.4" stroke="#555" stroke-width="0.8"/><line x1="70.7" y1="2.3" x2="70.7" y2="70.4" stroke="#555" stroke-width="0.8"/><rect x="52.4" y="8.4" width="11.6" height="4.6" fill="#fff" stroke="#ddd" stroke-width="0.5"/><text x="58.2" y="12" font-size="3.6" text-anchor="middle" font-weight="bold" fill="#111" font-family='"Liberation Sans", sans-serif' textLength="10" lengthAdjust="spacingAndGlyphs" stroke="#111" stroke-width="0.12">B cells</text><rect x="18.4" y="89.3" width="58.6" height="67.3" fill="none" stroke="#858585" stroke-width="0.9"/><line x1="18.4" y1="156.6" x2="77" y2="156.6" stroke="#4a4a4a" stroke-width="0.9"/><line x1="18.4" y1="89.3" x2="18.4" y2="156.6" stroke="#777" stroke-width="0.9"/><line x1="17.1" y1="91.1" x2="18.4" y2="91.1" stroke="#555" stroke-width="0.6"/><text x="16" y="92.05" font-size="2.7" text-anchor="end" font-weight="bold" fill="#333" font-family='"Liberation Sans", sans-serif' textLength="4.32" lengthAdjust="spacingAndGlyphs">1000</text><line x1="17.1" y1="104.4" x2="18.4" y2="104.4" stroke="#555" stroke-width="0.6"/><text x="16" y="105.35" font-size="2.7" text-anchor="end" font-weight="bold" fill="#333" font-family='"Liberation Sans", sans-serif' textLength="3.24" lengthAdjust="spacingAndGlyphs">800</text><line x1="17.1" y1="117.3" x2="18.4" y2="117.3" stroke="#555" stroke-width="0.6"/><text x="16" y="118.25" font-size="2.7" text-anchor="end" font-weight="bold" fill="#333" font-family='"Liberation Sans", sans-serif' textLength="3.24" lengthAdjust="spacingAndGlyphs">600</text><line x1="17.1" y1="130.4" x2="18.4" y2="130.4" stroke="#555" stroke-width="0.6"/><text x="16" y="131.35" font-size="2.7" text-anchor="end" font-weight="bold" fill="#333" font-family='"Liberation Sans", sans-serif' textLength="3.24" lengthAdjust="spacingAndGlyphs">400</text><line x1="17.1" y1="143.8" x2="18.4" y2="143.8" stroke="#555" stroke-width="0.6"/><text x="16" y="144.75" font-size="2.7" text-anchor="end" font-weight="bold" fill="#333" font-family='"Liberation Sans", sans-serif' textLength="3.24" lengthAdjust="spacingAndGlyphs">200</text><line x1="17.1" y1="156.6" x2="18.4" y2="156.6" stroke="#555" stroke-width="0.6"/><text x="16" y="157.55" font-size="2.7" text-anchor="end" font-weight="bold" fill="#333" font-family='"Liberation Sans", sans-serif'>0</text><line x1="19.4" y1="156.6" x2="19.4" y2="157.9" stroke="#555" stroke-width="0.6"/><text x="19.4" y="161.9" font-size="2.7" text-anchor="middle" font-weight="bold" fill="#333" font-family='"Liberation Sans", sans-serif'>1</text><line x1="22.68" y1="156.6" x2="22.68" y2="157.4" stroke="#666" stroke-width="0.4"/><line x1="24.6" y1="156.6" x2="24.6" y2="157.4" stroke="#666" stroke-width="0.4"/><line x1="25.96" y1="156.6" x2="25.96" y2="157.4" stroke="#666" stroke-width="0.4"/><line x1="27.02" y1="156.6" x2="27.02" y2="157.4" stroke="#666" stroke-width="0.4"/><line x1="27.88" y1="156.6" x2="27.88" y2="157.4" stroke="#666" stroke-width="0.4"/><line x1="28.61" y1="156.6" x2="28.61" y2="157.4" stroke="#666" stroke-width="0.4"/><line x1="29.24" y1="156.6" x2="29.24" y2="157.4" stroke="#666" stroke-width="0.4"/><line x1="29.8" y1="156.6" x2="29.8" y2="157.4" stroke="#666" stroke-width="0.4"/><line x1="30.3" y1="156.6" x2="30.3" y2="157.9" stroke="#555" stroke-width="0.6"/><text x="30.3" y="161.9" font-size="2.7" text-anchor="middle" font-weight="bold" fill="#333" font-family='"Liberation Sans", sans-serif'>0</text><line x1="33.64" y1="156.6" x2="33.64" y2="157.4" stroke="#666" stroke-width="0.4"/><line x1="35.6" y1="156.6" x2="35.6" y2="157.4" stroke="#666" stroke-width="0.4"/><line x1="36.98" y1="156.6" x2="36.98" y2="157.4" stroke="#666" stroke-width="0.4"/><line x1="38.06" y1="156.6" x2="38.06" y2="157.4" stroke="#666" stroke-width="0.4"/><line x1="38.94" y1="156.6" x2="38.94" y2="157.4" stroke="#666" stroke-width="0.4"/><line x1="39.68" y1="156.6" x2="39.68" y2="157.4" stroke="#666" stroke-width="0.4"/><line x1="40.32" y1="156.6" x2="40.32" y2="157.4" stroke="#666" stroke-width="0.4"/><line x1="40.89" y1="156.6" x2="40.89" y2="157.4" stroke="#666" stroke-width="0.4"/><line x1="41.4" y1="156.6" x2="41.4" y2="157.9" stroke="#555" stroke-width="0.6"/><text x="41.4" y="161.9" font-size="2.7" text-anchor="middle" font-weight="bold" fill="#333" font-family='"Liberation Sans", sans-serif'>1</text><line x1="45.22" y1="156.6" x2="45.22" y2="157.4" stroke="#666" stroke-width="0.4"/><line x1="47.46" y1="156.6" x2="47.46" y2="157.4" stroke="#666" stroke-width="0.4"/><line x1="49.05" y1="156.6" x2="49.05" y2="157.4" stroke="#666" stroke-width="0.4"/><line x1="50.28" y1="156.6" x2="50.28" y2="157.4" stroke="#666" stroke-width="0.4"/><line x1="51.28" y1="156.6" x2="51.28" y2="157.4" stroke="#666" stroke-width="0.4"/><line x1="52.13" y1="156.6" x2="52.13" y2="157.4" stroke="#666" stroke-width="0.4"/><line x1="52.87" y1="156.6" x2="52.87" y2="157.4" stroke="#666" stroke-width="0.4"/><line x1="53.52" y1="156.6" x2="53.52" y2="157.4" stroke="#666" stroke-width="0.4"/><line x1="54.1" y1="156.6" x2="54.1" y2="157.9" stroke="#555" stroke-width="0.6"/><text x="54.1" y="161.9" font-size="2.7" text-anchor="middle" font-weight="bold" fill="#333" font-family='"Liberation Sans", sans-serif'>10</text><line x1="57.5" y1="156.6" x2="57.5" y2="157.4" stroke="#666" stroke-width="0.4"/><line x1="59.49" y1="156.6" x2="59.49" y2="157.4" stroke="#666" stroke-width="0.4"/><line x1="60.9" y1="156.6" x2="60.9" y2="157.4" stroke="#666" stroke-width="0.4"/><line x1="62" y1="156.6" x2="62" y2="157.4" stroke="#666" stroke-width="0.4"/><line x1="62.89" y1="156.6" x2="62.89" y2="157.4" stroke="#666" stroke-width="0.4"/><line x1="63.65" y1="156.6" x2="63.65" y2="157.4" stroke="#666" stroke-width="0.4"/><line x1="64.3" y1="156.6" x2="64.3" y2="157.4" stroke="#666" stroke-width="0.4"/><line x1="64.88" y1="156.6" x2="64.88" y2="157.4" stroke="#666" stroke-width="0.4"/><line x1="65.4" y1="156.6" x2="65.4" y2="157.9" stroke="#555" stroke-width="0.6"/><text x="65.4" y="161.9" font-size="2.7" text-anchor="middle" font-weight="bold" fill="#333" font-family='"Liberation Sans", sans-serif'>10</text><line x1="68.59" y1="156.6" x2="68.59" y2="157.4" stroke="#666" stroke-width="0.4"/><line x1="70.46" y1="156.6" x2="70.46" y2="157.4" stroke="#666" stroke-width="0.4"/><line x1="71.78" y1="156.6" x2="71.78" y2="157.4" stroke="#666" stroke-width="0.4"/><line x1="72.81" y1="156.6" x2="72.81" y2="157.4" stroke="#666" stroke-width="0.4"/><line x1="73.65" y1="156.6" x2="73.65" y2="157.4" stroke="#666" stroke-width="0.4"/><line x1="74.36" y1="156.6" x2="74.36" y2="157.4" stroke="#666" stroke-width="0.4"/><line x1="74.97" y1="156.6" x2="74.97" y2="157.4" stroke="#666" stroke-width="0.4"/><line x1="75.51" y1="156.6" x2="75.51" y2="157.4" stroke="#666" stroke-width="0.4"/><line x1="76" y1="156.6" x2="76" y2="157.9" stroke="#555" stroke-width="0.6"/><text x="76" y="161.9" font-size="2.7" text-anchor="middle" font-weight="bold" fill="#333" font-family='"Liberation Sans", sans-serif'>10</text><text x="47.8" y="168.1" font-size="4.7" text-anchor="middle" font-weight="bold" fill="#111" stroke="#111" stroke-width="0.22" font-family='"Liberation Sans", sans-serif' textLength="14.5" lengthAdjust="spacingAndGlyphs">CD19 PC7</text><text transform="translate(9.4 123.8) rotate(-90)" x="0" y="0" font-size="4.6" text-anchor="middle" font-weight="bold" fill="#111" font-family='"Liberation Sans", sans-serif' textLength="4.3" lengthAdjust="spacingAndGlyphs" stroke="#111" stroke-width="0.2">SS</text><line x1="40.5" y1="89.3" x2="40.5" y2="156.6" stroke="#555" stroke-width="0.8"/><line x1="70.5" y1="89.3" x2="70.5" y2="156.6" stroke="#555" stroke-width="0.8"/><rect x="56.5" y="100" width="12.2" height="3.8" fill="#fff" stroke="#ddd" stroke-width="0.5"/><text x="62.6" y="103.2" font-size="3.6" text-anchor="middle" font-weight="bold" fill="#111" font-family='"Liberation Sans", sans-serif' textLength="10.6" lengthAdjust="spacingAndGlyphs" stroke="#111" stroke-width="0.12">B cells</text><rect x="106.2" y="2.3" width="58.8" height="68.5" fill="none" stroke="#858585" stroke-width="0.9"/><line x1="106.2" y1="70.8" x2="165" y2="70.8" stroke="#4a4a4a" stroke-width="0.9"/><line x1="106.2" y1="2.3" x2="106.2" y2="70.8" stroke="#777" stroke-width="0.9"/><line x1="104.9" y1="4.3" x2="106.2" y2="4.3" stroke="#555" stroke-width="0.6"/><text x="103.6" y="5.25" font-size="2.7" text-anchor="end" font-weight="bold" fill="#333" font-family='"Liberation Sans", sans-serif' textLength="4.32" lengthAdjust="spacingAndGlyphs">1000</text><line x1="104.9" y1="17.4" x2="106.2" y2="17.4" stroke="#555" stroke-width="0.6"/><text x="103.6" y="18.35" font-size="2.7" text-anchor="end" font-weight="bold" fill="#333" font-family='"Liberation Sans", sans-serif' textLength="3.24" lengthAdjust="spacingAndGlyphs">800</text><line x1="104.9" y1="30.8" x2="106.2" y2="30.8" stroke="#555" stroke-width="0.6"/><text x="103.6" y="31.75" font-size="2.7" text-anchor="end" font-weight="bold" fill="#333" font-family='"Liberation Sans", sans-serif' textLength="3.24" lengthAdjust="spacingAndGlyphs">600</text><line x1="104.9" y1="44.2" x2="106.2" y2="44.2" stroke="#555" stroke-width="0.6"/><text x="103.6" y="45.15" font-size="2.7" text-anchor="end" font-weight="bold" fill="#333" font-family='"Liberation Sans", sans-serif' textLength="3.24" lengthAdjust="spacingAndGlyphs">400</text><line x1="104.9" y1="57.4" x2="106.2" y2="57.4" stroke="#555" stroke-width="0.6"/><text x="103.6" y="58.35" font-size="2.7" text-anchor="end" font-weight="bold" fill="#333" font-family='"Liberation Sans", sans-serif' textLength="3.24" lengthAdjust="spacingAndGlyphs">200</text><line x1="104.9" y1="70.8" x2="106.2" y2="70.8" stroke="#555" stroke-width="0.6"/><text x="103.6" y="71.75" font-size="2.7" text-anchor="end" font-weight="bold" fill="#333" font-family='"Liberation Sans", sans-serif'>0</text><line x1="112.8" y1="70.8" x2="112.8" y2="72.1" stroke="#555" stroke-width="0.6"/><text x="112.8" y="75.2" font-size="2.7" text-anchor="middle" font-weight="bold" fill="#333" font-family='"Liberation Sans", sans-serif'>0</text><line x1="116.23" y1="70.8" x2="116.23" y2="71.6" stroke="#666" stroke-width="0.4"/><line x1="118.24" y1="70.8" x2="118.24" y2="71.6" stroke="#666" stroke-width="0.4"/><line x1="119.66" y1="70.8" x2="119.66" y2="71.6" stroke="#666" stroke-width="0.4"/><line x1="120.77" y1="70.8" x2="120.77" y2="71.6" stroke="#666" stroke-width="0.4"/><line x1="121.67" y1="70.8" x2="121.67" y2="71.6" stroke="#666" stroke-width="0.4"/><line x1="122.43" y1="70.8" x2="122.43" y2="71.6" stroke="#666" stroke-width="0.4"/><line x1="123.1" y1="70.8" x2="123.1" y2="71.6" stroke="#666" stroke-width="0.4"/><line x1="123.68" y1="70.8" x2="123.68" y2="71.6" stroke="#666" stroke-width="0.4"/><line x1="124.2" y1="70.8" x2="124.2" y2="72.1" stroke="#555" stroke-width="0.6"/><text x="124.2" y="75.2" font-size="2.7" text-anchor="middle" font-weight="bold" fill="#333" font-family='"Liberation Sans", sans-serif'>10</text><line x1="128.66" y1="70.8" x2="128.66" y2="71.6" stroke="#666" stroke-width="0.4"/><line x1="131.26" y1="70.8" x2="131.26" y2="71.6" stroke="#666" stroke-width="0.4"/><line x1="133.11" y1="70.8" x2="133.11" y2="71.6" stroke="#666" stroke-width="0.4"/><line x1="134.54" y1="70.8" x2="134.54" y2="71.6" stroke="#666" stroke-width="0.4"/><line x1="135.72" y1="70.8" x2="135.72" y2="71.6" stroke="#666" stroke-width="0.4"/><line x1="136.71" y1="70.8" x2="136.71" y2="71.6" stroke="#666" stroke-width="0.4"/><line x1="137.57" y1="70.8" x2="137.57" y2="71.6" stroke="#666" stroke-width="0.4"/><line x1="138.32" y1="70.8" x2="138.32" y2="71.6" stroke="#666" stroke-width="0.4"/><line x1="139" y1="70.8" x2="139" y2="72.1" stroke="#555" stroke-width="0.6"/><text x="139" y="75.2" font-size="2.7" text-anchor="middle" font-weight="bold" fill="#333" font-family='"Liberation Sans", sans-serif'>10</text><line x1="142.91" y1="70.8" x2="142.91" y2="71.6" stroke="#666" stroke-width="0.4"/><line x1="145.2" y1="70.8" x2="145.2" y2="71.6" stroke="#666" stroke-width="0.4"/><line x1="146.83" y1="70.8" x2="146.83" y2="71.6" stroke="#666" stroke-width="0.4"/><line x1="148.09" y1="70.8" x2="148.09" y2="71.6" stroke="#666" stroke-width="0.4"/><line x1="149.12" y1="70.8" x2="149.12" y2="71.6" stroke="#666" stroke-width="0.4"/><line x1="149.99" y1="70.8" x2="149.99" y2="71.6" stroke="#666" stroke-width="0.4"/><line x1="150.74" y1="70.8" x2="150.74" y2="71.6" stroke="#666" stroke-width="0.4"/><line x1="151.41" y1="70.8" x2="151.41" y2="71.6" stroke="#666" stroke-width="0.4"/><line x1="152" y1="70.8" x2="152" y2="72.1" stroke="#555" stroke-width="0.6"/><text x="152" y="75.2" font-size="2.7" text-anchor="middle" font-weight="bold" fill="#333" font-family='"Liberation Sans", sans-serif'>10</text><line x1="155.91" y1="70.8" x2="155.91" y2="71.6" stroke="#666" stroke-width="0.4"/><line x1="158.2" y1="70.8" x2="158.2" y2="71.6" stroke="#666" stroke-width="0.4"/><line x1="159.83" y1="70.8" x2="159.83" y2="71.6" stroke="#666" stroke-width="0.4"/><line x1="161.09" y1="70.8" x2="161.09" y2="71.6" stroke="#666" stroke-width="0.4"/><line x1="162.12" y1="70.8" x2="162.12" y2="71.6" stroke="#666" stroke-width="0.4"/><line x1="162.99" y1="70.8" x2="162.99" y2="71.6" stroke="#666" stroke-width="0.4"/><line x1="163.74" y1="70.8" x2="163.74" y2="71.6" stroke="#666" stroke-width="0.4"/><line x1="164.41" y1="70.8" x2="164.41" y2="71.6" stroke="#666" stroke-width="0.4"/><line x1="165" y1="70.8" x2="165" y2="72.1" stroke="#555" stroke-width="0.6"/><text x="165" y="75.2" font-size="2.7" text-anchor="middle" font-weight="bold" fill="#333" font-family='"Liberation Sans", sans-serif'>10</text><text x="135.4" y="82.3" font-size="4.7" text-anchor="middle" font-weight="bold" fill="#111" stroke="#111" stroke-width="0.22" font-family='"Liberation Sans", sans-serif' textLength="16.6" lengthAdjust="spacingAndGlyphs">CD20 FITC</text><text transform="translate(97.2 36.7) rotate(-90)" x="0" y="0" font-size="4.6" text-anchor="middle" font-weight="bold" fill="#111" font-family='"Liberation Sans", sans-serif' textLength="4.5" lengthAdjust="spacingAndGlyphs" stroke="#111" stroke-width="0.2">FL</text><rect x="106.2" y="2.3" width="20.3" height="48.9" fill="none" stroke="#606060" stroke-width="0.8"/><text x="117.5" y="8.3" font-size="3.6" text-anchor="middle" font-weight="bold" fill="#111" font-family='"Liberation Sans", sans-serif' stroke="#111" stroke-width="0.12">2.0%</text><rect x="113.8" y="61.5" width="48.5" height="5.5" fill="#fff" stroke="#ccc" stroke-width="0.5"/><text x="138.05" y="65.55" font-size="3.6" text-anchor="middle" font-weight="bold" fill="#111" font-family='"Liberation Sans", sans-serif' textLength="46.9" lengthAdjust="spacingAndGlyphs" stroke="#111" stroke-width="0.12">Plasmablasts / Plasma cells</text><rect x="106.2" y="89.3" width="58.8" height="68.5" fill="none" stroke="#858585" stroke-width="0.9"/><line x1="106.2" y1="157.8" x2="165" y2="157.8" stroke="#4a4a4a" stroke-width="0.9"/><line x1="106.2" y1="89.3" x2="106.2" y2="157.8" stroke="#777" stroke-width="0.9"/><line x1="104.9" y1="90.8" x2="106.2" y2="90.8" stroke="#555" stroke-width="0.6"/><text x="103.6" y="91.75" font-size="2.7" text-anchor="end" font-weight="bold" fill="#333" font-family='"Liberation Sans", sans-serif' textLength="4.32" lengthAdjust="spacingAndGlyphs">1000</text><line x1="104.9" y1="104.5" x2="106.2" y2="104.5" stroke="#555" stroke-width="0.6"/><text x="103.6" y="105.45" font-size="2.7" text-anchor="end" font-weight="bold" fill="#333" font-family='"Liberation Sans", sans-serif' textLength="3.24" lengthAdjust="spacingAndGlyphs">800</text><line x1="104.9" y1="117.6" x2="106.2" y2="117.6" stroke="#555" stroke-width="0.6"/><text x="103.6" y="118.55" font-size="2.7" text-anchor="end" font-weight="bold" fill="#333" font-family='"Liberation Sans", sans-serif' textLength="3.24" lengthAdjust="spacingAndGlyphs">600</text><line x1="104.9" y1="131.2" x2="106.2" y2="131.2" stroke="#555" stroke-width="0.6"/><text x="103.6" y="132.15" font-size="2.7" text-anchor="end" font-weight="bold" fill="#333" font-family='"Liberation Sans", sans-serif' textLength="3.24" lengthAdjust="spacingAndGlyphs">400</text><line x1="104.9" y1="144.7" x2="106.2" y2="144.7" stroke="#555" stroke-width="0.6"/><text x="103.6" y="145.65" font-size="2.7" text-anchor="end" font-weight="bold" fill="#333" font-family='"Liberation Sans", sans-serif' textLength="3.24" lengthAdjust="spacingAndGlyphs">200</text><line x1="104.9" y1="157.8" x2="106.2" y2="157.8" stroke="#555" stroke-width="0.6"/><text x="103.6" y="158.75" font-size="2.7" text-anchor="end" font-weight="bold" fill="#333" font-family='"Liberation Sans", sans-serif'>0</text><line x1="112.8" y1="157.8" x2="112.8" y2="159.1" stroke="#555" stroke-width="0.6"/><text x="112.8" y="162.3" font-size="2.7" text-anchor="middle" font-weight="bold" fill="#333" font-family='"Liberation Sans", sans-serif'>0</text><line x1="116.23" y1="157.8" x2="116.23" y2="158.6" stroke="#666" stroke-width="0.4"/><line x1="118.24" y1="157.8" x2="118.24" y2="158.6" stroke="#666" stroke-width="0.4"/><line x1="119.66" y1="157.8" x2="119.66" y2="158.6" stroke="#666" stroke-width="0.4"/><line x1="120.77" y1="157.8" x2="120.77" y2="158.6" stroke="#666" stroke-width="0.4"/><line x1="121.67" y1="157.8" x2="121.67" y2="158.6" stroke="#666" stroke-width="0.4"/><line x1="122.43" y1="157.8" x2="122.43" y2="158.6" stroke="#666" stroke-width="0.4"/><line x1="123.1" y1="157.8" x2="123.1" y2="158.6" stroke="#666" stroke-width="0.4"/><line x1="123.68" y1="157.8" x2="123.68" y2="158.6" stroke="#666" stroke-width="0.4"/><line x1="124.2" y1="157.8" x2="124.2" y2="159.1" stroke="#555" stroke-width="0.6"/><text x="124.2" y="162.3" font-size="2.7" text-anchor="middle" font-weight="bold" fill="#333" font-family='"Liberation Sans", sans-serif'>10</text><line x1="128.66" y1="157.8" x2="128.66" y2="158.6" stroke="#666" stroke-width="0.4"/><line x1="131.26" y1="157.8" x2="131.26" y2="158.6" stroke="#666" stroke-width="0.4"/><line x1="133.11" y1="157.8" x2="133.11" y2="158.6" stroke="#666" stroke-width="0.4"/><line x1="134.54" y1="157.8" x2="134.54" y2="158.6" stroke="#666" stroke-width="0.4"/><line x1="135.72" y1="157.8" x2="135.72" y2="158.6" stroke="#666" stroke-width="0.4"/><line x1="136.71" y1="157.8" x2="136.71" y2="158.6" stroke="#666" stroke-width="0.4"/><line x1="137.57" y1="157.8" x2="137.57" y2="158.6" stroke="#666" stroke-width="0.4"/><line x1="138.32" y1="157.8" x2="138.32" y2="158.6" stroke="#666" stroke-width="0.4"/><line x1="139" y1="157.8" x2="139" y2="159.1" stroke="#555" stroke-width="0.6"/><text x="139" y="162.3" font-size="2.7" text-anchor="middle" font-weight="bold" fill="#333" font-family='"Liberation Sans", sans-serif'>10</text><line x1="142.91" y1="157.8" x2="142.91" y2="158.6" stroke="#666" stroke-width="0.4"/><line x1="145.2" y1="157.8" x2="145.2" y2="158.6" stroke="#666" stroke-width="0.4"/><line x1="146.83" y1="157.8" x2="146.83" y2="158.6" stroke="#666" stroke-width="0.4"/><line x1="148.09" y1="157.8" x2="148.09" y2="158.6" stroke="#666" stroke-width="0.4"/><line x1="149.12" y1="157.8" x2="149.12" y2="158.6" stroke="#666" stroke-width="0.4"/><line x1="149.99" y1="157.8" x2="149.99" y2="158.6" stroke="#666" stroke-width="0.4"/><line x1="150.74" y1="157.8" x2="150.74" y2="158.6" stroke="#666" stroke-width="0.4"/><line x1="151.41" y1="157.8" x2="151.41" y2="158.6" stroke="#666" stroke-width="0.4"/><line x1="152" y1="157.8" x2="152" y2="159.1" stroke="#555" stroke-width="0.6"/><text x="152" y="162.3" font-size="2.7" text-anchor="middle" font-weight="bold" fill="#333" font-family='"Liberation Sans", sans-serif'>10</text><line x1="155.91" y1="157.8" x2="155.91" y2="158.6" stroke="#666" stroke-width="0.4"/><line x1="158.2" y1="157.8" x2="158.2" y2="158.6" stroke="#666" stroke-width="0.4"/><line x1="159.83" y1="157.8" x2="159.83" y2="158.6" stroke="#666" stroke-width="0.4"/><line x1="161.09" y1="157.8" x2="161.09" y2="158.6" stroke="#666" stroke-width="0.4"/><line x1="162.12" y1="157.8" x2="162.12" y2="158.6" stroke="#666" stroke-width="0.4"/><line x1="162.99" y1="157.8" x2="162.99" y2="158.6" stroke="#666" stroke-width="0.4"/><line x1="163.74" y1="157.8" x2="163.74" y2="158.6" stroke="#666" stroke-width="0.4"/><line x1="164.41" y1="157.8" x2="164.41" y2="158.6" stroke="#666" stroke-width="0.4"/><line x1="165" y1="157.8" x2="165" y2="159.1" stroke="#555" stroke-width="0.6"/><text x="165" y="162.3" font-size="2.7" text-anchor="middle" font-weight="bold" fill="#333" font-family='"Liberation Sans", sans-serif'>10</text><text x="135.4" y="168.6" font-size="4.7" text-anchor="middle" font-weight="bold" fill="#111" stroke="#111" stroke-width="0.22" font-family='"Liberation Sans", sans-serif' textLength="16.6" lengthAdjust="spacingAndGlyphs">CD20 FITC</text><text transform="translate(97.2 123.8) rotate(-90)" x="0" y="0" font-size="4.6" text-anchor="middle" font-weight="bold" fill="#111" font-family='"Liberation Sans", sans-serif' textLength="4.5" lengthAdjust="spacingAndGlyphs" stroke="#111" stroke-width="0.2">FL</text><rect x="106.2" y="89.3" width="20.3" height="49.9" fill="none" stroke="#606060" stroke-width="0.8"/><text x="117" y="96.3" font-size="3.6" text-anchor="middle" font-weight="bold" fill="#111" font-family='"Liberation Sans", sans-serif' stroke="#111" stroke-width="0.12">4.07%</text><rect x="113.4" y="147.8" width="47.4" height="5.2" fill="#fff" stroke="#ccc" stroke-width="0.5"/><text x="137.1" y="151.7" font-size="3.6" text-anchor="middle" font-weight="bold" fill="#111" font-family='"Liberation Sans", sans-serif' textLength="45.8" lengthAdjust="spacingAndGlyphs" stroke="#111" stroke-width="0.12">Plasmablasts / Plasma cells</text><rect x="194.1" y="2.5" width="57.4" height="69.4" fill="none" stroke="#858585" stroke-width="0.9"/><line x1="194.1" y1="71.9" x2="251.5" y2="71.9" stroke="#4a4a4a" stroke-width="0.9"/><line x1="194.1" y1="2.5" x2="194.1" y2="71.9" stroke="#777" stroke-width="0.9"/><line x1="192.8" y1="2.8" x2="194.1" y2="2.8" stroke="#555" stroke-width="0.6"/><text x="191.6" y="3.75" font-size="2.7" text-anchor="end" font-weight="bold" fill="#333" font-family='"Liberation Sans", sans-serif'>10</text><line x1="192.8" y1="15.2" x2="194.1" y2="15.2" stroke="#555" stroke-width="0.6"/><text x="191.6" y="16.15" font-size="2.7" text-anchor="end" font-weight="bold" fill="#333" font-family='"Liberation Sans", sans-serif'>10</text><line x1="192.8" y1="28.1" x2="194.1" y2="28.1" stroke="#555" stroke-width="0.6"/><text x="191.6" y="29.05" font-size="2.7" text-anchor="end" font-weight="bold" fill="#333" font-family='"Liberation Sans", sans-serif'>10</text><line x1="192.8" y1="40.9" x2="194.1" y2="40.9" stroke="#555" stroke-width="0.6"/><text x="191.6" y="41.85" font-size="2.7" text-anchor="end" font-weight="bold" fill="#333" font-family='"Liberation Sans", sans-serif'>10</text><line x1="192.8" y1="55.2" x2="194.1" y2="55.2" stroke="#555" stroke-width="0.6"/><text x="191.6" y="56.15" font-size="2.7" text-anchor="end" font-weight="bold" fill="#333" font-family='"Liberation Sans", sans-serif'>10</text><line x1="192.8" y1="65" x2="194.1" y2="65" stroke="#555" stroke-width="0.6"/><text x="191.6" y="65.95" font-size="2.7" text-anchor="end" font-weight="bold" fill="#333" font-family='"Liberation Sans", sans-serif'>0</text><line x1="192.8" y1="71.1" x2="194.1" y2="71.1" stroke="#555" stroke-width="0.6"/><text x="191.6" y="72.05" font-size="2.7" text-anchor="end" font-weight="bold" fill="#333" font-family='"Liberation Sans", sans-serif' textLength="5.4" lengthAdjust="spacingAndGlyphs">-0.05</text><line x1="199.2" y1="71.9" x2="199.2" y2="73.2" stroke="#555" stroke-width="0.6"/><text x="199.2" y="77.1" font-size="2.7" text-anchor="middle" font-weight="bold" fill="#333" font-family='"Liberation Sans", sans-serif'>0</text><line x1="203.14" y1="71.9" x2="203.14" y2="72.7" stroke="#666" stroke-width="0.4"/><line x1="205.45" y1="71.9" x2="205.45" y2="72.7" stroke="#666" stroke-width="0.4"/><line x1="207.09" y1="71.9" x2="207.09" y2="72.7" stroke="#666" stroke-width="0.4"/><line x1="208.36" y1="71.9" x2="208.36" y2="72.7" stroke="#666" stroke-width="0.4"/><line x1="209.39" y1="71.9" x2="209.39" y2="72.7" stroke="#666" stroke-width="0.4"/><line x1="210.27" y1="71.9" x2="210.27" y2="72.7" stroke="#666" stroke-width="0.4"/><line x1="211.03" y1="71.9" x2="211.03" y2="72.7" stroke="#666" stroke-width="0.4"/><line x1="211.7" y1="71.9" x2="211.7" y2="72.7" stroke="#666" stroke-width="0.4"/><line x1="212.3" y1="71.9" x2="212.3" y2="73.2" stroke="#555" stroke-width="0.6"/><text x="212.3" y="77.1" font-size="2.7" text-anchor="middle" font-weight="bold" fill="#333" font-family='"Liberation Sans", sans-serif'>10</text><line x1="216.21" y1="71.9" x2="216.21" y2="72.7" stroke="#666" stroke-width="0.4"/><line x1="218.5" y1="71.9" x2="218.5" y2="72.7" stroke="#666" stroke-width="0.4"/><line x1="220.13" y1="71.9" x2="220.13" y2="72.7" stroke="#666" stroke-width="0.4"/><line x1="221.39" y1="71.9" x2="221.39" y2="72.7" stroke="#666" stroke-width="0.4"/><line x1="222.42" y1="71.9" x2="222.42" y2="72.7" stroke="#666" stroke-width="0.4"/><line x1="223.29" y1="71.9" x2="223.29" y2="72.7" stroke="#666" stroke-width="0.4"/><line x1="224.04" y1="71.9" x2="224.04" y2="72.7" stroke="#666" stroke-width="0.4"/><line x1="224.71" y1="71.9" x2="224.71" y2="72.7" stroke="#666" stroke-width="0.4"/><line x1="225.3" y1="71.9" x2="225.3" y2="73.2" stroke="#555" stroke-width="0.6"/><text x="225.3" y="77.1" font-size="2.7" text-anchor="middle" font-weight="bold" fill="#333" font-family='"Liberation Sans", sans-serif'>10</text><line x1="229.24" y1="71.9" x2="229.24" y2="72.7" stroke="#666" stroke-width="0.4"/><line x1="231.55" y1="71.9" x2="231.55" y2="72.7" stroke="#666" stroke-width="0.4"/><line x1="233.19" y1="71.9" x2="233.19" y2="72.7" stroke="#666" stroke-width="0.4"/><line x1="234.46" y1="71.9" x2="234.46" y2="72.7" stroke="#666" stroke-width="0.4"/><line x1="235.49" y1="71.9" x2="235.49" y2="72.7" stroke="#666" stroke-width="0.4"/><line x1="236.37" y1="71.9" x2="236.37" y2="72.7" stroke="#666" stroke-width="0.4"/><line x1="237.13" y1="71.9" x2="237.13" y2="72.7" stroke="#666" stroke-width="0.4"/><line x1="237.8" y1="71.9" x2="237.8" y2="72.7" stroke="#666" stroke-width="0.4"/><line x1="238.4" y1="71.9" x2="238.4" y2="73.2" stroke="#555" stroke-width="0.6"/><text x="238.4" y="77.1" font-size="2.7" text-anchor="middle" font-weight="bold" fill="#333" font-family='"Liberation Sans", sans-serif'>10</text><line x1="242.19" y1="71.9" x2="242.19" y2="72.7" stroke="#666" stroke-width="0.4"/><line x1="244.41" y1="71.9" x2="244.41" y2="72.7" stroke="#666" stroke-width="0.4"/><line x1="245.99" y1="71.9" x2="245.99" y2="72.7" stroke="#666" stroke-width="0.4"/><line x1="247.21" y1="71.9" x2="247.21" y2="72.7" stroke="#666" stroke-width="0.4"/><line x1="248.2" y1="71.9" x2="248.2" y2="72.7" stroke="#666" stroke-width="0.4"/><line x1="249.05" y1="71.9" x2="249.05" y2="72.7" stroke="#666" stroke-width="0.4"/><line x1="249.78" y1="71.9" x2="249.78" y2="72.7" stroke="#666" stroke-width="0.4"/><line x1="250.42" y1="71.9" x2="250.42" y2="72.7" stroke="#666" stroke-width="0.4"/><line x1="251" y1="71.9" x2="251" y2="73.2" stroke="#555" stroke-width="0.6"/><text x="251" y="77.1" font-size="2.7" text-anchor="middle" font-weight="bold" fill="#333" font-family='"Liberation Sans", sans-serif'>10</text><text x="222.4" y="82.6" font-size="4.7" text-anchor="middle" font-weight="bold" fill="#111" stroke="#111" stroke-width="0.22" font-family='"Liberation Sans", sans-serif' textLength="15" lengthAdjust="spacingAndGlyphs">CD138 PE</text><text transform="translate(183.8 37.1) rotate(-90)" x="0" y="0" font-size="4.6" text-anchor="middle" font-weight="bold" fill="#111" font-family='"Liberation Sans", sans-serif' textLength="17.2" lengthAdjust="spacingAndGlyphs" stroke="#111" stroke-width="0.2">CD27 PC5</text><rect x="209.3" y="21.2" width="30.6" height="21.6" fill="none" stroke="#707070" stroke-width="0.8"/><rect x="213.9" y="13.9" width="22.4" height="3.4" fill="#fff" stroke="#ccc" stroke-width="0.5"/><text x="225.1" y="16.79" font-size="3.3" text-anchor="middle" font-weight="bold" fill="#111" font-family='"Liberation Sans", sans-serif' textLength="20.8" lengthAdjust="spacingAndGlyphs" stroke="#111" stroke-width="0.12">Plasma cells</text><text x="233.6" y="41" font-size="3" text-anchor="middle" font-weight="bold" fill="#111" font-family='"Liberation Sans", sans-serif' stroke="#111" stroke-width="0.12">0.17%</text><rect x="193.6" y="89.1" width="58.2" height="68.6" fill="none" stroke="#858585" stroke-width="0.9"/><line x1="193.6" y1="157.7" x2="251.8" y2="157.7" stroke="#4a4a4a" stroke-width="0.9"/><line x1="193.6" y1="89.1" x2="193.6" y2="157.7" stroke="#777" stroke-width="0.9"/><line x1="192.3" y1="90" x2="193.6" y2="90" stroke="#555" stroke-width="0.6"/><text x="190.6" y="90.95" font-size="2.7" text-anchor="end" font-weight="bold" fill="#333" font-family='"Liberation Sans", sans-serif'>10</text><line x1="192.3" y1="102.5" x2="193.6" y2="102.5" stroke="#555" stroke-width="0.6"/><text x="190.6" y="103.45" font-size="2.7" text-anchor="end" font-weight="bold" fill="#333" font-family='"Liberation Sans", sans-serif'>10</text><line x1="192.3" y1="115.2" x2="193.6" y2="115.2" stroke="#555" stroke-width="0.6"/><text x="190.6" y="116.15" font-size="2.7" text-anchor="end" font-weight="bold" fill="#333" font-family='"Liberation Sans", sans-serif'>10</text><line x1="192.3" y1="127.8" x2="193.6" y2="127.8" stroke="#555" stroke-width="0.6"/><text x="190.6" y="128.75" font-size="2.7" text-anchor="end" font-weight="bold" fill="#333" font-family='"Liberation Sans", sans-serif'>10</text><line x1="192.3" y1="141.4" x2="193.6" y2="141.4" stroke="#555" stroke-width="0.6"/><text x="190.6" y="142.35" font-size="2.7" text-anchor="end" font-weight="bold" fill="#333" font-family='"Liberation Sans", sans-serif'>10</text><line x1="192.3" y1="151.5" x2="193.6" y2="151.5" stroke="#555" stroke-width="0.6"/><text x="190.6" y="152.45" font-size="2.7" text-anchor="end" font-weight="bold" fill="#333" font-family='"Liberation Sans", sans-serif'>0</text><line x1="199.2" y1="157.7" x2="199.2" y2="159" stroke="#555" stroke-width="0.6"/><text x="199.2" y="162.9" font-size="2.7" text-anchor="middle" font-weight="bold" fill="#333" font-family='"Liberation Sans", sans-serif'>0</text><line x1="202.99" y1="157.7" x2="202.99" y2="158.5" stroke="#666" stroke-width="0.4"/><line x1="205.21" y1="157.7" x2="205.21" y2="158.5" stroke="#666" stroke-width="0.4"/><line x1="206.79" y1="157.7" x2="206.79" y2="158.5" stroke="#666" stroke-width="0.4"/><line x1="208.01" y1="157.7" x2="208.01" y2="158.5" stroke="#666" stroke-width="0.4"/><line x1="209" y1="157.7" x2="209" y2="158.5" stroke="#666" stroke-width="0.4"/><line x1="209.85" y1="157.7" x2="209.85" y2="158.5" stroke="#666" stroke-width="0.4"/><line x1="210.58" y1="157.7" x2="210.58" y2="158.5" stroke="#666" stroke-width="0.4"/><line x1="211.22" y1="157.7" x2="211.22" y2="158.5" stroke="#666" stroke-width="0.4"/><line x1="211.8" y1="157.7" x2="211.8" y2="159" stroke="#555" stroke-width="0.6"/><text x="211.8" y="162.9" font-size="2.7" text-anchor="middle" font-weight="bold" fill="#333" font-family='"Liberation Sans", sans-serif'>10</text><line x1="215.74" y1="157.7" x2="215.74" y2="158.5" stroke="#666" stroke-width="0.4"/><line x1="218.05" y1="157.7" x2="218.05" y2="158.5" stroke="#666" stroke-width="0.4"/><line x1="219.69" y1="157.7" x2="219.69" y2="158.5" stroke="#666" stroke-width="0.4"/><line x1="220.96" y1="157.7" x2="220.96" y2="158.5" stroke="#666" stroke-width="0.4"/><line x1="221.99" y1="157.7" x2="221.99" y2="158.5" stroke="#666" stroke-width="0.4"/><line x1="222.87" y1="157.7" x2="222.87" y2="158.5" stroke="#666" stroke-width="0.4"/><line x1="223.63" y1="157.7" x2="223.63" y2="158.5" stroke="#666" stroke-width="0.4"/><line x1="224.3" y1="157.7" x2="224.3" y2="158.5" stroke="#666" stroke-width="0.4"/><line x1="224.9" y1="157.7" x2="224.9" y2="159" stroke="#555" stroke-width="0.6"/><text x="224.9" y="162.9" font-size="2.7" text-anchor="middle" font-weight="bold" fill="#333" font-family='"Liberation Sans", sans-serif'>10</text><line x1="228.96" y1="157.7" x2="228.96" y2="158.5" stroke="#666" stroke-width="0.4"/><line x1="231.34" y1="157.7" x2="231.34" y2="158.5" stroke="#666" stroke-width="0.4"/><line x1="233.03" y1="157.7" x2="233.03" y2="158.5" stroke="#666" stroke-width="0.4"/><line x1="234.34" y1="157.7" x2="234.34" y2="158.5" stroke="#666" stroke-width="0.4"/><line x1="235.41" y1="157.7" x2="235.41" y2="158.5" stroke="#666" stroke-width="0.4"/><line x1="236.31" y1="157.7" x2="236.31" y2="158.5" stroke="#666" stroke-width="0.4"/><line x1="237.09" y1="157.7" x2="237.09" y2="158.5" stroke="#666" stroke-width="0.4"/><line x1="237.78" y1="157.7" x2="237.78" y2="158.5" stroke="#666" stroke-width="0.4"/><line x1="238.4" y1="157.7" x2="238.4" y2="159" stroke="#555" stroke-width="0.6"/><text x="238.4" y="162.9" font-size="2.7" text-anchor="middle" font-weight="bold" fill="#333" font-family='"Liberation Sans", sans-serif'>10</text><line x1="242.19" y1="157.7" x2="242.19" y2="158.5" stroke="#666" stroke-width="0.4"/><line x1="244.41" y1="157.7" x2="244.41" y2="158.5" stroke="#666" stroke-width="0.4"/><line x1="245.99" y1="157.7" x2="245.99" y2="158.5" stroke="#666" stroke-width="0.4"/><line x1="247.21" y1="157.7" x2="247.21" y2="158.5" stroke="#666" stroke-width="0.4"/><line x1="248.2" y1="157.7" x2="248.2" y2="158.5" stroke="#666" stroke-width="0.4"/><line x1="249.05" y1="157.7" x2="249.05" y2="158.5" stroke="#666" stroke-width="0.4"/><line x1="249.78" y1="157.7" x2="249.78" y2="158.5" stroke="#666" stroke-width="0.4"/><line x1="250.42" y1="157.7" x2="250.42" y2="158.5" stroke="#666" stroke-width="0.4"/><line x1="251" y1="157.7" x2="251" y2="159" stroke="#555" stroke-width="0.6"/><text x="251" y="162.9" font-size="2.7" text-anchor="middle" font-weight="bold" fill="#333" font-family='"Liberation Sans", sans-serif'>10</text><text x="222.4" y="168.8" font-size="4.7" text-anchor="middle" font-weight="bold" fill="#111" stroke="#111" stroke-width="0.22" font-family='"Liberation Sans", sans-serif' textLength="15" lengthAdjust="spacingAndGlyphs">CD138 PE</text><text transform="translate(183.6 124) rotate(-90)" x="0" y="0" font-size="4.6" text-anchor="middle" font-weight="bold" fill="#111" font-family='"Liberation Sans", sans-serif' textLength="17.9" lengthAdjust="spacingAndGlyphs" stroke="#111" stroke-width="0.2">CD27 PC5</text><rect x="209.7" y="108.4" width="30.2" height="21.1" fill="none" stroke="#707070" stroke-width="0.8"/><rect x="213.9" y="100.5" width="22.1" height="4.5" fill="#fff" stroke="#ccc" stroke-width="0.5"/><text x="224.95" y="103.94" font-size="3.3" text-anchor="middle" font-weight="bold" fill="#111" font-family='"Liberation Sans", sans-serif' textLength="20.5" lengthAdjust="spacingAndGlyphs" stroke="#111" stroke-width="0.12">Plasma cells</text><text x="233.6" y="127.6" font-size="3" text-anchor="middle" font-weight="bold" fill="#111" font-family='"Liberation Sans", sans-serif' stroke="#111" stroke-width="0.12">1.27%</text></svg></body></html>
